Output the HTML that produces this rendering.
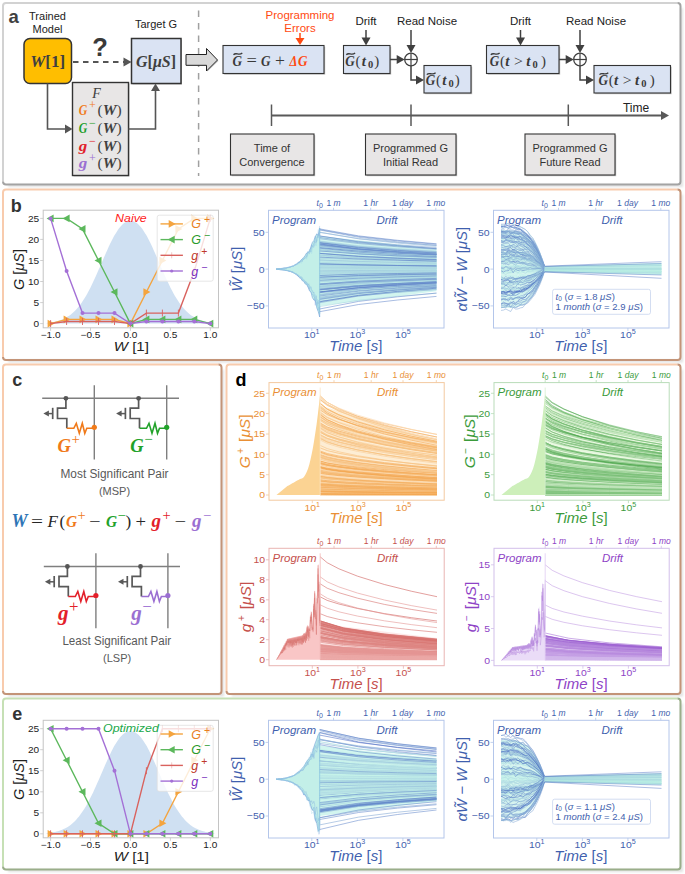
<!DOCTYPE html>
<html><head><meta charset="utf-8"><style>
html,body{margin:0;padding:0;background:#fff;width:685px;height:874px;overflow:hidden}
svg{display:block}
</style></head><body>
<svg width="685" height="874" viewBox="0 0 685 874">
<defs><filter id="blur1" x="-5%" y="-5%" width="110%" height="110%"><feGaussianBlur stdDeviation="1.2"/></filter></defs>
<rect width="685" height="874" fill="#fff"/>
<path d="M681.7,8 L681.7,185.7 L8,185.7" fill="none" stroke="#000" stroke-opacity="0.12" stroke-width="2.5" filter="url(#blur1)"/>
<path d="M3,181.5 L3,6 Q3,3 6,3 L677.5,3" fill="none" stroke="#d2d2d2" stroke-width="2"/>
<path d="M677.5,3 Q680.5,3 680.5,6 L680.5,181.5 Q680.5,184.5 677.5,184.5 L6,184.5 Q3,184.5 3,181.5" fill="none" stroke="#a3a3a3" stroke-width="2"/>
<path d="M681.7,194.5 L681.7,361.2 L8,361.2" fill="none" stroke="#000" stroke-opacity="0.12" stroke-width="2.5" filter="url(#blur1)"/>
<path d="M3,357 L3,192.5 Q3,189.5 6,189.5 L677.5,189.5" fill="none" stroke="#f8cbad" stroke-width="2"/>
<path d="M677.5,189.5 Q680.5,189.5 680.5,192.5 L680.5,357 Q680.5,360 677.5,360 L6,360 Q3,360 3,357" fill="none" stroke="#c39478" stroke-width="2"/>
<path d="M222.7,369.5 L222.7,695.2 L8,695.2" fill="none" stroke="#000" stroke-opacity="0.12" stroke-width="2.5" filter="url(#blur1)"/>
<path d="M3,691 L3,367.5 Q3,364.5 6,364.5 L218.5,364.5" fill="none" stroke="#f8cbad" stroke-width="2"/>
<path d="M218.5,364.5 Q221.5,364.5 221.5,367.5 L221.5,691 Q221.5,694 218.5,694 L6,694 Q3,694 3,691" fill="none" stroke="#c39478" stroke-width="2"/>
<path d="M681.7,369.5 L681.7,695.2 L231.5,695.2" fill="none" stroke="#000" stroke-opacity="0.12" stroke-width="2.5" filter="url(#blur1)"/>
<path d="M226.5,691 L226.5,367.5 Q226.5,364.5 229.5,364.5 L677.5,364.5" fill="none" stroke="#f8cbad" stroke-width="2"/>
<path d="M677.5,364.5 Q680.5,364.5 680.5,367.5 L680.5,691 Q680.5,694 677.5,694 L229.5,694 Q226.5,694 226.5,691" fill="none" stroke="#c39478" stroke-width="2"/>
<path d="M681.7,703.5 L681.7,870.7 L8,870.7" fill="none" stroke="#000" stroke-opacity="0.12" stroke-width="2.5" filter="url(#blur1)"/>
<path d="M3,866.5 L3,701.5 Q3,698.5 6,698.5 L677.5,698.5" fill="none" stroke="#c6e0b5" stroke-width="2"/>
<path d="M677.5,698.5 Q680.5,698.5 680.5,701.5 L680.5,866.5 Q680.5,869.5 677.5,869.5 L6,869.5 Q3,869.5 3,866.5" fill="none" stroke="#9aae8a" stroke-width="2"/>
<text x="47.5" y="20" font-size="11" fill="#222" text-anchor="middle" font-family='"Liberation Sans", sans-serif' font-weight="normal" font-style="normal" >Trained</text>
<text x="47.5" y="33" font-size="11" fill="#222" text-anchor="middle" font-family='"Liberation Sans", sans-serif' font-weight="normal" font-style="normal" >Model</text>
<rect x="24" y="38.5" width="47.5" height="45" rx="6" fill="#ffbe00" stroke="#333" stroke-width="1.5"/>
<text x="47.7" y="67" font-size="17" fill="#404040" text-anchor="middle" font-family='"Liberation Serif", serif' font-weight="bold" font-style="normal" ><tspan font-style="italic">W</tspan>[1]</text>
<text x="100" y="55.5" font-size="25.5" fill="#3a3a3a" text-anchor="middle" font-family='"Liberation Sans", sans-serif' font-weight="bold" font-style="normal" >?</text>
<line x1="73" y1="62" x2="125" y2="62" stroke="#555" stroke-width="2" stroke-dasharray="5.5,4.5"/>
<path d="M131.5,62 L123.5,57.5 L123.5,66.5 Z" fill="#555"/>
<text x="156" y="28" font-size="11" fill="#222" text-anchor="middle" font-family='"Liberation Sans", sans-serif' font-weight="normal" font-style="normal" >Target G</text>
<rect x="132.5" y="39.5" width="49.5" height="45" fill="#888" opacity="0.5"/>
<rect x="131.5" y="38.5" width="49.5" height="45" fill="#dae3f3" stroke="#333" stroke-width="1.5"/>
<text x="156" y="66.5" font-size="16" fill="#404040" text-anchor="middle" font-family='"Liberation Serif", serif' font-weight="bold" font-style="normal" ><tspan font-style="italic">G</tspan>[<tspan font-style="italic">μS</tspan>]</text>
<rect x="73.5" y="83.5" width="56" height="93" fill="#888" opacity="0.5"/>
<rect x="72.5" y="82.5" width="56" height="93" fill="#e8e6e6" stroke="#333" stroke-width="1.4"/>
<text x="96.5" y="97.5" font-size="14" fill="#404040" text-anchor="middle" font-family='"Liberation Serif", serif' font-weight="normal" font-style="italic" >F</text>
<text x="78.7" y="115" font-size="15.5" font-family='"Liberation Serif", serif' font-weight="bold" font-style="italic" fill="#f07a1a" textLength="8.5" lengthAdjust="spacingAndGlyphs">G</text>
<text x="89" y="109" font-size="12" font-family='"Liberation Serif", serif' fill="#f07a1a">+</text>
<text x="97.5" y="115" font-size="15.5" font-family='"Liberation Serif", serif' fill="#404040">(<tspan font-weight="bold" font-style="italic">W</tspan>)</text>
<text x="78.7" y="133.2" font-size="15.5" font-family='"Liberation Serif", serif' font-weight="bold" font-style="italic" fill="#1e9e2a" textLength="8.5" lengthAdjust="spacingAndGlyphs">G</text>
<text x="89" y="127.19999999999999" font-size="12" font-family='"Liberation Serif", serif' fill="#1e9e2a">−</text>
<text x="97.5" y="133.2" font-size="15.5" font-family='"Liberation Serif", serif' fill="#404040">(<tspan font-weight="bold" font-style="italic">W</tspan>)</text>
<text x="78.7" y="150.9" font-size="15.5" font-family='"Liberation Serif", serif' font-weight="bold" font-style="italic" fill="#e0202a" textLength="8.5" lengthAdjust="spacingAndGlyphs">g</text>
<text x="89" y="144.9" font-size="12" font-family='"Liberation Serif", serif' fill="#e0202a">−</text>
<text x="97.5" y="150.9" font-size="15.5" font-family='"Liberation Serif", serif' fill="#404040">(<tspan font-weight="bold" font-style="italic">W</tspan>)</text>
<text x="78.7" y="168.4" font-size="15.5" font-family='"Liberation Serif", serif' font-weight="bold" font-style="italic" fill="#9b6fd2" textLength="8.5" lengthAdjust="spacingAndGlyphs">g</text>
<text x="89" y="162.4" font-size="12" font-family='"Liberation Serif", serif' fill="#9b6fd2">+</text>
<text x="97.5" y="168.4" font-size="15.5" font-family='"Liberation Serif", serif' fill="#404040">(<tspan font-weight="bold" font-style="italic">W</tspan>)</text>
<path d="M47.5,83.5 L47.5,129 L66,129" fill="none" stroke="#555" stroke-width="1.6"/>
<path d="M72.5,129 L65,124.5 L65,133.5 Z" fill="#555"/>
<path d="M128.5,129 L155.5,129 L155.5,90" fill="none" stroke="#555" stroke-width="1.6"/>
<path d="M155.5,83.5 L151,91 L160,91 Z" fill="#555"/>
<line x1="198.6" y1="10.5" x2="198.6" y2="176" stroke="#a0a0a0" stroke-width="1.5" stroke-dasharray="6.5,6"/>
<path d="M186.5,55.5 L206.5,55.5 L206.5,49.5 L217.5,60 L206.5,70.5 L206.5,65 L186.5,65 Z" fill="#888" opacity="0.45" transform="translate(1,1)"/>
<path d="M186,54.5 L206.5,54.5 L206.5,48.5 L217.5,60 L206.5,71 L206.5,65.3 L186,65.3 Z" fill="#d9d9d9" stroke="#222" stroke-width="1"/>
<text x="300" y="19" font-size="11.5" fill="#ff4a12" text-anchor="middle" font-family='"Liberation Sans", sans-serif' font-weight="normal" font-style="normal" >Programming</text>
<text x="300" y="31.5" font-size="11.5" fill="#ff4a12" text-anchor="middle" font-family='"Liberation Sans", sans-serif' font-weight="normal" font-style="normal" >Errors</text>
<line x1="300" y1="33" x2="300" y2="40" stroke="#ff4a12" stroke-width="1.5"/>
<path d="M300,45 L295.5,38 L304.5,38 Z" fill="#ff4a12"/>
<rect x="224.2" y="46.7" width="101" height="28.0" fill="#888" opacity="0.5"/>
<rect x="223" y="45.5" width="101" height="28.0" fill="#dae3f3" stroke="#333" stroke-width="1.1"/>
<text transform="translate(232.4 65.6) scale(0.85 1)" font-size="15.5" font-family='"Liberation Serif", serif' font-weight="bold" font-style="italic" fill="#3a3a3a">G</text>
<path d="M233.5,54.8 C236.1,51.8 238.8,56.2 242.3,53" fill="none" stroke="#3a3a3a" stroke-width="1.3"/>
<text transform="translate(246.5 65.6) scale(1.15 1)" font-size="16" font-family='"Liberation Serif", serif' font-weight="normal" font-style="normal" fill="#3a3a3a">=</text>
<text transform="translate(260.9 65.6) scale(0.85 1)" font-size="15.5" font-family='"Liberation Serif", serif' font-weight="bold" font-style="italic" fill="#3a3a3a">G</text>
<text transform="translate(275 65.6) scale(1.1 1)" font-size="16" font-family='"Liberation Serif", serif' font-weight="normal" font-style="normal" fill="#3a3a3a">+</text>
<text transform="translate(289.5 65.6) scale(0.9 1)" font-size="14" font-family='"Liberation Serif", serif' font-weight="bold" font-style="italic" fill="#ff4a12">Δ</text>
<text transform="translate(298.1 65.6) scale(0.85 1)" font-size="15.5" font-family='"Liberation Serif", serif' font-weight="bold" font-style="italic" fill="#ff4a12">G</text>
<rect x="344.7" y="46.7" width="46.5" height="28.0" fill="#888" opacity="0.5"/>
<rect x="343.5" y="45.5" width="46.5" height="28.0" fill="#dae3f3" stroke="#333" stroke-width="1.1"/>
<text transform="translate(345.2 65.6) scale(0.85 1)" font-size="15.5" font-family='"Liberation Serif", serif' font-weight="bold" font-style="italic" fill="#3a3a3a">G</text>
<path d="M346.3,54.8 C348.9,51.8 351.6,56.2 355.1,53" fill="none" stroke="#3a3a3a" stroke-width="1.3"/>
<text transform="translate(355.5 65.6) scale(1.0 1)" font-size="15" font-family='"Liberation Serif", serif' font-weight="normal" font-style="normal" fill="#3a3a3a">(</text>
<text transform="translate(361.8 65.6) scale(1.0 1)" font-size="15" font-family='"Liberation Serif", serif' font-weight="bold" font-style="italic" fill="#3a3a3a">t</text>
<text transform="translate(368 67.6) scale(1.0 1)" font-size="10.5" font-family='"Liberation Serif", serif' font-weight="bold" font-style="normal" fill="#3a3a3a">0</text>
<text transform="translate(374.3 65.6) scale(1.0 1)" font-size="15" font-family='"Liberation Serif", serif' font-weight="normal" font-style="normal" fill="#3a3a3a">)</text>
<rect x="425.2" y="66.7" width="47" height="27.5" fill="#888" opacity="0.5"/>
<rect x="424" y="65.5" width="47" height="27.5" fill="#dae3f3" stroke="#333" stroke-width="1.1"/>
<text transform="translate(425.7 85.4) scale(0.85 1)" font-size="15.5" font-family='"Liberation Serif", serif' font-weight="bold" font-style="italic" fill="#3a3a3a">G</text>
<path d="M426.8,74.6 C429.4,71.6 432.1,76 435.6,72.8" fill="none" stroke="#3a3a3a" stroke-width="1.3"/>
<text transform="translate(436 85.4) scale(1.0 1)" font-size="15" font-family='"Liberation Serif", serif' font-weight="normal" font-style="normal" fill="#3a3a3a">(</text>
<text transform="translate(442.3 85.4) scale(1.0 1)" font-size="15" font-family='"Liberation Serif", serif' font-weight="bold" font-style="italic" fill="#3a3a3a">t</text>
<text transform="translate(448.5 87.4) scale(1.0 1)" font-size="10.5" font-family='"Liberation Serif", serif' font-weight="bold" font-style="normal" fill="#3a3a3a">0</text>
<text transform="translate(454.8 85.4) scale(1.0 1)" font-size="15" font-family='"Liberation Serif", serif' font-weight="normal" font-style="normal" fill="#3a3a3a">)</text>
<rect x="487.7" y="46.7" width="72.5" height="28.0" fill="#888" opacity="0.5"/>
<rect x="486.5" y="45.5" width="72.5" height="28.0" fill="#dae3f3" stroke="#333" stroke-width="1.1"/>
<text transform="translate(489.7 65.6) scale(0.85 1)" font-size="15.5" font-family='"Liberation Serif", serif' font-weight="bold" font-style="italic" fill="#3a3a3a">G</text>
<path d="M490.8,54.8 C493.4,51.8 496.1,56.2 499.6,53" fill="none" stroke="#3a3a3a" stroke-width="1.3"/>
<text transform="translate(500 65.6) scale(1.0 1)" font-size="15" font-family='"Liberation Serif", serif' font-weight="normal" font-style="normal" fill="#3a3a3a">(</text>
<text transform="translate(505.3 65.6) scale(1.0 1)" font-size="15" font-family='"Liberation Serif", serif' font-weight="bold" font-style="italic" fill="#3a3a3a">t</text>
<text transform="translate(514 65.6) scale(1.05 1)" font-size="15" font-family='"Liberation Serif", serif' font-weight="normal" font-style="normal" fill="#3a3a3a">&gt;</text>
<text transform="translate(526.3 65.6) scale(1.0 1)" font-size="15" font-family='"Liberation Serif", serif' font-weight="bold" font-style="italic" fill="#3a3a3a">t</text>
<text transform="translate(532.5 67.6) scale(1.0 1)" font-size="10.5" font-family='"Liberation Serif", serif' font-weight="bold" font-style="normal" fill="#3a3a3a">0</text>
<text transform="translate(541 65.6) scale(1.0 1)" font-size="15" font-family='"Liberation Serif", serif' font-weight="normal" font-style="normal" fill="#3a3a3a">)</text>
<rect x="595.2" y="66.7" width="76.5" height="27.5" fill="#888" opacity="0.5"/>
<rect x="594" y="65.5" width="76.5" height="27.5" fill="#dae3f3" stroke="#333" stroke-width="1.1"/>
<text transform="translate(598.4 85.4) scale(0.85 1)" font-size="15.5" font-family='"Liberation Serif", serif' font-weight="bold" font-style="italic" fill="#3a3a3a">G</text>
<path d="M599.5,74.6 C602.1,71.6 604.8,76 608.3,72.8" fill="none" stroke="#3a3a3a" stroke-width="1.3"/>
<text transform="translate(608.7 85.4) scale(1.0 1)" font-size="15" font-family='"Liberation Serif", serif' font-weight="normal" font-style="normal" fill="#3a3a3a">(</text>
<text transform="translate(614 85.4) scale(1.0 1)" font-size="15" font-family='"Liberation Serif", serif' font-weight="bold" font-style="italic" fill="#3a3a3a">t</text>
<text transform="translate(622.7 85.4) scale(1.05 1)" font-size="15" font-family='"Liberation Serif", serif' font-weight="normal" font-style="normal" fill="#3a3a3a">&gt;</text>
<text transform="translate(635 85.4) scale(1.0 1)" font-size="15" font-family='"Liberation Serif", serif' font-weight="bold" font-style="italic" fill="#3a3a3a">t</text>
<text transform="translate(641.2 87.4) scale(1.0 1)" font-size="10.5" font-family='"Liberation Serif", serif' font-weight="bold" font-style="normal" fill="#3a3a3a">0</text>
<text transform="translate(649.7 85.4) scale(1.0 1)" font-size="15" font-family='"Liberation Serif", serif' font-weight="normal" font-style="normal" fill="#3a3a3a">)</text>
<text x="366" y="25" font-size="11.5" fill="#222" text-anchor="middle" font-family='"Liberation Sans", sans-serif' font-weight="normal" font-style="normal" >Drift</text>
<line x1="366" y1="30" x2="366" y2="39.5" stroke="#404040" stroke-width="1.5"/>
<path d="M366,45.5 L361.5,37.5 L370.5,37.5 Z" fill="#404040"/>
<text x="427" y="25" font-size="11.5" fill="#222" text-anchor="middle" font-family='"Liberation Sans", sans-serif' font-weight="normal" font-style="normal" >Read Noise</text>
<line x1="411" y1="30" x2="411" y2="47" stroke="#404040" stroke-width="1.5"/>
<path d="M411,53 L406.5,45 L415.5,45 Z" fill="#404040"/>
<line x1="390" y1="59.5" x2="398.7" y2="59.5" stroke="#404040" stroke-width="1.5"/>
<path d="M404.7,59.5 L396.7,55.0 L396.7,64.0 Z" fill="#404040"/>
<circle cx="411" cy="59.5" r="6.3" fill="none" stroke="#404040" stroke-width="1.3"/>
<line x1="404.7" y1="59.5" x2="417.3" y2="59.5" stroke="#404040" stroke-width="1.2"/>
<line x1="411" y1="53.2" x2="411" y2="65.8" stroke="#404040" stroke-width="1.2"/>
<path d="M411,65.8 L411,80 L418,80" fill="none" stroke="#404040" stroke-width="1.5"/>
<path d="M424,80 L416,75.5 L416,84.5 Z" fill="#404040"/>
<text x="520.5" y="25" font-size="11.5" fill="#222" text-anchor="middle" font-family='"Liberation Sans", sans-serif' font-weight="normal" font-style="normal" >Drift</text>
<line x1="520.5" y1="30" x2="520.5" y2="39.5" stroke="#404040" stroke-width="1.5"/>
<path d="M520.5,45.5 L516.0,37.5 L525.0,37.5 Z" fill="#404040"/>
<text x="596" y="25" font-size="11.5" fill="#222" text-anchor="middle" font-family='"Liberation Sans", sans-serif' font-weight="normal" font-style="normal" >Read Noise</text>
<line x1="580" y1="30" x2="580" y2="47" stroke="#404040" stroke-width="1.5"/>
<path d="M580,53 L575.5,45 L584.5,45 Z" fill="#404040"/>
<line x1="559" y1="59.5" x2="567.7" y2="59.5" stroke="#404040" stroke-width="1.5"/>
<path d="M573.7,59.5 L565.7,55.0 L565.7,64.0 Z" fill="#404040"/>
<circle cx="580" cy="59.5" r="6.3" fill="none" stroke="#404040" stroke-width="1.3"/>
<line x1="573.7" y1="59.5" x2="586.3" y2="59.5" stroke="#404040" stroke-width="1.2"/>
<line x1="580" y1="53.2" x2="580" y2="65.8" stroke="#404040" stroke-width="1.2"/>
<path d="M580,65.8 L580,80 L588,80" fill="none" stroke="#404040" stroke-width="1.5"/>
<path d="M594,80 L586,75.5 L586,84.5 Z" fill="#404040"/>
<line x1="271.5" y1="115.5" x2="662" y2="115.5" stroke="#595959" stroke-width="2"/>
<path d="M669,115.5 L661,111 L661,120 Z" fill="#595959"/>
<line x1="271.5" y1="104.5" x2="271.5" y2="126" stroke="#595959" stroke-width="1.5"/>
<line x1="411" y1="104.5" x2="411" y2="126" stroke="#595959" stroke-width="1.5"/>
<line x1="568.3" y1="104.5" x2="568.3" y2="126" stroke="#595959" stroke-width="1.5"/>
<text x="636" y="112" font-size="12" fill="#222" text-anchor="middle" font-family='"Liberation Sans", sans-serif' font-weight="normal" font-style="normal" >Time</text>
<rect x="231.7" y="135.2" width="83.5" height="41" fill="#888" opacity="0.5"/>
<rect x="230.5" y="134" width="83.5" height="41" fill="#e8e6e6" stroke="#333" stroke-width="1.1"/>
<text x="272" y="152" font-size="11" fill="#333" text-anchor="middle" font-family='"Liberation Sans", sans-serif' font-weight="normal" font-style="normal" >Time of</text>
<text x="272" y="166" font-size="11" fill="#333" text-anchor="middle" font-family='"Liberation Sans", sans-serif' font-weight="normal" font-style="normal" >Convergence</text>
<rect x="366.7" y="135.2" width="90.5" height="41" fill="#888" opacity="0.5"/>
<rect x="365.5" y="134" width="90.5" height="41" fill="#e8e6e6" stroke="#333" stroke-width="1.1"/>
<text x="410.5" y="152" font-size="11" fill="#333" text-anchor="middle" font-family='"Liberation Sans", sans-serif' font-weight="normal" font-style="normal" >Programmed G</text>
<text x="410.5" y="166" font-size="11" fill="#333" text-anchor="middle" font-family='"Liberation Sans", sans-serif' font-weight="normal" font-style="normal" >Initial Read</text>
<rect x="526.2" y="135.2" width="90" height="41" fill="#888" opacity="0.5"/>
<rect x="525" y="134" width="90" height="41" fill="#e8e6e6" stroke="#333" stroke-width="1.1"/>
<text x="570" y="152" font-size="11" fill="#333" text-anchor="middle" font-family='"Liberation Sans", sans-serif' font-weight="normal" font-style="normal" >Programmed G</text>
<text x="570" y="166" font-size="11" fill="#333" text-anchor="middle" font-family='"Liberation Sans", sans-serif' font-weight="normal" font-style="normal" >Future Read</text>
<path d="M46.6,323.6 L46.6,322.9 L48,322.7 L49.4,322.6 L50.8,322.4 L52.2,322.2 L53.7,321.9 L55.1,321.7 L56.5,321.3 L57.9,321 L59.3,320.5 L60.7,320.1 L62.1,319.5 L63.5,318.9 L64.9,318.2 L66.3,317.5 L67.7,316.6 L69.2,315.7 L70.6,314.7 L72,313.6 L73.4,312.3 L74.8,311 L76.2,309.5 L77.6,307.9 L79,306.2 L80.4,304.4 L81.8,302.4 L83.2,300.3 L84.7,298.1 L86.1,295.7 L87.5,293.2 L88.9,290.6 L90.3,287.9 L91.7,285.1 L93.1,282.1 L94.5,279.1 L95.9,276 L97.3,272.8 L98.7,269.6 L100.2,266.4 L101.6,263.1 L103,259.8 L104.4,256.6 L105.8,253.3 L107.2,250.2 L108.6,247.1 L110,244.1 L111.4,241.2 L112.8,238.4 L114.2,235.8 L115.7,233.4 L117.1,231.2 L118.5,229.1 L119.9,227.3 L121.3,225.7 L122.7,224.3 L124.1,223.1 L125.5,222.2 L126.9,221.6 L128.3,221.1 L129.7,220.9 L131.2,220.9 L132.6,221.1 L134,221.6 L135.4,222.2 L136.8,223.1 L138.2,224.3 L139.6,225.7 L141,227.3 L142.4,229.1 L143.8,231.2 L145.2,233.4 L146.7,235.8 L148.1,238.4 L149.5,241.2 L150.9,244.1 L152.3,247.1 L153.7,250.2 L155.1,253.3 L156.5,256.6 L157.9,259.8 L159.3,263.1 L160.7,266.4 L162.2,269.6 L163.6,272.8 L165,276 L166.4,279.1 L167.8,282.1 L169.2,285.1 L170.6,287.9 L172,290.6 L173.4,293.2 L174.8,295.7 L176.2,298.1 L177.7,300.3 L179.1,302.4 L180.5,304.4 L181.9,306.2 L183.3,307.9 L184.7,309.5 L186.1,311 L187.5,312.3 L188.9,313.6 L190.3,314.7 L191.7,315.7 L193.2,316.6 L194.6,317.5 L196,318.2 L197.4,318.9 L198.8,319.5 L200.2,320.1 L201.6,320.5 L203,321 L204.4,321.3 L205.8,321.7 L207.2,321.9 L208.7,322.2 L210.1,322.4 L211.5,322.6 L212.9,322.7 L214.3,322.9 L214.3,323.6 Z" fill="#cfe0f2"/>
<rect x="43.2" y="210.2" width="175.3" height="117.60000000000002" fill="none" stroke="#c4c4c4" stroke-width="1"/>
<line x1="40.2" y1="323.6" x2="43.2" y2="323.6" stroke="#c4c4c4" stroke-width="0.8"/>
<text transform="translate(39.2 326.9) scale(1.12 1)" font-size="9" fill="#222" text-anchor="end" font-family='"Liberation Sans", sans-serif' font-weight="normal" font-style="normal" >0</text>
<line x1="40.2" y1="302.6" x2="43.2" y2="302.6" stroke="#c4c4c4" stroke-width="0.8"/>
<text transform="translate(39.2 305.9) scale(1.12 1)" font-size="9" fill="#222" text-anchor="end" font-family='"Liberation Sans", sans-serif' font-weight="normal" font-style="normal" >5</text>
<line x1="40.2" y1="281.5" x2="43.2" y2="281.5" stroke="#c4c4c4" stroke-width="0.8"/>
<text transform="translate(39.2 284.8) scale(1.12 1)" font-size="9" fill="#222" text-anchor="end" font-family='"Liberation Sans", sans-serif' font-weight="normal" font-style="normal" >10</text>
<line x1="40.2" y1="260.5" x2="43.2" y2="260.5" stroke="#c4c4c4" stroke-width="0.8"/>
<text transform="translate(39.2 263.8) scale(1.12 1)" font-size="9" fill="#222" text-anchor="end" font-family='"Liberation Sans", sans-serif' font-weight="normal" font-style="normal" >15</text>
<line x1="40.2" y1="239.4" x2="43.2" y2="239.4" stroke="#c4c4c4" stroke-width="0.8"/>
<text transform="translate(39.2 242.7) scale(1.12 1)" font-size="9" fill="#222" text-anchor="end" font-family='"Liberation Sans", sans-serif' font-weight="normal" font-style="normal" >20</text>
<line x1="40.2" y1="218.4" x2="43.2" y2="218.4" stroke="#c4c4c4" stroke-width="0.8"/>
<text transform="translate(39.2 221.7) scale(1.12 1)" font-size="9" fill="#222" text-anchor="end" font-family='"Liberation Sans", sans-serif' font-weight="normal" font-style="normal" >25</text>
<line x1="50.6" y1="327.8" x2="50.6" y2="330.8" stroke="#c4c4c4" stroke-width="0.8"/>
<text transform="translate(50.6 338) scale(1.12 1)" font-size="9" fill="#222" text-anchor="middle" font-family='"Liberation Sans", sans-serif' font-weight="normal" font-style="normal" >−1.0</text>
<line x1="90.5" y1="327.8" x2="90.5" y2="330.8" stroke="#c4c4c4" stroke-width="0.8"/>
<text transform="translate(90.5 338) scale(1.12 1)" font-size="9" fill="#222" text-anchor="middle" font-family='"Liberation Sans", sans-serif' font-weight="normal" font-style="normal" >−0.5</text>
<line x1="130.4" y1="327.8" x2="130.4" y2="330.8" stroke="#c4c4c4" stroke-width="0.8"/>
<text transform="translate(130.4 338) scale(1.12 1)" font-size="9" fill="#222" text-anchor="middle" font-family='"Liberation Sans", sans-serif' font-weight="normal" font-style="normal" >0.0</text>
<line x1="170.4" y1="327.8" x2="170.4" y2="330.8" stroke="#c4c4c4" stroke-width="0.8"/>
<text transform="translate(170.4 338) scale(1.12 1)" font-size="9" fill="#222" text-anchor="middle" font-family='"Liberation Sans", sans-serif' font-weight="normal" font-style="normal" >0.5</text>
<line x1="210.3" y1="327.8" x2="210.3" y2="330.8" stroke="#c4c4c4" stroke-width="0.8"/>
<text transform="translate(210.3 338) scale(1.12 1)" font-size="9" fill="#222" text-anchor="middle" font-family='"Liberation Sans", sans-serif' font-weight="normal" font-style="normal" >1.0</text>
<text transform="translate(131.3 351.3) scale(1.12 1)" font-size="13.5" fill="#222" text-anchor="middle" font-family='"Liberation Sans", sans-serif' font-weight="normal" font-style="normal" ><tspan font-style="italic">W</tspan> [1]</text>
<text x="19.7" y="269.5" font-size="14.5" fill="#222" text-anchor="middle" font-family='"Liberation Sans", sans-serif' transform="rotate(-90 19.7 269.5)" dy="4.5"><tspan font-style="italic">G</tspan> [<tspan font-style="italic">μS</tspan>]</text>
<path d="M50.6,323.6 L66.6,319.4 L82.5,319.4 L98.5,319.4 L114.5,319.4 L130.4,323.6 L146.4,292 L162.4,260.5 L178.4,228.9 L194.3,218.4 L210.3,218.4" fill="none" stroke="#f4a43f" stroke-width="1.4"/>
<path d="M54.6,323.6 L47.6,319.8 L47.6,327.4 Z" fill="#f4a43f"/>
<path d="M70.6,319.4 L63.6,315.6 L63.6,323.2 Z" fill="#f4a43f"/>
<path d="M86.5,319.4 L79.5,315.6 L79.5,323.2 Z" fill="#f4a43f"/>
<path d="M102.5,319.4 L95.5,315.6 L95.5,323.2 Z" fill="#f4a43f"/>
<path d="M118.5,319.4 L111.5,315.6 L111.5,323.2 Z" fill="#f4a43f"/>
<path d="M134.4,323.6 L127.4,319.8 L127.4,327.4 Z" fill="#f4a43f"/>
<path d="M150.4,292 L143.4,288.2 L143.4,295.8 Z" fill="#f4a43f"/>
<path d="M166.4,260.5 L159.4,256.7 L159.4,264.3 Z" fill="#f4a43f"/>
<path d="M182.4,228.9 L175.4,225.1 L175.4,232.7 Z" fill="#f4a43f"/>
<path d="M198.3,218.4 L191.3,214.6 L191.3,222.2 Z" fill="#f4a43f"/>
<path d="M214.3,218.4 L207.3,214.6 L207.3,222.2 Z" fill="#f4a43f"/>
<path d="M50.6,218.4 L66.6,218.4 L82.5,228.9 L98.5,260.5 L114.5,292 L130.4,323.6 L146.4,319.4 L162.4,319.4 L178.4,319.4 L194.3,319.4 L210.3,323.6" fill="none" stroke="#5cb85c" stroke-width="1.4"/>
<path d="M46.6,218.4 L53.6,214.6 L53.6,222.2 Z" fill="#5cb85c"/>
<path d="M62.6,218.4 L69.6,214.6 L69.6,222.2 Z" fill="#5cb85c"/>
<path d="M78.5,228.9 L85.5,225.1 L85.5,232.7 Z" fill="#5cb85c"/>
<path d="M94.5,260.5 L101.5,256.7 L101.5,264.3 Z" fill="#5cb85c"/>
<path d="M110.5,292 L117.5,288.2 L117.5,295.8 Z" fill="#5cb85c"/>
<path d="M126.4,323.6 L133.4,319.8 L133.4,327.4 Z" fill="#5cb85c"/>
<path d="M142.4,319.4 L149.4,315.6 L149.4,323.2 Z" fill="#5cb85c"/>
<path d="M158.4,319.4 L165.4,315.6 L165.4,323.2 Z" fill="#5cb85c"/>
<path d="M174.4,319.4 L181.4,315.6 L181.4,323.2 Z" fill="#5cb85c"/>
<path d="M190.3,319.4 L197.3,315.6 L197.3,323.2 Z" fill="#5cb85c"/>
<path d="M206.3,323.6 L213.3,319.8 L213.3,327.4 Z" fill="#5cb85c"/>
<path d="M50.6,323.6 L66.6,321.5 L82.5,321.5 L98.5,321.5 L114.5,321.5 L130.4,323.6 L146.4,313.1 L162.4,313.1 L178.4,313.1 L194.3,271 L210.3,218.4" fill="none" stroke="#d9625e" stroke-width="1.4"/>
<path d="M50.6,320.1 V327.1" stroke="#d9625e" stroke-width="0.9"/>
<path d="M66.6,318 V325" stroke="#d9625e" stroke-width="0.9"/>
<path d="M82.5,318 V325" stroke="#d9625e" stroke-width="0.9"/>
<path d="M98.5,318 V325" stroke="#d9625e" stroke-width="0.9"/>
<path d="M114.5,318 V325" stroke="#d9625e" stroke-width="0.9"/>
<path d="M130.4,320.1 V327.1" stroke="#d9625e" stroke-width="0.9"/>
<path d="M146.4,309.6 V316.6" stroke="#d9625e" stroke-width="0.9"/>
<path d="M162.4,309.6 V316.6" stroke="#d9625e" stroke-width="0.9"/>
<path d="M178.4,309.6 V316.6" stroke="#d9625e" stroke-width="0.9"/>
<path d="M194.3,267.5 V274.5" stroke="#d9625e" stroke-width="0.9"/>
<path d="M210.3,214.9 V221.9" stroke="#d9625e" stroke-width="0.9"/>
<path d="M50.6,218.4 L66.6,271 L82.5,313.1 L98.5,313.1 L114.5,313.1 L130.4,323.6 L146.4,321.5 L162.4,321.5 L178.4,321.5 L194.3,321.5 L210.3,323.6" fill="none" stroke="#a470d6" stroke-width="1.4"/>
<circle cx="50.6" cy="218.4" r="2" fill="#a470d6"/>
<circle cx="66.6" cy="271" r="2" fill="#a470d6"/>
<circle cx="82.5" cy="313.1" r="2" fill="#a470d6"/>
<circle cx="98.5" cy="313.1" r="2" fill="#a470d6"/>
<circle cx="114.5" cy="313.1" r="2" fill="#a470d6"/>
<circle cx="130.4" cy="323.6" r="2" fill="#a470d6"/>
<circle cx="146.4" cy="321.5" r="2" fill="#a470d6"/>
<circle cx="162.4" cy="321.5" r="2" fill="#a470d6"/>
<circle cx="178.4" cy="321.5" r="2" fill="#a470d6"/>
<circle cx="194.3" cy="321.5" r="2" fill="#a470d6"/>
<circle cx="210.3" cy="323.6" r="2" fill="#a470d6"/>
<rect x="157.2" y="215.2" width="56" height="66" rx="2" fill="#fff" fill-opacity="0.8" stroke="#e0e0e0" stroke-width="0.8"/>
<line x1="160.5" y1="223.9" x2="182.9" y2="223.9" stroke="#f4a43f" stroke-width="1.4"/>
<path d="M175.7,223.9 L168.7,220.1 L168.7,227.7 Z" fill="#f4a43f"/>
<text x="191.2" y="228.4" font-size="12.5" fill="#e8801f" font-family='"Liberation Sans", sans-serif' font-style="italic">G<tspan dx="3" dy="-5" font-size="10.5" font-style="normal">+</tspan></text>
<line x1="160.5" y1="239.6" x2="182.9" y2="239.6" stroke="#5cb85c" stroke-width="1.4"/>
<path d="M167.7,239.6 L174.7,235.8 L174.7,243.4 Z" fill="#5cb85c"/>
<text x="191.2" y="244.1" font-size="12.5" fill="#2a9a2a" font-family='"Liberation Sans", sans-serif' font-style="italic">G<tspan dx="3" dy="-5" font-size="10.5" font-style="normal">−</tspan></text>
<line x1="160.5" y1="255.3" x2="182.9" y2="255.3" stroke="#d9625e" stroke-width="1.4"/>
<path d="M171.7,252.3 V258.3" stroke="#d9625e" stroke-width="0.6" stroke-opacity="0.6"/>
<text x="191.2" y="259.8" font-size="12.5" fill="#c0392b" font-family='"Liberation Sans", sans-serif' font-style="italic">g<tspan dx="3" dy="-5" font-size="10.5" font-style="normal">+</tspan></text>
<line x1="160.5" y1="271" x2="182.9" y2="271" stroke="#a470d6" stroke-width="1.4"/>
<circle cx="171.7" cy="271" r="1.6" fill="#a470d6"/>
<text x="191.2" y="275.5" font-size="12.5" fill="#7b2fbe" font-family='"Liberation Sans", sans-serif' font-style="italic">g<tspan dx="3" dy="-5" font-size="10.5" font-style="normal">−</tspan></text>
<text transform="translate(130.9 222.2) scale(1.08 1)" font-size="11.5" fill="#ff1a1a" text-anchor="middle" font-family='"Liberation Sans", sans-serif' font-weight="normal" font-style="italic" >Naive</text>
<path d="M46.6,833.8 L46.6,833.1 L48,832.9 L49.4,832.8 L50.8,832.6 L52.2,832.4 L53.7,832.1 L55.1,831.9 L56.5,831.5 L57.9,831.2 L59.3,830.7 L60.7,830.3 L62.1,829.7 L63.5,829.1 L64.9,828.4 L66.3,827.7 L67.7,826.9 L69.2,825.9 L70.6,824.9 L72,823.8 L73.4,822.5 L74.8,821.2 L76.2,819.7 L77.6,818.1 L79,816.4 L80.4,814.6 L81.8,812.6 L83.2,810.5 L84.7,808.3 L86.1,805.9 L87.5,803.5 L88.9,800.8 L90.3,798.1 L91.7,795.3 L93.1,792.4 L94.5,789.3 L95.9,786.3 L97.3,783.1 L98.7,779.9 L100.2,776.6 L101.6,773.3 L103,770.1 L104.4,766.8 L105.8,763.6 L107.2,760.4 L108.6,757.3 L110,754.4 L111.4,751.5 L112.8,748.7 L114.2,746.1 L115.7,743.7 L117.1,741.5 L118.5,739.4 L119.9,737.6 L121.3,736 L122.7,734.6 L124.1,733.4 L125.5,732.5 L126.9,731.9 L128.3,731.4 L129.7,731.2 L131.2,731.2 L132.6,731.4 L134,731.9 L135.4,732.5 L136.8,733.4 L138.2,734.6 L139.6,736 L141,737.6 L142.4,739.4 L143.8,741.5 L145.2,743.7 L146.7,746.1 L148.1,748.7 L149.5,751.5 L150.9,754.4 L152.3,757.3 L153.7,760.4 L155.1,763.6 L156.5,766.8 L157.9,770.1 L159.3,773.3 L160.7,776.6 L162.2,779.9 L163.6,783.1 L165,786.3 L166.4,789.3 L167.8,792.4 L169.2,795.3 L170.6,798.1 L172,800.8 L173.4,803.5 L174.8,805.9 L176.2,808.3 L177.7,810.5 L179.1,812.6 L180.5,814.6 L181.9,816.4 L183.3,818.1 L184.7,819.7 L186.1,821.2 L187.5,822.5 L188.9,823.8 L190.3,824.9 L191.7,825.9 L193.2,826.9 L194.6,827.7 L196,828.4 L197.4,829.1 L198.8,829.7 L200.2,830.3 L201.6,830.7 L203,831.2 L204.4,831.5 L205.8,831.9 L207.2,832.1 L208.7,832.4 L210.1,832.6 L211.5,832.8 L212.9,832.9 L214.3,833.1 L214.3,833.8 Z" fill="#cfe0f2"/>
<rect x="43.2" y="720.3" width="175.3" height="117.5" fill="none" stroke="#c4c4c4" stroke-width="1"/>
<line x1="40.2" y1="833.8" x2="43.2" y2="833.8" stroke="#c4c4c4" stroke-width="0.8"/>
<text transform="translate(39.2 837.1) scale(1.12 1)" font-size="9" fill="#222" text-anchor="end" font-family='"Liberation Sans", sans-serif' font-weight="normal" font-style="normal" >0</text>
<line x1="40.2" y1="812.8" x2="43.2" y2="812.8" stroke="#c4c4c4" stroke-width="0.8"/>
<text transform="translate(39.2 816.1) scale(1.12 1)" font-size="9" fill="#222" text-anchor="end" font-family='"Liberation Sans", sans-serif' font-weight="normal" font-style="normal" >5</text>
<line x1="40.2" y1="791.8" x2="43.2" y2="791.8" stroke="#c4c4c4" stroke-width="0.8"/>
<text transform="translate(39.2 795.1) scale(1.12 1)" font-size="9" fill="#222" text-anchor="end" font-family='"Liberation Sans", sans-serif' font-weight="normal" font-style="normal" >10</text>
<line x1="40.2" y1="770.7" x2="43.2" y2="770.7" stroke="#c4c4c4" stroke-width="0.8"/>
<text transform="translate(39.2 774) scale(1.12 1)" font-size="9" fill="#222" text-anchor="end" font-family='"Liberation Sans", sans-serif' font-weight="normal" font-style="normal" >15</text>
<line x1="40.2" y1="749.7" x2="43.2" y2="749.7" stroke="#c4c4c4" stroke-width="0.8"/>
<text transform="translate(39.2 753) scale(1.12 1)" font-size="9" fill="#222" text-anchor="end" font-family='"Liberation Sans", sans-serif' font-weight="normal" font-style="normal" >20</text>
<line x1="40.2" y1="728.7" x2="43.2" y2="728.7" stroke="#c4c4c4" stroke-width="0.8"/>
<text transform="translate(39.2 732) scale(1.12 1)" font-size="9" fill="#222" text-anchor="end" font-family='"Liberation Sans", sans-serif' font-weight="normal" font-style="normal" >25</text>
<line x1="50.6" y1="837.8" x2="50.6" y2="840.8" stroke="#c4c4c4" stroke-width="0.8"/>
<text transform="translate(50.6 848) scale(1.12 1)" font-size="9" fill="#222" text-anchor="middle" font-family='"Liberation Sans", sans-serif' font-weight="normal" font-style="normal" >−1.0</text>
<line x1="90.5" y1="837.8" x2="90.5" y2="840.8" stroke="#c4c4c4" stroke-width="0.8"/>
<text transform="translate(90.5 848) scale(1.12 1)" font-size="9" fill="#222" text-anchor="middle" font-family='"Liberation Sans", sans-serif' font-weight="normal" font-style="normal" >−0.5</text>
<line x1="130.4" y1="837.8" x2="130.4" y2="840.8" stroke="#c4c4c4" stroke-width="0.8"/>
<text transform="translate(130.4 848) scale(1.12 1)" font-size="9" fill="#222" text-anchor="middle" font-family='"Liberation Sans", sans-serif' font-weight="normal" font-style="normal" >0.0</text>
<line x1="170.4" y1="837.8" x2="170.4" y2="840.8" stroke="#c4c4c4" stroke-width="0.8"/>
<text transform="translate(170.4 848) scale(1.12 1)" font-size="9" fill="#222" text-anchor="middle" font-family='"Liberation Sans", sans-serif' font-weight="normal" font-style="normal" >0.5</text>
<line x1="210.3" y1="837.8" x2="210.3" y2="840.8" stroke="#c4c4c4" stroke-width="0.8"/>
<text transform="translate(210.3 848) scale(1.12 1)" font-size="9" fill="#222" text-anchor="middle" font-family='"Liberation Sans", sans-serif' font-weight="normal" font-style="normal" >1.0</text>
<text transform="translate(131.3 861.3) scale(1.12 1)" font-size="13.5" fill="#222" text-anchor="middle" font-family='"Liberation Sans", sans-serif' font-weight="normal" font-style="normal" ><tspan font-style="italic">W</tspan> [1]</text>
<text x="19.7" y="779.5" font-size="14.5" fill="#222" text-anchor="middle" font-family='"Liberation Sans", sans-serif' transform="rotate(-90 19.7 779.5)" dy="4.5"><tspan font-style="italic">G</tspan> [<tspan font-style="italic">μS</tspan>]</text>
<path d="M50.6,833.8 L66.6,833.8 L82.5,833.8 L98.5,833.8 L114.5,833.8 L130.4,833.8 L146.4,833.8 L162.4,823.3 L178.4,791.8 L194.3,760.2 L210.3,728.7" fill="none" stroke="#f4a43f" stroke-width="1.4"/>
<path d="M54.6,833.8 L47.6,830 L47.6,837.6 Z" fill="#f4a43f"/>
<path d="M70.6,833.8 L63.6,830 L63.6,837.6 Z" fill="#f4a43f"/>
<path d="M86.5,833.8 L79.5,830 L79.5,837.6 Z" fill="#f4a43f"/>
<path d="M102.5,833.8 L95.5,830 L95.5,837.6 Z" fill="#f4a43f"/>
<path d="M118.5,833.8 L111.5,830 L111.5,837.6 Z" fill="#f4a43f"/>
<path d="M134.4,833.8 L127.4,830 L127.4,837.6 Z" fill="#f4a43f"/>
<path d="M150.4,833.8 L143.4,830 L143.4,837.6 Z" fill="#f4a43f"/>
<path d="M166.4,823.3 L159.4,819.5 L159.4,827.1 Z" fill="#f4a43f"/>
<path d="M182.4,791.8 L175.4,788 L175.4,795.6 Z" fill="#f4a43f"/>
<path d="M198.3,760.2 L191.3,756.4 L191.3,764 Z" fill="#f4a43f"/>
<path d="M214.3,728.7 L207.3,724.9 L207.3,732.5 Z" fill="#f4a43f"/>
<path d="M50.6,728.7 L66.6,760.2 L82.5,791.8 L98.5,823.3 L114.5,833.8 L130.4,833.8 L146.4,833.8 L162.4,833.8 L178.4,833.8 L194.3,833.8 L210.3,833.8" fill="none" stroke="#5cb85c" stroke-width="1.4"/>
<path d="M46.6,728.7 L53.6,724.9 L53.6,732.5 Z" fill="#5cb85c"/>
<path d="M62.6,760.2 L69.6,756.4 L69.6,764 Z" fill="#5cb85c"/>
<path d="M78.5,791.8 L85.5,788 L85.5,795.6 Z" fill="#5cb85c"/>
<path d="M94.5,823.3 L101.5,819.5 L101.5,827.1 Z" fill="#5cb85c"/>
<path d="M110.5,833.8 L117.5,830 L117.5,837.6 Z" fill="#5cb85c"/>
<path d="M126.4,833.8 L133.4,830 L133.4,837.6 Z" fill="#5cb85c"/>
<path d="M142.4,833.8 L149.4,830 L149.4,837.6 Z" fill="#5cb85c"/>
<path d="M158.4,833.8 L165.4,830 L165.4,837.6 Z" fill="#5cb85c"/>
<path d="M174.4,833.8 L181.4,830 L181.4,837.6 Z" fill="#5cb85c"/>
<path d="M190.3,833.8 L197.3,830 L197.3,837.6 Z" fill="#5cb85c"/>
<path d="M206.3,833.8 L213.3,830 L213.3,837.6 Z" fill="#5cb85c"/>
<path d="M50.6,833.8 L66.6,833.8 L82.5,833.8 L98.5,833.8 L114.5,833.8 L130.4,833.8 L146.4,770.7 L162.4,728.7 L178.4,728.7 L194.3,728.7 L210.3,728.7" fill="none" stroke="#d9625e" stroke-width="1.4"/>
<path d="M50.6,830.3 V837.3" stroke="#d9625e" stroke-width="0.9"/>
<path d="M66.6,830.3 V837.3" stroke="#d9625e" stroke-width="0.9"/>
<path d="M82.5,830.3 V837.3" stroke="#d9625e" stroke-width="0.9"/>
<path d="M98.5,830.3 V837.3" stroke="#d9625e" stroke-width="0.9"/>
<path d="M114.5,830.3 V837.3" stroke="#d9625e" stroke-width="0.9"/>
<path d="M130.4,830.3 V837.3" stroke="#d9625e" stroke-width="0.9"/>
<path d="M146.4,767.2 V774.2" stroke="#d9625e" stroke-width="0.9"/>
<path d="M162.4,725.2 V732.2" stroke="#d9625e" stroke-width="0.9"/>
<path d="M178.4,725.2 V732.2" stroke="#d9625e" stroke-width="0.9"/>
<path d="M194.3,725.2 V732.2" stroke="#d9625e" stroke-width="0.9"/>
<path d="M210.3,725.2 V732.2" stroke="#d9625e" stroke-width="0.9"/>
<path d="M50.6,728.7 L66.6,728.7 L82.5,728.7 L98.5,728.7 L114.5,770.7 L130.4,833.8 L146.4,833.8 L162.4,833.8 L178.4,833.8 L194.3,833.8 L210.3,833.8" fill="none" stroke="#a470d6" stroke-width="1.4"/>
<circle cx="50.6" cy="728.7" r="2" fill="#a470d6"/>
<circle cx="66.6" cy="728.7" r="2" fill="#a470d6"/>
<circle cx="82.5" cy="728.7" r="2" fill="#a470d6"/>
<circle cx="98.5" cy="728.7" r="2" fill="#a470d6"/>
<circle cx="114.5" cy="770.7" r="2" fill="#a470d6"/>
<circle cx="130.4" cy="833.8" r="2" fill="#a470d6"/>
<circle cx="146.4" cy="833.8" r="2" fill="#a470d6"/>
<circle cx="162.4" cy="833.8" r="2" fill="#a470d6"/>
<circle cx="178.4" cy="833.8" r="2" fill="#a470d6"/>
<circle cx="194.3" cy="833.8" r="2" fill="#a470d6"/>
<circle cx="210.3" cy="833.8" r="2" fill="#a470d6"/>
<rect x="157.2" y="725.3" width="56" height="66" rx="2" fill="#fff" fill-opacity="0.8" stroke="#e0e0e0" stroke-width="0.8"/>
<line x1="160.5" y1="734" x2="182.9" y2="734" stroke="#f4a43f" stroke-width="1.4"/>
<path d="M175.7,734 L168.7,730.2 L168.7,737.8 Z" fill="#f4a43f"/>
<text x="191.2" y="738.5" font-size="12.5" fill="#e8801f" font-family='"Liberation Sans", sans-serif' font-style="italic">G<tspan dx="3" dy="-5" font-size="10.5" font-style="normal">+</tspan></text>
<line x1="160.5" y1="749.7" x2="182.9" y2="749.7" stroke="#5cb85c" stroke-width="1.4"/>
<path d="M167.7,749.7 L174.7,745.9 L174.7,753.5 Z" fill="#5cb85c"/>
<text x="191.2" y="754.2" font-size="12.5" fill="#2a9a2a" font-family='"Liberation Sans", sans-serif' font-style="italic">G<tspan dx="3" dy="-5" font-size="10.5" font-style="normal">−</tspan></text>
<line x1="160.5" y1="765.4" x2="182.9" y2="765.4" stroke="#d9625e" stroke-width="1.4"/>
<path d="M171.7,762.4 V768.4" stroke="#d9625e" stroke-width="0.6" stroke-opacity="0.6"/>
<text x="191.2" y="769.9" font-size="12.5" fill="#c0392b" font-family='"Liberation Sans", sans-serif' font-style="italic">g<tspan dx="3" dy="-5" font-size="10.5" font-style="normal">+</tspan></text>
<line x1="160.5" y1="781.1" x2="182.9" y2="781.1" stroke="#a470d6" stroke-width="1.4"/>
<circle cx="171.7" cy="781.1" r="1.6" fill="#a470d6"/>
<text x="191.2" y="785.6" font-size="12.5" fill="#7b2fbe" font-family='"Liberation Sans", sans-serif' font-style="italic">g<tspan dx="3" dy="-5" font-size="10.5" font-style="normal">−</tspan></text>
<text transform="translate(130.9 732.3) scale(1.08 1)" font-size="11.5" fill="#1aa84a" text-anchor="middle" font-family='"Liberation Sans", sans-serif' font-weight="normal" font-style="italic" >Optimized</text>
<path d="M276,269.1 L277.5,268.8 L278.9,268.7 L280.4,268.6 L281.8,268.4 L283.3,268.2 L284.7,268 L286.2,267.9 L287.7,267.4 L289.1,267.2 L290.6,266.8 L292,266.1 L293.5,265.9 L294.9,264.9 L296.4,264.4 L297.9,262.6 L299.3,262.1 L300.8,260.2 L302.2,258.8 L303.7,257.7 L305.1,255.6 L306.6,253 L308,252.6 L309.5,251.6 L311,246.4 L312.4,242.4 L313.9,240.5 L315.3,236.6 L316.8,233.8 L318.2,235.4 L319.7,228.1 L319.7,317 L318.2,311.4 L316.8,307.9 L315.3,300.2 L313.9,300.1 L312.4,297.6 L311,292.2 L309.5,290.7 L308,287.1 L306.6,284.4 L305.1,283.9 L303.7,281.1 L302.2,280.7 L300.8,278.3 L299.3,277.3 L297.9,275.8 L296.4,274.8 L294.9,273.5 L293.5,272.9 L292,272.2 L290.6,271.5 L289.1,271.4 L287.7,270.8 L286.2,270.5 L284.7,270.2 L283.3,270 L281.8,269.7 L280.4,269.7 L278.9,269.5 L277.5,269.4 L276,269.1 Z" fill="#c3efe8" stroke="#6f9fd8" stroke-width="1" stroke-opacity="0.6"/>
<g fill="none" stroke-width="0.6" stroke-opacity="0.55">
<path d="M276,269.1 276.7,269 277.5,268.9 278.2,268.8 278.9,268.8 279.6,268.7 280.4,268.7 281.1,268.5 281.8,268.5 282.6,268.5 283.3,268.3 284,268.2 284.7,268.1 285.5,268.2 286.2,267.9 286.9,267.8 287.7,267.7 288.4,267.6 289.1,267.2 289.8,267.3 290.6,266.8 291.3,266.5 292,266.8 292.8,266.2 293.5,266.2 294.2,265.5 294.9,264.7 295.7,264.2 296.4,265.1 297.1,264.3 297.9,263.3 298.6,262.3 299.3,262.4 300,262.5 300.8,261.3 301.5,260.9 302.2,260.4 302.9,260.1 303.7,258.5 304.4,257.8 305.1,257.4 305.9,256.7 306.6,257 307.3,255.2 308,252.3 308.8,253 309.5,253.7 310.2,248.6 311,248.7 311.7,244.8 312.4,247 313.1,246.7 313.9,247.3 314.6,240.4 315.3,236 316.1,242.1 316.8,240.2 317.5,235.5 318.2,237.7 319,234.5 319.7,233M276,269.1 276.7,269.3 277.5,269.4 278.2,269.4 278.9,269.5 279.6,269.5 280.4,269.6 281.1,269.7 281.8,269.7 282.6,269.9 283.3,270 284,270.1 284.7,270.2 285.5,270.4 286.2,270.4 286.9,270.5 287.7,270.6 288.4,270.8 289.1,270.9 289.8,271.2 290.6,271.6 291.3,271.9 292,272 292.8,271.9 293.5,272.8 294.2,273.2 294.9,273.9 295.7,274.2 296.4,274.1 297.1,274.6 297.9,276.4 298.6,276.4 299.3,277.6 300,278.5 300.8,277.3 301.5,278.8 302.2,279.6 302.9,280.5 303.7,281.4 304.4,281.9 305.1,282.8 305.9,281.8 306.6,284.3 307.3,284.6 308,286.8 308.8,287.1 309.5,290 310.2,291.6 311,292.1 311.7,293.5 312.4,294.5 313.1,294.8 313.9,296.9 314.6,297.7 315.3,301.4 316.1,302.2 316.8,305.5 317.5,301.8 318.2,310.4 319,307.1 319.7,309.1M276,269.1 276.7,269 277.5,268.9 278.2,268.8 278.9,268.8 279.6,268.7 280.4,268.6 281.1,268.6 281.8,268.5 282.6,268.5 283.3,268.3 284,268.4 284.7,268.1 285.5,268 286.2,268.1 286.9,267.8 287.7,267.5 288.4,267.4 289.1,267.3 289.8,267 290.6,266.9 291.3,266.6 292,266.4 292.8,266 293.5,266.1 294.2,265.3 294.9,265.3 295.7,265.1 296.4,264.2 297.1,263.2 297.9,263 298.6,263.2 299.3,262.1 300,262.2 300.8,261.4 301.5,260.6 302.2,261.7 302.9,259.2 303.7,259.5 304.4,258.5 305.1,258.5 305.9,257.7 306.6,256.3 307.3,253.4 308,251.3 308.8,252.4 309.5,249.8 310.2,250.6 311,252.1 311.7,247.6 312.4,245.8 313.1,246.1 313.9,243.3 314.6,241.3 315.3,243 316.1,243 316.8,238.5 317.5,236.9 318.2,235.6 319,230.1 319.7,225.9M276,269.1 276.7,269.3 277.5,269.3 278.2,269.4 278.9,269.4 279.6,269.5 280.4,269.6 281.1,269.7 281.8,269.7 282.6,269.8 283.3,269.9 284,270 284.7,270 285.5,270.3 286.2,270.1 286.9,270.5 287.7,270.5 288.4,270.6 289.1,271.1 289.8,271.2 290.6,271.1 291.3,271.7 292,271.7 292.8,271.6 293.5,272.2 294.2,272.8 294.9,273.3 295.7,273.5 296.4,273.9 297.1,274.5 297.9,274.7 298.6,275.8 299.3,275.8 300,276.5 300.8,277.2 301.5,276.8 302.2,277.7 302.9,280.1 303.7,279.9 304.4,280.1 305.1,281.5 305.9,281.5 306.6,283.2 307.3,283.1 308,285.2 308.8,283.7 309.5,288.8 310.2,287.2 311,286.6 311.7,290 312.4,291 313.1,293.2 313.9,292 314.6,296.5 315.3,305.3 316.1,295.6 316.8,301.1 317.5,301.1 318.2,304.1 319,300 319.7,303.6" stroke="#7aa6dc"/>
<path d="M276,269.1 276.7,269 277.5,268.9 278.2,268.8 278.9,268.7 279.6,268.8 280.4,268.7 281.1,268.6 281.8,268.6 282.6,268.5 283.3,268.4 284,268.4 284.7,268.3 285.5,268 286.2,268 286.9,268.2 287.7,267.8 288.4,267.8 289.1,267.4 289.8,267.3 290.6,266.8 291.3,266.8 292,266.5 292.8,266.4 293.5,266.2 294.2,265.8 294.9,265.2 295.7,265.1 296.4,265 297.1,264 297.9,264 298.6,263.7 299.3,263.5 300,263 300.8,262.5 301.5,263.3 302.2,260.4 302.9,260 303.7,259.9 304.4,258.2 305.1,258 305.9,257.3 306.6,259.2 307.3,256.2 308,254.5 308.8,252.3 309.5,250.9 310.2,250.3 311,252.9 311.7,253.5 312.4,248.1 313.1,247.8 313.9,245 314.6,245.7 315.3,243.7 316.1,245.9 316.8,240.4 317.5,241 318.2,237.6 319,235.7 319.7,235.6M276,269.1 276.7,269.3 277.5,269.3 278.2,269.4 278.9,269.4 279.6,269.6 280.4,269.6 281.1,269.7 281.8,269.7 282.6,269.8 283.3,269.8 284,270 284.7,270.1 285.5,270.2 286.2,270.2 286.9,270.4 287.7,270.6 288.4,271 289.1,270.6 289.8,271.2 290.6,271.3 291.3,271.7 292,271.8 292.8,272.3 293.5,272.9 294.2,273 294.9,273.4 295.7,273.7 296.4,273.7 297.1,274.7 297.9,274.8 298.6,275 299.3,276 300,276.4 300.8,277.7 301.5,277.8 302.2,278.1 302.9,280.4 303.7,280.8 304.4,281.9 305.1,282.2 305.9,282.4 306.6,282.9 307.3,284 308,286.6 308.8,286.6 309.5,285.3 310.2,288.6 311,287.5 311.7,291.4 312.4,290.2 313.1,291.3 313.9,295.4 314.6,296.4 315.3,294.3 316.1,301.5 316.8,306.9 317.5,299 318.2,309.9 319,304.5 319.7,306.8M276,269.1 276.7,268.9 277.5,268.9 278.2,268.8 278.9,268.8 279.6,268.7 280.4,268.6 281.1,268.5 281.8,268.6 282.6,268.4 283.3,268.3 284,268.2 284.7,268 285.5,268.1 286.2,268 286.9,267.7 287.7,267.6 288.4,267.5 289.1,267.1 289.8,266.7 290.6,266.7 291.3,266.6 292,266.1 292.8,266.4 293.5,265.7 294.2,265.6 294.9,264.2 295.7,264.3 296.4,264.1 297.1,263.8 297.9,264.4 298.6,262.3 299.3,261.2 300,262 300.8,260.5 301.5,259.8 302.2,260.8 302.9,258.1 303.7,256.9 304.4,257.1 305.1,256.5 305.9,254.7 306.6,256.4 307.3,253.6 308,251.3 308.8,253.4 309.5,249 310.2,250 311,251.6 311.7,247.1 312.4,247.4 313.1,243.6 313.9,245.3 314.6,239 315.3,241.5 316.1,237.3 316.8,238.1 317.5,235.8 318.2,229.7 319,230.6 319.7,230.7M276,269.1 276.7,269.3 277.5,269.3 278.2,269.4 278.9,269.4 279.6,269.5 280.4,269.5 281.1,269.7 281.8,269.7 282.6,269.7 283.3,269.9 284,270 284.7,270.1 285.5,270.3 286.2,270.3 286.9,270.4 287.7,270.7 288.4,270.8 289.1,271.1 289.8,271 290.6,271.7 291.3,271.5 292,271.9 292.8,271.9 293.5,272.7 294.2,273.3 294.9,273.6 295.7,273.9 296.4,273.4 297.1,274.2 297.9,274.8 298.6,275 299.3,276.7 300,276.7 300.8,277.2 301.5,278.2 302.2,277.9 302.9,278.6 303.7,279.3 304.4,281.3 305.1,282 305.9,283.2 306.6,284.8 307.3,282.8 308,284.8 308.8,286.8 309.5,285.7 310.2,288 311,291.7 311.7,293.2 312.4,294.6 313.1,294 313.9,294.9 314.6,299.2 315.3,297.5 316.1,300.8 316.8,305 317.5,302.3 318.2,303.3 319,306.8 319.7,310.6" stroke="#9cd3e6"/>
</g>
<path d="M319.7,236 L436.5,248.5 L436.5,291.2 L319.7,305.9 Z" fill="#d2f5ef"/>
<g fill="none" stroke-width="0.65" stroke-opacity="0.85">
<path d="M319.7,261.3 358.6,262.8 397.6,263.7 436.5,264.4M319.7,266.6 358.6,267 397.6,267.3 436.5,267.5M319.7,260.1 358.6,261.9 397.6,263 436.5,263.8M319.7,283 358.6,280.3 397.6,278.6 436.5,277.3M319.7,266.5 358.6,266.9 397.6,267.2 436.5,267.5M319.7,290.8 358.6,286.5 397.6,283.9 436.5,281.9M319.7,288.7 358.6,285.2 397.6,283.1 436.5,281.4M319.7,272 358.6,271.5 397.6,271.2 436.5,271M319.7,285.7 358.6,282.7 397.6,280.8 436.5,279.4M319.7,271.5 358.6,271.1 397.6,270.8 436.5,270.6M319.7,248.5 358.6,252.1 397.6,254.3 436.5,256.1M319.7,264.4 358.6,265.3 397.6,265.9 436.5,266.3M319.7,287.2 358.6,283.9 397.6,281.8 436.5,280.2M319.7,256.7 358.6,258.8 397.6,260.1 436.5,261.1M319.7,287.8 358.6,284.1 397.6,281.9 436.5,280.2M319.7,256.4 358.6,258.4 397.6,259.7 436.5,260.8M319.7,265 358.6,265.8 397.6,266.3 436.5,266.7M319.7,261.3 358.6,262.8 397.6,263.8 436.5,264.5M319.7,267.3 358.6,267.7 397.6,267.9 436.5,268M319.7,259.1 358.6,260.8 397.6,261.8 436.5,262.6M319.7,289.1 358.6,285.1 397.6,282.7 436.5,280.8M319.7,268.2 358.6,268.3 397.6,268.4 436.5,268.5M319.7,244.8 358.6,249.2 397.6,251.9 436.5,254M319.7,265.4 358.6,266 397.6,266.4 436.5,266.7M319.7,263.9 358.6,264.7 397.6,265.3 436.5,265.7M319.7,254.6 358.6,257.3 397.6,259 436.5,260.3M319.7,294.6 358.6,290.1 397.6,287.4 436.5,285.2M319.7,286.5 358.6,283.3 397.6,281.3 436.5,279.8M319.7,272.1 358.6,271.5 397.6,271.1 436.5,270.8M319.7,285.6 358.6,282.7 397.6,280.9 436.5,279.5M319.7,271.1 358.6,270.7 397.6,270.5 436.5,270.4M319.7,272.1 358.6,271.6 397.6,271.2 436.5,270.9M319.7,249.6 358.6,253.2 397.6,255.4 436.5,257.2M319.7,292.1 358.6,288.3 397.6,285.9 436.5,284M319.7,269.6 358.6,269.6 397.6,269.5 436.5,269.5M319.7,272.5 358.6,271.9 397.6,271.6 436.5,271.3M319.7,260.5 358.6,262.1 397.6,263.1 436.5,263.9M319.7,261.5 358.6,262.7 397.6,263.5 436.5,264.1M319.7,276.6 358.6,275.2 397.6,274.3 436.5,273.6M319.7,275.2 358.6,274.1 397.6,273.4 436.5,272.9M319.7,261.5 358.6,262.9 397.6,263.8 436.5,264.5M319.7,270.8 358.6,270.4 397.6,270.3 436.5,270.1M319.7,279.7 358.6,278 397.6,276.8 436.5,276M319.7,263.2 358.6,264.3 397.6,264.9 436.5,265.4M319.7,262.8 358.6,263.9 397.6,264.6 436.5,265.1M319.7,249.5 358.6,252.9 397.6,255.1 436.5,256.7M319.7,252.6 358.6,255.6 397.6,257.5 436.5,259M319.7,266.1 358.6,266.6 397.6,267 436.5,267.2M319.7,294 358.6,290 397.6,287.4 436.5,285.4M319.7,255.4 358.6,257.8 397.6,259.3 436.5,260.4M319.7,288.5 358.6,285.3 397.6,283.3 436.5,281.7M319.7,256 358.6,258.4 397.6,259.9 436.5,261M319.7,276.1 358.6,274.9 397.6,274.1 436.5,273.5M319.7,283.6 358.6,280.9 397.6,279.3 436.5,278M319.7,258.1 358.6,260.2 397.6,261.5 436.5,262.5M319.7,274.1 358.6,273.3 397.6,272.7 436.5,272.3M319.7,287.5 358.6,284.5 397.6,282.6 436.5,281M319.7,246.7 358.6,251.2 397.6,254 436.5,256.1M319.7,242.2 358.6,247.5 397.6,250.8 436.5,253.3M319.7,272.1 358.6,271.6 397.6,271.2 436.5,270.9M319.7,283.5 358.6,280.7 397.6,279 436.5,277.6M319.7,268.8 358.6,268.9 397.6,268.9 436.5,268.9M319.7,274.2 358.6,273.3 397.6,272.8 436.5,272.4M319.7,262.8 358.6,263.8 397.6,264.4 436.5,264.9M319.7,266.7 358.6,267.2 397.6,267.5 436.5,267.7M319.7,270 358.6,269.9 397.6,269.7 436.5,269.7M319.7,254.9 358.6,257.3 397.6,258.9 436.5,260.1M319.7,281.5 358.6,279.3 397.6,278 436.5,276.9M319.7,278 358.6,276.3 397.6,275.3 436.5,274.5M319.7,278.7 358.6,276.9 397.6,275.8 436.5,274.9M319.7,250.2 358.6,253.9 397.6,256.1 436.5,257.9M319.7,280.8 358.6,278.6 397.6,277.3 436.5,276.2M319.7,278.4 358.6,276.7 397.6,275.7 436.5,274.8M319.7,247.8 358.6,251.6 397.6,254 436.5,255.9M319.7,261.8 358.6,263.2 397.6,264.1 436.5,264.8M319.7,249.6 358.6,253.4 397.6,255.8 436.5,257.6M319.7,278.3 358.6,276.7 397.6,275.7 436.5,275M319.7,274.3 358.6,273.2 397.6,272.6 436.5,272.1M319.7,253.2 358.6,255.9 397.6,257.7 436.5,259M319.7,298.1 358.6,293.5 397.6,290.5 436.5,288.2M319.7,271.4 358.6,271 397.6,270.7 436.5,270.5M319.7,271.9 358.6,271.4 397.6,271 436.5,270.8M319.7,284.3 358.6,281.4 397.6,279.6 436.5,278.3M319.7,275.1 358.6,274.1 397.6,273.5 436.5,273M319.7,280.9 358.6,279 397.6,277.8 436.5,276.8M319.7,262.9 358.6,264 397.6,264.7 436.5,265.3M319.7,284.4 358.6,281.8 397.6,280.2 436.5,278.9M319.7,276.7 358.6,275.2 397.6,274.3 436.5,273.6M319.7,265.3 358.6,266.1 397.6,266.5 436.5,266.9M319.7,274.4 358.6,273.4 397.6,272.8 436.5,272.4M319.7,265.6 358.6,266.2 397.6,266.5 436.5,266.8M319.7,243 358.6,248 397.6,251.1 436.5,253.4M319.7,281.9 358.6,279.6 397.6,278.2 436.5,277.2M319.7,278.3 358.6,276.6 397.6,275.6 436.5,274.8M319.7,265.5 358.6,266.2 397.6,266.7 436.5,267M319.7,278.5 358.6,276.8 397.6,275.7 436.5,274.8M319.7,266.1 358.6,266.6 397.6,267 436.5,267.2M319.7,287.4 358.6,284.2 397.6,282.3 436.5,280.7M319.7,269.1 358.6,269.1 397.6,269.1 436.5,269.1M319.7,257.9 358.6,260 397.6,261.3 436.5,262.4M319.7,288.6 358.6,284.7 397.6,282.3 436.5,280.5M319.7,286.5 358.6,283.6 397.6,281.7 436.5,280.3M319.7,292.2 358.6,288.4 397.6,286 436.5,284.1M319.7,264.1 358.6,265 397.6,265.6 436.5,266M319.7,279.8 358.6,277.7 397.6,276.4 436.5,275.3M319.7,282.6 358.6,280.2 397.6,278.8 436.5,277.6" stroke="#c4f2ea"/>
<path d="M319.7,295 358.6,290.5 397.6,287.6 436.5,285.4M319.7,278.7 358.6,276.9 397.6,275.8 436.5,275M319.7,260 358.6,261.4 397.6,262.4 436.5,263.1M319.7,242.7 358.6,246.9 397.6,249.6 436.5,251.7M319.7,232.4 358.6,238.6 397.6,242.5 436.5,245.5M319.7,245.4 358.6,249.2 397.6,251.7 436.5,253.6M319.7,302.7 358.6,296 397.6,291.9 436.5,288.8M319.7,297.3 358.6,292.7 397.6,289.8 436.5,287.4M319.7,288.3 358.6,285.2 397.6,283.3 436.5,281.7M319.7,270.9 358.6,270.6 397.6,270.4 436.5,270.2M319.7,290.1 358.6,286.6 397.6,284.4 436.5,282.6M319.7,245.6 358.6,250.2 397.6,253 436.5,255.1M319.7,287 358.6,283.5 397.6,281.4 436.5,279.7M319.7,230 358.6,237.3 397.6,241.9 436.5,245.4M319.7,236.1 358.6,241.4 397.6,244.8 436.5,247.5M319.7,245 358.6,249.3 397.6,252.1 436.5,254.2M319.7,286.2 358.6,283.2 397.6,281.3 436.5,279.8M319.7,238.7 358.6,243.6 397.6,246.8 436.5,249.3M319.7,255.1 358.6,257.9 397.6,259.6 436.5,260.9M319.7,249.7 358.6,253.6 397.6,256 436.5,257.8M319.7,301.3 358.6,295.8 397.6,292.3 436.5,289.6" stroke="#7ba2d2"/>
<path d="M319.7,284.1 358.6,281.2 397.6,279.4 436.5,278M319.7,265.3 358.6,266 397.6,266.5 436.5,266.8M319.7,273.3 358.6,272.5 397.6,272 436.5,271.6M319.7,285 358.6,282.4 397.6,280.7 436.5,279.4M319.7,259.7 358.6,261.5 397.6,262.6 436.5,263.5M319.7,281.9 358.6,279.8 397.6,278.4 436.5,277.3M319.7,253.1 358.6,255.7 397.6,257.4 436.5,258.7M319.7,298.1 358.6,292.9 397.6,289.7 436.5,287.2M319.7,262.7 358.6,263.9 397.6,264.6 436.5,265.2M319.7,255.7 358.6,257.9 397.6,259.4 436.5,260.5M319.7,274.3 358.6,273.4 397.6,272.8 436.5,272.4M319.7,263.5 358.6,264.5 397.6,265.1 436.5,265.6M319.7,241 358.6,245.6 397.6,248.5 436.5,250.8M319.7,271.7 358.6,271.2 397.6,270.9 436.5,270.7M319.7,250.9 358.6,253.9 397.6,255.9 436.5,257.4M319.7,266.7 358.6,267.1 397.6,267.4 436.5,267.6M319.7,265.2 358.6,265.9 397.6,266.4 436.5,266.7M319.7,269.5 358.6,269.5 397.6,269.4 436.5,269.4M319.7,272.7 358.6,272 397.6,271.6 436.5,271.3M319.7,306.6 358.6,300.2 397.6,296.3 436.5,293.1M319.7,250.7 358.6,253.9 397.6,255.9 436.5,257.4M319.7,281.5 358.6,279.1 397.6,277.6 436.5,276.4M319.7,286.8 358.6,283.7 397.6,281.8 436.5,280.3M319.7,255.1 358.6,257.9 397.6,259.6 436.5,260.9M319.7,267.6 358.6,267.8 397.6,268 436.5,268.1M319.7,265.3 358.6,265.9 397.6,266.3 436.5,266.6M319.7,299.7 358.6,294.9 397.6,291.8 436.5,289.3M319.7,273.6 358.6,272.9 397.6,272.4 436.5,272M319.7,241.4 358.6,246.6 397.6,249.8 436.5,252.3M319.7,263.5 358.6,264.6 397.6,265.3 436.5,265.8M319.7,255.5 358.6,257.8 397.6,259.2 436.5,260.4M319.7,275.1 358.6,274.1 397.6,273.5 436.5,273M319.7,267.4 358.6,267.7 397.6,267.9 436.5,268M319.7,262.3 358.6,263.4 397.6,264.2 436.5,264.7M319.7,272.1 358.6,271.6 397.6,271.2 436.5,270.9M319.7,268.9 358.6,269 397.6,269 436.5,269M319.7,286.9 358.6,283.8 397.6,281.9 436.5,280.3M319.7,258.2 358.6,259.9 397.6,261.1 436.5,262M319.7,283.7 358.6,280.8 397.6,279 436.5,277.7M319.7,271.2 358.6,270.8 397.6,270.6 436.5,270.4M319.7,278.1 358.6,276.6 397.6,275.7 436.5,275M319.7,271.6 358.6,271.1 397.6,270.8 436.5,270.6M319.7,258.2 358.6,259.9 397.6,261.1 436.5,261.9M319.7,267.9 358.6,268.2 397.6,268.3 436.5,268.4M319.7,266.3 358.6,266.8 397.6,267.2 436.5,267.4M319.7,267.7 358.6,268 397.6,268.1 436.5,268.2M319.7,277.4 358.6,275.9 397.6,274.9 436.5,274.2M319.7,278.9 358.6,277.3 397.6,276.3 436.5,275.5M319.7,280 358.6,278 397.6,276.8 436.5,275.8M319.7,267.1 358.6,267.4 397.6,267.6 436.5,267.8M319.7,273.3 358.6,272.5 397.6,272 436.5,271.6M319.7,247.4 358.6,251.7 397.6,254.3 436.5,256.3M319.7,268.4 358.6,268.5 397.6,268.6 436.5,268.7M319.7,283.7 358.6,280.8 397.6,279.1 436.5,277.7M319.7,247 358.6,250.6 397.6,252.8 436.5,254.6M319.7,281 358.6,278.7 397.6,277.3 436.5,276.3M319.7,260.9 358.6,262.5 397.6,263.5 436.5,264.2M319.7,281.1 358.6,279.2 397.6,277.9 436.5,277M319.7,285.8 358.6,283.1 397.6,281.4 436.5,280M319.7,249 358.6,252.6 397.6,254.9 436.5,256.6" stroke="#acd7e2"/>
<path d="M319.7,284 358.6,281.3 397.6,279.7 436.5,278.4M319.7,247.7 358.6,251.1 397.6,253.3 436.5,255M319.7,301.8 358.6,295.3 397.6,291.3 436.5,288.2M319.7,244 358.6,249 397.6,252.1 436.5,254.5M319.7,243 358.6,247.8 397.6,250.7 436.5,253.1M319.7,284.5 358.6,282 397.6,280.5 436.5,279.2M319.7,291.8 358.6,287.9 397.6,285.4 436.5,283.5M319.7,275.5 358.6,274.2 397.6,273.5 436.5,272.9M319.7,263.8 358.6,264.8 397.6,265.5 436.5,265.9M319.7,292.1 358.6,287.6 397.6,284.9 436.5,282.8M319.7,257.1 358.6,259 397.6,260.2 436.5,261.2M319.7,253.4 358.6,256.3 397.6,258.1 436.5,259.5" stroke="#4a6cc2"/>
<path d="M319.7,241.6 358.6,246.3 397.6,249.2 436.5,251.6M319.7,298.2 358.6,292.7 397.6,289.3 436.5,286.6M319.7,232.1 358.6,238.9 397.6,243.1 436.5,246.4M319.7,284.1 358.6,281.6 397.6,280.1 436.5,278.8M319.7,246.6 358.6,250.2 397.6,252.5 436.5,254.3M319.7,246 358.6,249.7 397.6,252.1 436.5,254M319.7,298.9 358.6,293 397.6,289.4 436.5,286.6M319.7,294.4 358.6,289.3 397.6,286.2 436.5,283.8" stroke="#93bcda"/>
<path d="M319.7,296 358.6,291.2 397.6,288.2 436.5,285.9M319.7,311.7 358.6,304.5 397.6,300 436.5,296.4M319.7,242.5 358.6,247.3 397.6,250.3 436.5,252.6M319.7,292.2 358.6,287.7 397.6,284.9 436.5,282.8M319.7,237.5 358.6,242.7 397.6,246 436.5,248.7M319.7,244.5 358.6,249.4 397.6,252.3 436.5,254.6M319.7,248.2 358.6,252.2 397.6,254.6 436.5,256.5M319.7,289.8 358.6,286.4 397.6,284.2 436.5,282.5M319.7,277.1 358.6,275.5 397.6,274.6 436.5,273.9M319.7,264.1 358.6,265 397.6,265.5 436.5,266M319.7,229.6 358.6,236.5 397.6,240.9 436.5,244.3M319.7,309 358.6,301.4 397.6,296.8 436.5,293.1M319.7,251 358.6,253.9 397.6,255.8 436.5,257.2M319.7,289.4 358.6,285.9 397.6,283.6 436.5,281.9M319.7,280.3 358.6,278.2 397.6,276.9 436.5,275.9M319.7,243.9 358.6,248.7 397.6,251.7 436.5,254M319.7,235.9 358.6,241.9 397.6,245.6 436.5,248.5M319.7,277.2 358.6,275.7 397.6,274.8 436.5,274.1M319.7,253.4 358.6,256.5 397.6,258.4 436.5,259.8M319.7,292.7 358.6,288.9 397.6,286.5 436.5,284.6M319.7,299.3 358.6,293.6 397.6,290.1 436.5,287.3M319.7,228.9 358.6,235.9 397.6,240.3 436.5,243.8M319.7,289.4 358.6,285.7 397.6,283.4 436.5,281.6" stroke="#6287ca"/>
</g>
<line x1="319.7" y1="227.9" x2="319.7" y2="314" stroke="#8ec8e0" stroke-width="0.8"/>
<rect x="268.5" y="210.3" width="175.5" height="117.7" fill="none" stroke="#b4c6ea" stroke-width="1"/>
<line x1="265.5" y1="305.9" x2="268.5" y2="305.9" stroke="#b4c6ea" stroke-width="0.8"/>
<text transform="translate(264.5 309.3) scale(1.1 1)" font-size="9.5" fill="#3f5fae" text-anchor="end" font-family='"Liberation Sans", sans-serif' font-weight="normal" font-style="normal" >−50</text>
<line x1="265.5" y1="269.1" x2="268.5" y2="269.1" stroke="#b4c6ea" stroke-width="0.8"/>
<text transform="translate(264.5 272.5) scale(1.1 1)" font-size="9.5" fill="#3f5fae" text-anchor="end" font-family='"Liberation Sans", sans-serif' font-weight="normal" font-style="normal" >0</text>
<line x1="265.5" y1="232.3" x2="268.5" y2="232.3" stroke="#b4c6ea" stroke-width="0.8"/>
<text transform="translate(264.5 235.7) scale(1.1 1)" font-size="9.5" fill="#3f5fae" text-anchor="end" font-family='"Liberation Sans", sans-serif' font-weight="normal" font-style="normal" >50</text>
<line x1="311.8" y1="328" x2="311.8" y2="331" stroke="#b4c6ea" stroke-width="0.8"/>
<text transform="translate(311.8 338.3) scale(1.1 1)" font-size="9.5" fill="#3f5fae" text-anchor="middle" font-family='"Liberation Sans", sans-serif'>10<tspan dy="-4" font-size="6.5">1</tspan></text>
<line x1="357.4" y1="328" x2="357.4" y2="331" stroke="#b4c6ea" stroke-width="0.8"/>
<text transform="translate(357.4 338.3) scale(1.1 1)" font-size="9.5" fill="#3f5fae" text-anchor="middle" font-family='"Liberation Sans", sans-serif'>10<tspan dy="-4" font-size="6.5">3</tspan></text>
<line x1="402.9" y1="328" x2="402.9" y2="331" stroke="#b4c6ea" stroke-width="0.8"/>
<text transform="translate(402.9 338.3) scale(1.1 1)" font-size="9.5" fill="#3f5fae" text-anchor="middle" font-family='"Liberation Sans", sans-serif'>10<tspan dy="-4" font-size="6.5">5</tspan></text>
<line x1="319.7" y1="207.8" x2="319.7" y2="210.3" stroke="#b4c6ea" stroke-width="0.8"/>
<text x="319.7" y="206.1" font-size="8.5" fill="#3f5fae" text-anchor="middle" font-family='"Liberation Sans", sans-serif' font-style="italic">t<tspan dy="1.5" font-size="7" font-style="normal">0</tspan></text>
<line x1="333.5" y1="207.8" x2="333.5" y2="210.3" stroke="#b4c6ea" stroke-width="0.8"/>
<text x="333.5" y="206.1" font-size="8.5" fill="#3f5fae" text-anchor="middle" font-family='"Liberation Sans", sans-serif'>1 <tspan font-style="italic">m</tspan></text>
<line x1="370.7" y1="207.8" x2="370.7" y2="210.3" stroke="#b4c6ea" stroke-width="0.8"/>
<text x="370.7" y="206.1" font-size="8.5" fill="#3f5fae" text-anchor="middle" font-family='"Liberation Sans", sans-serif'>1 <tspan font-style="italic">hr</tspan></text>
<line x1="402.5" y1="207.8" x2="402.5" y2="210.3" stroke="#b4c6ea" stroke-width="0.8"/>
<text x="402.5" y="206.1" font-size="8.5" fill="#3f5fae" text-anchor="middle" font-family='"Liberation Sans", sans-serif'>1 <tspan font-style="italic">day</tspan></text>
<line x1="435.8" y1="207.8" x2="435.8" y2="210.3" stroke="#b4c6ea" stroke-width="0.8"/>
<text x="435.8" y="206.1" font-size="8.5" fill="#3f5fae" text-anchor="middle" font-family='"Liberation Sans", sans-serif'>1 <tspan font-style="italic">mo</tspan></text>
<text x="272" y="223.8" font-size="11.5" fill="#3f5fae" text-anchor="start" font-family='"Liberation Sans", sans-serif' font-weight="normal" font-style="italic" >Program</text>
<text x="387" y="223.8" font-size="11.5" fill="#3f5fae" text-anchor="middle" font-family='"Liberation Sans", sans-serif' font-weight="normal" font-style="italic" >Drift</text>
<text x="355.8" y="351" font-size="15" fill="#3f5fae" text-anchor="middle" font-family='"Liberation Sans", sans-serif' font-style="italic">Time <tspan font-style="normal">[</tspan>s<tspan font-style="normal">]</tspan></text>
<text x="237.5" y="269.1" font-size="15" fill="#3f5fae" text-anchor="middle" font-family='"Liberation Sans", sans-serif' transform="rotate(-90 237.5 269.1)" dy="4.5"><tspan font-style="italic">W̃</tspan> [<tspan font-style="italic">μS</tspan>]</text>
<path d="M501,230.1 L503.4,230.1 L505.9,230.1 L508.3,230.2 L510.7,230.3 L513.1,230.5 L515.6,230.9 L518,231.4 L520.4,232.2 L522.9,233.3 L525.3,234.8 L527.7,236.7 L530.1,239 L532.6,241.9 L535,245.4 L537.4,249.5 L539.8,254.5 L542.3,260.2 L544.7,266.9 L544.7,271.3 L542.3,278 L539.8,283.7 L537.4,288.7 L535,292.8 L532.6,296.3 L530.1,299.2 L527.7,301.5 L525.3,303.4 L522.9,304.9 L520.4,306 L518,306.8 L515.6,307.3 L513.1,307.7 L510.7,307.9 L508.3,308 L505.9,308.1 L503.4,308.1 L501,308.1 Z" fill="#c8f0ea" fill-opacity="0.7"/>
<g fill="none" stroke-width="0.6" stroke-opacity="0.85">
<path d="M501,288.3 503.4,288.5 505.9,290 508.3,287.4 510.7,289.5 513.1,288 515.6,290 518,287.5 520.4,288.5 522.9,286.6 525.3,285.6 527.7,285.3 530.1,285.4 532.6,283.9 535,282.2 537.4,279.7 539.8,277.4 542.3,274.7 544.7,271.4M501,278.6 503.4,278.5 505.9,279.2 508.3,277.8 510.7,276.8 513.1,278.4 515.6,278.4 518,278.3 520.4,277.5 522.9,277.8 525.3,276.8 527.7,276.5 530.1,275.9 532.6,275 535,274.4 537.4,273.3 539.8,271.6 542.3,270.3 544.7,268.3M501,254.8 503.4,255.1 505.9,252.5 508.3,256.9 510.7,256.2 513.1,255.4 515.6,254.4 518,256.3 520.4,257.6 522.9,256.1 525.3,258.2 527.7,258.5 530.1,258.8 532.6,260.6 535,261.7 537.4,262.8 539.8,264.5 542.3,266.1 544.7,268.1M501,238.3 503.4,238.6 505.9,237.8 508.3,237.7 510.7,238.3 513.1,237 515.6,238.6 518,239.6 520.4,242.3 522.9,241 525.3,242.1 527.7,243.9 530.1,245.6 532.6,247.2 535,249.8 537.4,252.9 539.8,257 542.3,261.6 544.7,266.7M501,279.8 503.4,278.6 505.9,276.5 508.3,278.5 510.7,278.1 513.1,279 515.6,279.3 518,276.7 520.4,278.6 522.9,277.5 525.3,277.3 527.7,276.1 530.1,275.6 532.6,274.4 535,273.9 537.4,272.2 539.8,270.4 542.3,269.1 544.7,267.1M501,293.8 503.4,294.4 505.9,294 508.3,291.2 510.7,293 513.1,293.5 515.6,292.4 518,291.7 520.4,291.3 522.9,291.8 525.3,289.2 527.7,288.1 530.1,285.9 532.6,284.9 535,281.7 537.4,279.5 539.8,276.6 542.3,272.7 544.7,268.8M501,291.5 503.4,292 505.9,290.5 508.3,291.7 510.7,289.9 513.1,289.9 515.6,291 518,290 520.4,289.3 522.9,288.1 525.3,286.4 527.7,284.5 530.1,282.7 532.6,281.9 535,279.6 537.4,276.6 539.8,274.2 542.3,271.3 544.7,268.1M501,252.1 503.4,253 505.9,253.3 508.3,249.8 510.7,252.1 513.1,252.2 515.6,253.4 518,253.3 520.4,252.8 522.9,253.5 525.3,255.1 527.7,254.6 530.1,256.2 532.6,258 535,258.9 537.4,261.2 539.8,263.3 542.3,266.3 544.7,269.5M501,291.7 503.4,291.5 505.9,291.9 508.3,291.5 510.7,291.2 513.1,293.3 515.6,292.5 518,292.2 520.4,289.6 522.9,290.2 525.3,289.4 527.7,288.5 530.1,287.5 532.6,285.8 535,283 537.4,280.7 539.8,277.1 542.3,273.4 544.7,268.7M501,238.3 503.4,237.9 505.9,239.3 508.3,239.2 510.7,239.1 513.1,241.2 515.6,238.3 518,239.3 520.4,239.9 522.9,240.5 525.3,241.5 527.7,241.8 530.1,244.9 532.6,247 535,250.5 537.4,253.9 539.8,258.4 542.3,263.6 544.7,269.9M501,257.6 503.4,257 505.9,255.9 508.3,256.4 510.7,257.6 513.1,254.4 515.6,256.4 518,257.5 520.4,258 522.9,258 525.3,257.3 527.7,259.2 530.1,259.6 532.6,261 535,261.5 537.4,263.6 539.8,265.4 542.3,268 544.7,271M501,284.1 503.4,283 505.9,285.2 508.3,282.7 510.7,280.2 513.1,283.9 515.6,282.7 518,283.7 520.4,281.7 522.9,282.3 525.3,279.7 527.7,279.4 530.1,278.9 532.6,277.2 535,275.7 537.4,273.5 539.8,271.4 542.3,269.5 544.7,267.1M501,247 503.4,247.8 505.9,246.3 508.3,247.1 510.7,246.5 513.1,244.5 515.6,246 518,246.7 520.4,248.5 522.9,249.7 525.3,248.9 527.7,251.1 530.1,252.4 532.6,254.5 535,256.6 537.4,258.9 539.8,262.8 542.3,266.7 544.7,271.3M501,254.5 503.4,254 505.9,255 508.3,251.1 510.7,255 513.1,255 515.6,253.7 518,255 520.4,256.8 522.9,255.4 525.3,256.4 527.7,256.7 530.1,258 532.6,258.6 535,259.5 537.4,260.9 539.8,262.7 542.3,264.5 544.7,266.6M501,245.2 503.4,245.3 505.9,247.1 508.3,245.7 510.7,245.5 513.1,246.9 515.6,247.9 518,244.3 520.4,245.9 522.9,247.3 525.3,246.7 527.7,248.1 530.1,249.8 532.6,251.6 535,253.4 537.4,255.8 539.8,259.1 542.3,262.7 544.7,266.8M501,232.7 503.4,231.6 505.9,231.9 508.3,231.2 510.7,233.7 513.1,232.3 515.6,233.8 518,233.7 520.4,233 522.9,235.3 525.3,238 527.7,239.1 530.1,241.1 532.6,243 535,247 537.4,251.3 539.8,255.6 542.3,261.4 544.7,268.1M501,237 503.4,236.4 505.9,237.6 508.3,237.6 510.7,234.5 513.1,237 515.6,237.8 518,237.6 520.4,239.2 522.9,238.5 525.3,239.3 527.7,241.6 530.1,242.6 532.6,245.5 535,248.1 537.4,251.9 539.8,256.1 542.3,261.2 544.7,267.2M501,231.4 503.4,231.9 505.9,231.7 508.3,231.4 510.7,232 513.1,232.3 515.6,230.4 518,232.2 520.4,231.6 522.9,234.6 525.3,235.2 527.7,236.9 530.1,238.9 532.6,241.4 535,244.6 537.4,248.8 539.8,253.3 542.3,259.5 544.7,266.7M501,231.4 503.4,231.7 505.9,232.5 508.3,231.7 510.7,233.7 513.1,232.4 515.6,233.2 518,234.6 520.4,233.6 522.9,234.9 525.3,236.9 527.7,238.5 530.1,240.5 532.6,244.1 535,247.7 537.4,251.3 539.8,255.5 542.3,260.7 544.7,266.6M501,267.9 503.4,267.8 505.9,266.4 508.3,268.8 510.7,267.6 513.1,266 515.6,266.8 518,266.1 520.4,267.3 522.9,267.4 525.3,266.8 527.7,267.3 530.1,267.4 532.6,267.7 535,268 537.4,267 539.8,267.4 542.3,267.3 544.7,267.1M501,235.2 503.4,235.9 505.9,235.2 508.3,237.2 510.7,235.4 513.1,236.2 515.6,237 518,236.5 520.4,236.7 522.9,237.9 525.3,238 527.7,240.5 530.1,241.7 532.6,244.5 535,248.2 537.4,251.8 539.8,257.3 542.3,263 544.7,270.2M501,293.4 503.4,293.6 505.9,294.1 508.3,295 510.7,293.8 513.1,292.6 515.6,291.9 518,293 520.4,291.1 522.9,292.3 525.3,289.8 527.7,289.8 530.1,287.5 532.6,286.2 535,284 537.4,281.2 539.8,277.8 542.3,274.5 544.7,270.3M501,252.2 503.4,252.1 505.9,253.9 508.3,251.5 510.7,252.8 513.1,252.6 515.6,251.8 518,253.2 520.4,252.8 522.9,254.6 525.3,255.6 527.7,256.6 530.1,257.4 532.6,259.3 535,260.1 537.4,261.8 539.8,263.9 542.3,266.2 544.7,268.6M501,262.9 503.4,263.9 505.9,263.5 508.3,264.7 510.7,263.3 513.1,261.9 515.6,262.8 518,263.3 520.4,263.7 522.9,263.5 525.3,264.1 527.7,264.2 530.1,262.8 532.6,264.1 535,265 537.4,265.1 539.8,265.8 542.3,267 544.7,268M501,224.3 503.4,224.2 505.9,224.5 508.3,223.2 510.7,225.5 513.1,225 515.6,224.9 518,226.5 520.4,226.6 522.9,228.3 525.3,229.4 527.7,231.7 530.1,235.5 532.6,237.8 535,242.5 537.4,247.4 539.8,253.6 542.3,260.5 544.7,269.2M501,230.3 503.4,232.4 505.9,231.8 508.3,230.1 510.7,231 513.1,231.1 515.6,231.6 518,231.8 520.4,233.4 522.9,232.6 525.3,235.5 527.7,236.7 530.1,238.1 532.6,241.4 535,245.5 537.4,250.1 539.8,255.8 542.3,262.4 544.7,270.4M501,284.4 503.4,284.4 505.9,285.7 508.3,284.4 510.7,285.9 513.1,284.7 515.6,283.7 518,284.4 520.4,284.7 522.9,283.9 525.3,283.2 527.7,282.1 530.1,282.5 532.6,281 535,278.5 537.4,276.9 539.8,274.6 542.3,271.8 544.7,268.6M501,261.9 503.4,261 505.9,262.4 508.3,260.1 510.7,263.8 513.1,261.4 515.6,262.4 518,260.2 520.4,262.6 522.9,263.4 525.3,262 527.7,264.2 530.1,263.4 532.6,264.3 535,264 537.4,264.9 539.8,265.3 542.3,266.1 544.7,266.8M501,304.3 503.4,302 505.9,303.9 508.3,304 510.7,302 513.1,303 515.6,303.8 518,301.4 520.4,301 522.9,299.5 525.3,299.5 527.7,297.7 530.1,294.5 532.6,292.2 535,289.5 537.4,285 539.8,280.2 542.3,275.1 544.7,269M501,287.9 503.4,287.5 505.9,288.4 508.3,289.2 510.7,290 513.1,287.7 515.6,287.9 518,288.4 520.4,287.9 522.9,287.4 525.3,288.3 527.7,285.8 530.1,284.5 532.6,283.4 535,282.1 537.4,279.8 539.8,277.4 542.3,274.5 544.7,271.5M501,253 503.4,251.8 505.9,254.3 508.3,253.3 510.7,254.5 513.1,252.4 515.6,252.4 518,252.5 520.4,254.4 522.9,254.6 525.3,254.8 527.7,256.1 530.1,257.1 532.6,258.6 535,260.3 537.4,262.5 539.8,264.9 542.3,268 544.7,271.3M501,287.3 503.4,287.3 505.9,285.3 508.3,286.7 510.7,287.1 513.1,287.2 515.6,287.2 518,283.1 520.4,285.2 522.9,284.3 525.3,283.8 527.7,282.1 530.1,282.1 532.6,281.1 535,279 537.4,277.1 539.8,275 542.3,273.3 544.7,271.1" stroke="#6287ca"/>
<path d="M501,284.4 503.4,283.3 505.9,284.3 508.3,282.8 510.7,283.7 513.1,282.9 515.6,284.2 518,283.1 520.4,280.6 522.9,281.6 525.3,280.8 527.7,280.5 530.1,279.2 532.6,278.9 535,277.4 537.4,275.5 539.8,273.7 542.3,271.9 544.7,269.7M501,283.2 503.4,283.2 505.9,281.9 508.3,283.8 510.7,280.9 513.1,282.3 515.6,283.6 518,282.1 520.4,280.1 522.9,281.7 525.3,281.3 527.7,279.4 530.1,278 532.6,277 535,276 537.4,274.1 539.8,271.9 542.3,269.4 544.7,266.6M501,284.5 503.4,286 505.9,284.5 508.3,285.3 510.7,286.2 513.1,285 515.6,284.9 518,283.5 520.4,285 522.9,283.4 525.3,282.8 527.7,280.8 530.1,281.2 532.6,279 535,278.6 537.4,276.3 539.8,274.5 542.3,272.3 544.7,269.9M501,278 503.4,278.2 505.9,278.9 508.3,276.3 510.7,275.5 513.1,278.7 515.6,277.3 518,276.6 520.4,275.6 522.9,278.9 525.3,276.7 527.7,276.1 530.1,276.7 532.6,275.3 535,274.7 537.4,273.8 539.8,273.2 542.3,272 544.7,270.7M501,271.5 503.4,271 505.9,269.6 508.3,272.7 510.7,272.7 513.1,270.9 515.6,269.6 518,271.2 520.4,270.4 522.9,271.4 525.3,270.4 527.7,271.2 530.1,270.3 532.6,270.1 535,269.8 537.4,269.2 539.8,268.9 542.3,268.6 544.7,267.9M501,289.8 503.4,288.9 505.9,289.6 508.3,289.2 510.7,288.6 513.1,290.1 515.6,289.3 518,289.7 520.4,289.6 522.9,288.1 525.3,288.4 527.7,286.9 530.1,286.1 532.6,284.1 535,282.2 537.4,279.2 539.8,276.3 542.3,272.4 544.7,267.7M501,275.5 503.4,277 505.9,275 508.3,275.7 510.7,275.1 513.1,274.9 515.6,277.1 518,273 520.4,274.9 522.9,274.8 525.3,275.8 527.7,274 530.1,273.8 532.6,273.7 535,272.9 537.4,272.1 539.8,271.6 542.3,270.7 544.7,269.5M501,266.5 503.4,266.1 505.9,266.1 508.3,267 510.7,266.6 513.1,266 515.6,266 518,265.9 520.4,265.9 522.9,266.4 525.3,266.4 527.7,267.1 530.1,267.1 532.6,266.8 535,268 537.4,267.5 539.8,267.3 542.3,268.3 544.7,268.4M501,240.7 503.4,239.5 505.9,240.4 508.3,240 510.7,239.8 513.1,239.9 515.6,240.1 518,240.9 520.4,242.9 522.9,241.3 525.3,245.2 527.7,244.1 530.1,246.8 532.6,248.7 535,251.3 537.4,254.2 539.8,257.7 542.3,261.9 544.7,266.7M501,270.8 503.4,271.9 505.9,271.4 508.3,269.5 510.7,272.3 513.1,272.1 515.6,271 518,272.3 520.4,273.2 522.9,272.4 525.3,270.9 527.7,270.8 530.1,270.9 532.6,271 535,271.6 537.4,271.1 539.8,271 542.3,271.3 544.7,271.2M501,273.1 503.4,273.6 505.9,271.7 508.3,273.1 510.7,273.1 513.1,272.9 515.6,274.1 518,273.3 520.4,273.6 522.9,274.7 525.3,274 527.7,272.2 530.1,272.7 532.6,272.3 535,272.5 537.4,271.8 539.8,271.2 542.3,271 544.7,270.6M501,300.2 503.4,299.2 505.9,300.1 508.3,298 510.7,297.9 513.1,299.8 515.6,298.8 518,297.8 520.4,296.5 522.9,297.3 525.3,294.8 527.7,292.1 530.1,291.2 532.6,288.7 535,286 537.4,283.1 539.8,278.9 542.3,274.8 544.7,270M501,259.7 503.4,260 505.9,258.5 508.3,259.4 510.7,259.8 513.1,259.8 515.6,259.5 518,259.8 520.4,261.9 522.9,260.9 525.3,260.7 527.7,260.5 530.1,260.8 532.6,262.4 535,262.1 537.4,263.6 539.8,264.5 542.3,265.8 544.7,267M501,252.7 503.4,253 505.9,252.6 508.3,251.6 510.7,252.6 513.1,252.9 515.6,254.6 518,253.1 520.4,253.9 522.9,253.2 525.3,255.3 527.7,256.4 530.1,257.9 532.6,258.7 535,260.9 537.4,263.1 539.8,265.2 542.3,268.2 544.7,271.6M501,245.3 503.4,245.1 505.9,244.8 508.3,245.7 510.7,243.1 513.1,246 515.6,245.7 518,244.9 520.4,245.8 522.9,247.2 525.3,247.8 527.7,248.8 530.1,250.8 532.6,252.3 535,255.1 537.4,257.3 539.8,260.7 542.3,264 544.7,268.1M501,256.1 503.4,257.8 505.9,256.8 508.3,255.2 510.7,258.6 513.1,258.7 515.6,257.9 518,258 520.4,257.3 522.9,258 525.3,258.4 527.7,258.9 530.1,259.5 532.6,260.7 535,261.5 537.4,263.1 539.8,265 542.3,266.8 544.7,269.5M501,266.5 503.4,265.4 505.9,268.7 508.3,268.1 510.7,263.7 513.1,264.5 515.6,266.1 518,265.7 520.4,265.6 522.9,265 525.3,266.4 527.7,266.4 530.1,266.3 532.6,266.1 535,266.2 537.4,266.6 539.8,266.6 542.3,267 544.7,267.2M501,281.8 503.4,281.7 505.9,281.7 508.3,283.7 510.7,282.3 513.1,280.3 515.6,282.5 518,282.2 520.4,279.2 522.9,279.6 525.3,279 527.7,279.3 530.1,278.3 532.6,277 535,275.9 537.4,274.6 539.8,273 542.3,270.7 544.7,268.2M501,262.9 503.4,263.7 505.9,260.9 508.3,263.5 510.7,263.2 513.1,263.6 515.6,263.4 518,262.9 520.4,262.5 522.9,264.2 525.3,263.5 527.7,264.5 530.1,264 532.6,265.8 535,266 537.4,266.7 539.8,268.1 542.3,269 544.7,270.4M501,278.6 503.4,279.5 505.9,279.4 508.3,279.3 510.7,279.1 513.1,279.8 515.6,279 518,278.2 520.4,277.9 522.9,277.5 525.3,277.7 527.7,276.7 530.1,276 532.6,274.3 535,273.3 537.4,272.5 539.8,271 542.3,269.9 544.7,268.2M501,256 503.4,255.6 505.9,255.6 508.3,255.6 510.7,255 513.1,256.2 515.6,256.5 518,255.1 520.4,256.2 522.9,257.8 525.3,259 527.7,259.5 530.1,260 532.6,260.9 535,261.7 537.4,264 539.8,265.5 542.3,267.3 544.7,269.2M501,296 503.4,295.4 505.9,295.7 508.3,295.4 510.7,294.7 513.1,294.4 515.6,294.2 518,293.6 520.4,293.9 522.9,291.8 525.3,291.9 527.7,290.2 530.1,287.2 532.6,285 535,282 537.4,279.6 539.8,276.5 542.3,273.3 544.7,269.4M501,276.3 503.4,275.9 505.9,275.1 508.3,276.4 510.7,275.5 513.1,276.2 515.6,275.2 518,277.9 520.4,275 522.9,275.7 525.3,275.4 527.7,276.4 530.1,274.9 532.6,273.7 535,272.8 537.4,273.2 539.8,272.5 542.3,271.7 544.7,271M501,269.4 503.4,269.4 505.9,269.6 508.3,268.9 510.7,270 513.1,268.3 515.6,271 518,269.1 520.4,268.9 522.9,270.1 525.3,269.4 527.7,268.3 530.1,269 532.6,269.1 535,269.6 537.4,268.3 539.8,268.2 542.3,268 544.7,267.7M501,290.5 503.4,291.1 505.9,290.3 508.3,288.5 510.7,290.4 513.1,288.3 515.6,289.8 518,288.8 520.4,290.1 522.9,288.3 525.3,289.2 527.7,287.4 530.1,286.5 532.6,285.7 535,283.5 537.4,280.6 539.8,278.1 542.3,275 544.7,271.5M501,297.1 503.4,296.7 505.9,296.7 508.3,298.3 510.7,297.9 513.1,295.1 515.6,298.2 518,295.5 520.4,295.2 522.9,293.2 525.3,292.7 527.7,292.1 530.1,289.1 532.6,287.6 535,283.9 537.4,280.8 539.8,277.1 542.3,272.3 544.7,266.8M501,287.4 503.4,287.4 505.9,288.3 508.3,287.7 510.7,286.6 513.1,288.5 515.6,287.4 518,286 520.4,283.8 522.9,283.7 525.3,282.2 527.7,281.3 530.1,281 532.6,279.2 535,277.9 537.4,275.2 539.8,273.2 542.3,270.9 544.7,268.3M501,257.2 503.4,256.3 505.9,256.9 508.3,257.4 510.7,256.3 513.1,257.2 515.6,259.4 518,258.7 520.4,259.8 522.9,258.7 525.3,259.4 527.7,259.6 530.1,259.7 532.6,262 535,263.1 537.4,264.7 539.8,266.8 542.3,268.5 544.7,270.7M501,257.4 503.4,258 505.9,257.2 508.3,258.8 510.7,256.9 513.1,258.5 515.6,258.3 518,257.5 520.4,257.7 522.9,259.4 525.3,259.9 527.7,259.5 530.1,262.1 532.6,261 535,262 537.4,263.7 539.8,264.4 542.3,265.9 544.7,267.4M501,269.6 503.4,268.5 505.9,269 508.3,270.4 510.7,270.2 513.1,269.4 515.6,270.8 518,267.8 520.4,268.3 522.9,269.8 525.3,269.1 527.7,268.1 530.1,268.8 532.6,269.4 535,269.7 537.4,269.3 539.8,268.7 542.3,268.8 544.7,268.8M501,265.5 503.4,266 505.9,267.2 508.3,268.5 510.7,265.6 513.1,266.6 515.6,265.9 518,265.1 520.4,267.2 522.9,267.3 525.3,265.9 527.7,265.9 530.1,266.4 532.6,266.6 535,267.1 537.4,266.9 539.8,267.3 542.3,267.5 544.7,268M501,272 503.4,271.8 505.9,272.7 508.3,272.3 510.7,271.9 513.1,270.9 515.6,270.9 518,270 520.4,272.8 522.9,271.8 525.3,272.7 527.7,271.6 530.1,271.8 532.6,270.2 535,270 537.4,270 539.8,269.2 542.3,268.6 544.7,268M501,258.1 503.4,256.8 505.9,258.3 508.3,257.9 510.7,256.8 513.1,257.9 515.6,256.8 518,259.2 520.4,257.8 522.9,259.8 525.3,260.2 527.7,260.4 530.1,260.5 532.6,261.6 535,262.7 537.4,263.1 539.8,264.8 542.3,266.1 544.7,267.7M501,271.4 503.4,270.8 505.9,271.8 508.3,270.4 510.7,271 513.1,271.4 515.6,270.3 518,270.3 520.4,273.1 522.9,270.9 525.3,270.4 527.7,270.1 530.1,270.5 532.6,270.5 535,269.8 537.4,269.4 539.8,269.6 542.3,269 544.7,268.5M501,278.8 503.4,278.5 505.9,277.7 508.3,278.9 510.7,277.7 513.1,278.3 515.6,279 518,277 520.4,278.5 522.9,277.4 525.3,275.5 527.7,275.9 530.1,276.1 532.6,274.7 535,274 537.4,272.7 539.8,271.6 542.3,269.9 544.7,268.3M501,241.4 503.4,241.3 505.9,240.6 508.3,239.2 510.7,240.3 513.1,243.2 515.6,242.1 518,242.8 520.4,244 522.9,244.1 525.3,244.9 527.7,247.9 530.1,249.1 532.6,251.5 535,255.3 537.4,257.8 539.8,261.8 542.3,266.5 544.7,271.5M501,273.2 503.4,273.4 505.9,272.4 508.3,273.8 510.7,273.2 513.1,272.1 515.6,272.4 518,273.5 520.4,271.6 522.9,271.8 525.3,271.1 527.7,272.1 530.1,271.5 532.6,270.7 535,270.4 537.4,269.7 539.8,268.9 542.3,267.8 544.7,266.6M501,260.7 503.4,260.9 505.9,261 508.3,261.6 510.7,263.6 513.1,260.4 515.6,260.6 518,261.9 520.4,261.8 522.9,261.8 525.3,263 527.7,262.5 530.1,263.1 532.6,263.9 535,264.8 537.4,266.6 539.8,267.2 542.3,268.7 544.7,270.2M501,252.6 503.4,253.5 505.9,253.3 508.3,252.5 510.7,252.6 513.1,251.6 515.6,252 518,252.6 520.4,253.6 522.9,253.7 525.3,254.4 527.7,254.1 530.1,255.8 532.6,257.7 535,259.4 537.4,261 539.8,264 542.3,267.1 544.7,271M501,265.4 503.4,265.6 505.9,264.6 508.3,267.1 510.7,265.3 513.1,266.6 515.6,266.9 518,267.2 520.4,267.3 522.9,265.6 525.3,265.9 527.7,266.7 530.1,266.7 532.6,267.6 535,268.2 537.4,268.9 539.8,269.1 542.3,269.9 544.7,270.7M501,258.1 503.4,259.7 505.9,259.2 508.3,257.4 510.7,259.7 513.1,259.9 515.6,259.8 518,258.9 520.4,260 522.9,259 525.3,258.9 527.7,258.9 530.1,260.6 532.6,260.5 535,262 537.4,263.5 539.8,264.9 542.3,266.7 544.7,269.1M501,266.1 503.4,266.6 505.9,266.4 508.3,267.1 510.7,266.1 513.1,266.1 515.6,265.9 518,267.4 520.4,266.2 522.9,267.2 525.3,266.9 527.7,266.7 530.1,266.7 532.6,268 535,268.6 537.4,268.8 539.8,269.3 542.3,270.3 544.7,271.3" stroke="#c4f2ea"/>
<path d="M501,296.1 503.4,296.1 505.9,296.6 508.3,295.2 510.7,295.7 513.1,295 515.6,295.4 518,294.3 520.4,292.4 522.9,291.5 525.3,290.7 527.7,288.6 530.1,286.9 532.6,284.7 535,281.8 537.4,279.7 539.8,276.4 542.3,272.9 544.7,269M501,282.1 503.4,281.5 505.9,279.9 508.3,279.9 510.7,283 513.1,281.5 515.6,281.9 518,281.4 520.4,280.6 522.9,278.3 525.3,279 527.7,278.6 530.1,277.9 532.6,276.5 535,275.6 537.4,274.9 539.8,273.2 542.3,272.1 544.7,270.5M501,258 503.4,257 505.9,259.8 508.3,259 510.7,258.1 513.1,259.6 515.6,258.9 518,258.5 520.4,259.9 522.9,258.9 525.3,259.3 527.7,260.8 530.1,260.7 532.6,261.1 535,262.5 537.4,263.4 539.8,264.6 542.3,266.2 544.7,267.8M501,292.6 503.4,291.8 505.9,292.6 508.3,291.3 510.7,291.1 513.1,292.4 515.6,291.3 518,291.7 520.4,290 522.9,290.1 525.3,289.4 527.7,287.8 530.1,286.4 532.6,284.4 535,282.5 537.4,280.6 539.8,277.8 542.3,274.7 544.7,271.5M501,270.7 503.4,272.1 505.9,270.7 508.3,270.8 510.7,268.4 513.1,272.7 515.6,269.2 518,270.7 520.4,269.7 522.9,270.5 525.3,270 527.7,269.3 530.1,269.6 532.6,268.9 535,269 537.4,268.6 539.8,268.1 542.3,267.5 544.7,266.9M501,226.9 503.4,226.5 505.9,226.7 508.3,228.3 510.7,226.2 513.1,228 515.6,228 518,230.1 520.4,229.1 522.9,230.9 525.3,233.1 527.7,236.3 530.1,238.9 532.6,241.7 535,246.3 537.4,251 539.8,256.5 542.3,262.9 544.7,269.9M501,226.2 503.4,226.8 505.9,225.9 508.3,225.1 510.7,226.5 513.1,225.4 515.6,227.1 518,228.2 520.4,229 522.9,232.2 525.3,234 527.7,235.7 530.1,238.6 532.6,241.5 535,245.5 537.4,250.2 539.8,255.2 542.3,260.8 544.7,267M501,261.7 503.4,261.6 505.9,259.8 508.3,258.7 510.7,261.7 513.1,261.4 515.6,261.1 518,261.2 520.4,262.8 522.9,262.3 525.3,263.8 527.7,265.4 530.1,265.2 532.6,265.1 535,265.8 537.4,267.5 539.8,268.3 542.3,269.1 544.7,270.4M501,299.9 503.4,299 505.9,299.5 508.3,300 510.7,298.8 513.1,299.7 515.6,297.9 518,296.9 520.4,297.8 522.9,297.9 525.3,297.4 527.7,293.9 530.1,293.1 532.6,291.4 535,287.6 537.4,284.7 539.8,279.8 542.3,274.2 544.7,267.5M501,304 503.4,303.2 505.9,303.1 508.3,304.4 510.7,303.8 513.1,301.3 515.6,303.1 518,300.6 520.4,298.8 522.9,298.3 525.3,296.9 527.7,294.2 530.1,292.3 532.6,289.7 535,286.4 537.4,282.4 539.8,278.3 542.3,273.6 544.7,268.4M501,252 503.4,253.8 505.9,253.4 508.3,250 510.7,251.8 513.1,251.7 515.6,252.5 518,252 520.4,254.4 522.9,254.9 525.3,255.2 527.7,255 530.1,255.8 532.6,257.4 535,259.2 537.4,261.4 539.8,263.1 542.3,265.8 544.7,268.7M501,292.4 503.4,291 505.9,294.7 508.3,292.3 510.7,290.7 513.1,291.7 515.6,291.9 518,291.3 520.4,291.5 522.9,289.8 525.3,287.7 527.7,286.7 530.1,284.8 532.6,283.1 535,280.9 537.4,279 539.8,276 542.3,273 544.7,269.8M501,249.2 503.4,249.5 505.9,249.2 508.3,248.3 510.7,247.4 513.1,250.1 515.6,248.7 518,249.7 520.4,250.4 522.9,250 525.3,251.9 527.7,252 530.1,254.4 532.6,256.2 535,257.6 537.4,260.7 539.8,263.3 542.3,266.4 544.7,270.2M501,234.7 503.4,235.5 505.9,236.7 508.3,236.2 510.7,236 513.1,236.4 515.6,237 518,237.9 520.4,239.5 522.9,240.2 525.3,241 527.7,244.6 530.1,246.9 532.6,249.2 535,252.3 537.4,256.1 539.8,260.2 542.3,265 544.7,270.1M501,240.4 503.4,241.6 505.9,239.7 508.3,240.3 510.7,240.6 513.1,241.7 515.6,241.6 518,241.1 520.4,242.7 522.9,242.2 525.3,243.1 527.7,244.5 530.1,245.9 532.6,248.1 535,251 537.4,253.9 539.8,257.2 542.3,261.4 544.7,266.5M501,242.1 503.4,242.7 505.9,240.5 508.3,241 510.7,242.3 513.1,242.7 515.6,241.8 518,243 520.4,244.4 522.9,245 525.3,246.6 527.7,248.5 530.1,250.6 532.6,252.3 535,255.6 537.4,259 539.8,262.1 542.3,266.5 544.7,271.4M501,226 503.4,226 505.9,224.7 508.3,226.1 510.7,226.6 513.1,227.6 515.6,227.7 518,228.4 520.4,229.3 522.9,231.9 525.3,233 527.7,235.1 530.1,238.4 532.6,242.7 535,246.2 537.4,251.3 539.8,257.2 542.3,263.8 544.7,271.1M501,250 503.4,250.1 505.9,250.4 508.3,248.8 510.7,250.8 513.1,249.4 515.6,250.3 518,251.8 520.4,252.6 522.9,252.7 525.3,253 527.7,254.8 530.1,255.1 532.6,256.6 535,258.9 537.4,261.8 539.8,264.5 542.3,267.2 544.7,270.8M501,293.5 503.4,292.9 505.9,292.7 508.3,291.9 510.7,291.9 513.1,295.3 515.6,292.7 518,290.6 520.4,291.6 522.9,288.7 525.3,288.8 527.7,288.3 530.1,285.7 532.6,283.3 535,282.1 537.4,279.1 539.8,276.5 542.3,273.2 544.7,269.5M501,237 503.4,237.1 505.9,238.6 508.3,235.2 510.7,238.1 513.1,238.9 515.6,237.2 518,237.4 520.4,236.6 522.9,240.4 525.3,241.2 527.7,242 530.1,243.9 532.6,246.2 535,249.4 537.4,253.4 539.8,257.7 542.3,263.1 544.7,269.8M501,279.3 503.4,280.6 505.9,281 508.3,279.5 510.7,281.9 513.1,279.2 515.6,278.8 518,278.3 520.4,278 522.9,276.9 525.3,277.5 527.7,275.8 530.1,275.5 532.6,274.6 535,273.7 537.4,272.2 539.8,271.2 542.3,269.4 544.7,267.7" stroke="#4a6cc2"/>
<path d="M501,269.2 503.4,268.6 505.9,270.6 508.3,268.9 510.7,270.6 513.1,269.2 515.6,268.2 518,269.1 520.4,269.4 522.9,268.7 525.3,269.3 527.7,269.5 530.1,269.7 532.6,269.1 535,269.7 537.4,270.2 539.8,270.9 542.3,271.1 544.7,271.7M501,266.6 503.4,267.2 505.9,266.8 508.3,267.7 510.7,269.4 513.1,268.5 515.6,265.7 518,267.8 520.4,267.4 522.9,268.2 525.3,267.5 527.7,267.3 530.1,267.3 532.6,267.2 535,267.4 537.4,267.4 539.8,267.3 542.3,267.4 544.7,267.5M501,259.4 503.4,260.3 505.9,258.8 508.3,260.3 510.7,259.6 513.1,259.8 515.6,260.2 518,259.9 520.4,259.3 522.9,258.2 525.3,261.6 527.7,261.1 530.1,262 532.6,263 535,263.5 537.4,264.9 539.8,266 542.3,267.4 544.7,269.3M501,268.3 503.4,269.1 505.9,266.8 508.3,269.4 510.7,268.3 513.1,268.8 515.6,269.2 518,268.1 520.4,267.9 522.9,267.8 525.3,268.6 527.7,269.5 530.1,269 532.6,270.3 535,270 537.4,270.2 539.8,270.6 542.3,271.2 544.7,271.6M501,257.9 503.4,258 505.9,258.1 508.3,257.3 510.7,257.4 513.1,257.4 515.6,257.7 518,256.9 520.4,257.1 522.9,258.3 525.3,258.8 527.7,260.1 530.1,261.2 532.6,261.2 535,262.3 537.4,263.1 539.8,264.8 542.3,265.5 544.7,267.2M501,261.5 503.4,259.7 505.9,260.4 508.3,260.1 510.7,259.1 513.1,260.9 515.6,259.6 518,261 520.4,260.3 522.9,261.3 525.3,261.1 527.7,260.8 530.1,262.5 532.6,263 535,263.6 537.4,264.3 539.8,265 542.3,266.8 544.7,268.2M501,253.2 503.4,253.8 505.9,253.1 508.3,253 510.7,251.9 513.1,254.2 515.6,252.4 518,253.5 520.4,252.6 522.9,253.6 525.3,254.8 527.7,254 530.1,255.6 532.6,257 535,257.9 537.4,259.9 539.8,261.6 542.3,264.2 544.7,267.2M501,258.8 503.4,256.3 505.9,258 508.3,259.4 510.7,260 513.1,255.9 515.6,256.9 518,258.7 520.4,258.2 522.9,258.1 525.3,259.4 527.7,260.2 530.1,260.6 532.6,261.1 535,262.5 537.4,264.2 539.8,265.5 542.3,267.8 544.7,270.1M501,264 503.4,263.6 505.9,262.7 508.3,263 510.7,263.2 513.1,262.4 515.6,265.7 518,265.7 520.4,266.4 522.9,264.2 525.3,266.6 527.7,265.4 530.1,265.4 532.6,266.9 535,267 537.4,267.5 539.8,268 542.3,269 544.7,269.8M501,238.5 503.4,238.8 505.9,238.5 508.3,238.3 510.7,240 513.1,238.9 515.6,238.2 518,239 520.4,240.5 522.9,240.4 525.3,241.2 527.7,242.2 530.1,245.3 532.6,246.6 535,250 537.4,253.4 539.8,257.8 542.3,263.3 544.7,269.5M501,268 503.4,268.7 505.9,267.2 508.3,266.2 510.7,266.9 513.1,267.8 515.6,267.4 518,269.4 520.4,268.2 522.9,267.1 525.3,267.7 527.7,268.6 530.1,267.9 532.6,268.5 535,268.4 537.4,269.2 539.8,269.2 542.3,269.3 544.7,269.7M501,259.1 503.4,259.1 505.9,258.2 508.3,260.1 510.7,257.6 513.1,259.6 515.6,257.9 518,258.6 520.4,260.4 522.9,260 525.3,259.8 527.7,259.8 530.1,261.5 532.6,261.6 535,261.9 537.4,262.9 539.8,264.2 542.3,265.4 544.7,266.9M501,232.8 503.4,232.7 505.9,231.8 508.3,231 510.7,234.4 513.1,232 515.6,233.7 518,234.3 520.4,234.8 522.9,237.7 525.3,238.1 527.7,241.5 530.1,243.5 532.6,246.6 535,249.2 537.4,253.4 539.8,258.3 542.3,263.7 544.7,269.7M501,284.5 503.4,284.4 505.9,282.8 508.3,282.2 510.7,285 513.1,281.5 515.6,282.2 518,284.2 520.4,280.8 522.9,282.7 525.3,280.3 527.7,280.4 530.1,279.5 532.6,277 535,275.7 537.4,274.1 539.8,272.1 542.3,270 544.7,267.6M501,271.9 503.4,273.4 505.9,274.4 508.3,272.7 510.7,272.4 513.1,271.6 515.6,271.3 518,272.9 520.4,270.6 522.9,272 525.3,273.3 527.7,271.5 530.1,271.8 532.6,271.6 535,272.1 537.4,271.4 539.8,271 542.3,270.7 544.7,270.4M501,287.6 503.4,287.8 505.9,288.2 508.3,289.1 510.7,288.6 513.1,289 515.6,286.4 518,289.1 520.4,287.1 522.9,287.2 525.3,287 527.7,285 530.1,284.8 532.6,282.5 535,281.4 537.4,279.1 539.8,276.5 542.3,273.2 544.7,269.4M501,224.5 503.4,226 505.9,223.1 508.3,223.8 510.7,223.5 513.1,224.2 515.6,225.2 518,227.3 520.4,227.5 522.9,227.7 525.3,229.8 527.7,231.5 530.1,234.7 532.6,238 535,241.6 537.4,246.5 539.8,252.5 542.3,259.6 544.7,267.8M501,270.7 503.4,270.2 505.9,271.6 508.3,268.3 510.7,270.3 513.1,269.3 515.6,271.5 518,269.9 520.4,270.3 522.9,269.4 525.3,269.5 527.7,270.9 530.1,269.3 532.6,270.3 535,269 537.4,269.2 539.8,269.1 542.3,268.4 544.7,268M501,262.6 503.4,262.3 505.9,262.2 508.3,263.1 510.7,261.9 513.1,263.4 515.6,265.1 518,263.1 520.4,263.2 522.9,264.6 525.3,263.8 527.7,265.1 530.1,264.1 532.6,263.7 535,264.8 537.4,264.7 539.8,265.6 542.3,266.4 544.7,267.2M501,247 503.4,246.6 505.9,247.7 508.3,247.8 510.7,246.2 513.1,247.6 515.6,248.7 518,249.6 520.4,249.3 522.9,251.4 525.3,251.1 527.7,252.7 530.1,255.1 532.6,256 535,258 537.4,260.8 539.8,264 542.3,267 544.7,270.6" stroke="#acd7e2"/>
<path d="M501,234.2 503.4,233.9 505.9,234.5 508.3,234.2 510.7,234.2 513.1,235.8 515.6,234.9 518,239.1 520.4,239.3 522.9,238.9 525.3,241.4 527.7,244.2 530.1,246.1 532.6,248.7 535,252.5 537.4,255.8 539.8,260.1 542.3,264.7 544.7,269.8M501,240.2 503.4,240.5 505.9,240.7 508.3,240.5 510.7,241.9 513.1,238 515.6,242.5 518,242.5 520.4,244.1 522.9,244.3 525.3,244.3 527.7,247 530.1,248.7 532.6,251.6 535,253.6 537.4,257.5 539.8,261.5 542.3,265.6 544.7,270.5M501,245.6 503.4,245.3 505.9,246.9 508.3,246.1 510.7,249.3 513.1,247 515.6,246 518,248.3 520.4,249.1 522.9,249 525.3,248.8 527.7,249.4 530.1,250.3 532.6,252.8 535,256.2 537.4,259.1 539.8,261.8 542.3,265.7 544.7,270.4M501,254 503.4,254.7 505.9,253.7 508.3,254.6 510.7,254.8 513.1,254.3 515.6,254.6 518,256.2 520.4,253.2 522.9,255.1 525.3,256.8 527.7,255.6 530.1,257 532.6,257.8 535,258.8 537.4,260.7 539.8,262.7 542.3,264.3 544.7,266.7M501,250.1 503.4,249.2 505.9,248.4 508.3,251.3 510.7,251 513.1,250.6 515.6,250.4 518,251.9 520.4,249.5 522.9,251.7 525.3,253.3 527.7,254.5 530.1,254.4 532.6,256.3 535,259.3 537.4,261.2 539.8,263.5 542.3,266.6 544.7,269.6M501,227.7 503.4,227 505.9,227.8 508.3,226.9 510.7,227.8 513.1,227 515.6,229.6 518,229.6 520.4,230.5 522.9,232 525.3,233.5 527.7,236.4 530.1,239.1 532.6,242.3 535,246.9 537.4,252.4 539.8,258 542.3,264.2 544.7,271.6M501,261 503.4,261 505.9,260.7 508.3,259.7 510.7,262.5 513.1,260.6 515.6,263 518,262.2 520.4,262.2 522.9,262.3 525.3,262.9 527.7,263.3 530.1,263.7 532.6,264.3 535,265.5 537.4,266 539.8,266.7 542.3,267.6 544.7,268.7M501,255.7 503.4,254.7 505.9,254.4 508.3,256.6 510.7,254.9 513.1,255.9 515.6,257.9 518,256 520.4,255.6 522.9,257.4 525.3,257.9 527.7,257.6 530.1,259.6 532.6,260.4 535,261.3 537.4,262.5 539.8,264.1 542.3,266 544.7,268M501,283.6 503.4,282.5 505.9,283 508.3,282.5 510.7,282.9 513.1,282.3 515.6,281.9 518,280.4 520.4,282.3 522.9,280.1 525.3,280.9 527.7,280.5 530.1,279.8 532.6,277.5 535,276.9 537.4,274.4 539.8,272.4 542.3,269.8 544.7,266.7M501,233.2 503.4,232.8 505.9,233.5 508.3,231.1 510.7,233.7 513.1,233.2 515.6,232.9 518,232.6 520.4,233.5 522.9,234.7 525.3,234.5 527.7,237.5 530.1,239.4 532.6,241.1 535,245.9 537.4,249.6 539.8,254.9 542.3,261.3 544.7,268.6M501,252.3 503.4,252.5 505.9,252.6 508.3,252.5 510.7,251.4 513.1,252.1 515.6,250.5 518,252.1 520.4,252.8 522.9,251.9 525.3,254.3 527.7,255.5 530.1,256.1 532.6,258.1 535,259.2 537.4,261.1 539.8,263.8 542.3,266.9 544.7,270.3M501,263.3 503.4,263 505.9,264.6 508.3,261.5 510.7,262.1 513.1,263.9 515.6,264.9 518,263.1 520.4,263.4 522.9,263.1 525.3,263.1 527.7,264.7 530.1,265.6 532.6,266.2 535,267 537.4,268.2 539.8,269.1 542.3,270.1 544.7,271.5M501,235.6 503.4,235 505.9,235.8 508.3,236.7 510.7,235.9 513.1,235.8 515.6,236.1 518,236.5 520.4,237.6 522.9,237.4 525.3,239.5 527.7,241.2 530.1,242.6 532.6,246.2 535,249 537.4,252.7 539.8,257.8 542.3,263.5 544.7,270.4" stroke="#93bcda"/>
<path d="M501,304 503.4,303.9 505.9,305.2 508.3,305 510.7,302.5 513.1,303.5 515.6,304.7 518,303.4 520.4,302.6 522.9,301.8 525.3,301 527.7,297.9 530.1,296.2 532.6,293.8 535,291 537.4,286.7 539.8,281.9 542.3,276.3 544.7,270M501,310.4 503.4,310.1 505.9,309 508.3,310.3 510.7,311.5 513.1,307.3 515.6,309.1 518,308.9 520.4,307.9 522.9,307.4 525.3,304.3 527.7,302.4 530.1,299.1 532.6,296.3 535,292.6 537.4,288 539.8,283.1 542.3,276.9 544.7,269.8M501,268 503.4,268.7 505.9,266.3 508.3,267.7 510.7,268.4 513.1,269.3 515.6,267.7 518,268.5 520.4,268.5 522.9,268 525.3,268 527.7,268.7 530.1,267.6 532.6,268.7 535,268.7 537.4,268.3 539.8,268.5 542.3,268.6 544.7,268.7M501,232.7 503.4,233 505.9,232.9 508.3,233.2 510.7,233 513.1,232.8 515.6,233.6 518,233.8 520.4,237 522.9,237.2 525.3,238.9 527.7,240.3 530.1,243.8 532.6,246.5 535,250.3 537.4,253.7 539.8,258.1 542.3,263.1 544.7,268.4M501,234 503.4,234 505.9,233.3 508.3,236 510.7,233.2 513.1,233.9 515.6,237.6 518,238.1 520.4,239.2 522.9,240.3 525.3,242 527.7,245.7 530.1,246.6 532.6,249.9 535,253.4 537.4,256.5 539.8,260.9 542.3,265.3 544.7,270.4M501,280.3 503.4,279.4 505.9,279.1 508.3,279.8 510.7,277.9 513.1,277.8 515.6,279.2 518,279.2 520.4,279 522.9,278.9 525.3,277.3 527.7,277.6 530.1,277.3 532.6,276.6 535,275.6 537.4,274.9 539.8,273.7 542.3,272.6 544.7,271.2M501,227.9 503.4,228.3 505.9,227.2 508.3,227.9 510.7,228 513.1,226.9 515.6,228.8 518,229.2 520.4,229.4 522.9,230.1 525.3,232.5 527.7,234.4 530.1,237 532.6,240 535,243.8 537.4,249.4 539.8,255 542.3,261.9 544.7,269.9M501,244.7 503.4,243.8 505.9,243.4 508.3,243.1 510.7,245.8 513.1,245 515.6,243.4 518,246 520.4,245.5 522.9,246.3 525.3,249.5 527.7,249.2 530.1,251.1 532.6,252.9 535,254.8 537.4,257.7 539.8,260.5 542.3,263.5 544.7,266.9M501,251 503.4,250.5 505.9,250.1 508.3,253 510.7,252.3 513.1,250.1 515.6,251 518,253 520.4,252.3 522.9,253 525.3,253.3 527.7,253.1 530.1,255.5 532.6,256 535,258.9 537.4,261.4 539.8,263.9 542.3,267.5 544.7,271.6M501,299.9 503.4,299.4 505.9,300.3 508.3,298.4 510.7,297.2 513.1,298.5 515.6,297.7 518,297.3 520.4,296 522.9,295.3 525.3,294.2 527.7,291.8 530.1,289.6 532.6,287.6 535,283.8 537.4,280.4 539.8,276.4 542.3,271.9 544.7,266.9M501,305.6 503.4,305.6 505.9,305.9 508.3,304.9 510.7,307 513.1,303.4 515.6,305.1 518,303.5 520.4,304.7 522.9,302.2 525.3,301.4 527.7,299.9 530.1,297.9 532.6,295.1 535,290.7 537.4,286.9 539.8,282.3 542.3,276.6 544.7,269.9M501,229.7 503.4,228.9 505.9,231.4 508.3,228.3 510.7,229.8 513.1,230 515.6,230.9 518,231.3 520.4,232.4 522.9,231.4 525.3,233.4 527.7,234.6 530.1,236.8 532.6,240.2 535,243.5 537.4,247.8 539.8,252.8 542.3,259.3 544.7,266.8M501,232.3 503.4,232.6 505.9,230.7 508.3,231.5 510.7,232.9 513.1,232.8 515.6,231.7 518,232.9 520.4,233.8 522.9,235.9 525.3,236.7 527.7,238.9 530.1,241.5 532.6,243 535,246.9 537.4,251 539.8,255.9 542.3,261.4 544.7,268.1M501,256.1 503.4,256.8 505.9,256.2 508.3,256.7 510.7,254.5 513.1,255.6 515.6,256.1 518,256.4 520.4,256.2 522.9,257.6 525.3,258.3 527.7,259.4 530.1,258.5 532.6,259.8 535,260.9 537.4,262.4 539.8,263.7 542.3,265.8 544.7,267.8M501,298.9 503.4,298.4 505.9,298.5 508.3,301.3 510.7,297.6 513.1,298.7 515.6,297.8 518,298.4 520.4,297.8 522.9,296.9 525.3,294.5 527.7,293.9 530.1,292.3 532.6,290.4 535,286.9 537.4,283.7 539.8,279.7 542.3,275.1 544.7,269.8M501,256.3 503.4,256.8 505.9,256.4 508.3,256.9 510.7,257.6 513.1,256.6 515.6,256.8 518,255.8 520.4,257.3 522.9,258.8 525.3,258.5 527.7,259.7 530.1,259.7 532.6,262.2 535,262.9 537.4,264.3 539.8,265.7 542.3,267.6 544.7,269.6M501,241.7 503.4,241.5 505.9,242.6 508.3,242.1 510.7,240.9 513.1,242.5 515.6,242.9 518,243 520.4,243.6 522.9,243 525.3,246.5 527.7,247.3 530.1,248.1 532.6,251 535,253.3 537.4,256.4 539.8,259 542.3,262.6 544.7,266.6M501,283.3 503.4,283 505.9,285.5 508.3,282.9 510.7,281.8 513.1,282.9 515.6,280.2 518,283.2 520.4,282.3 522.9,282.4 525.3,281.5 527.7,280.8 530.1,280.4 532.6,279 535,276.7 537.4,275.8 539.8,273.8 542.3,271.8 544.7,269.1M501,231.2 503.4,230.5 505.9,233.4 508.3,231.4 510.7,231.8 513.1,233.1 515.6,232.6 518,234 520.4,234 522.9,235.9 525.3,237 527.7,239.9 530.1,241.2 532.6,244.7 535,247.7 537.4,252.4 539.8,257.1 542.3,262.2 544.7,268.2M501,276.9 503.4,278 505.9,279 508.3,278.3 510.7,278.7 513.1,276.8 515.6,280.1 518,278.9 520.4,277 522.9,277.2 525.3,277.1 527.7,276.3 530.1,276.7 532.6,275.2 535,274.7 537.4,273.4 539.8,271.6 542.3,269.9 544.7,267.7M501,307.8 503.4,307.2 505.9,306 508.3,306.5 510.7,306.8 513.1,307.3 515.6,307.4 518,306.2 520.4,305.5 522.9,304.9 525.3,304.2 527.7,303.1 530.1,300.4 532.6,297.4 535,294.3 537.4,289.6 539.8,284.8 542.3,278.4 544.7,271.1M501,307 503.4,307.4 505.9,307.9 508.3,303.3 510.7,307.3 513.1,305.4 515.6,307.7 518,306.7 520.4,304.3 522.9,305.1 525.3,303.6 527.7,301.1 530.1,299.1 532.6,296 535,292.3 537.4,287.8 539.8,282.8 542.3,276.6 544.7,269.5" stroke="#7ba2d2"/>
</g>
<path d="M544.7,266.2 L661.5,262.8 L661.5,275 L544.7,272 Z" fill="#c8f0ea"/>
<g fill="none" stroke-width="0.6" stroke-opacity="0.85">
<path d="M544.7,269.4 661.5,269.8M544.7,271.5 661.5,273.4M544.7,269.2 661.5,269.2M544.7,267.8 661.5,266.9M544.7,270.3 661.5,270.9M544.7,266.8 661.5,265.7M544.7,270.4 661.5,271.7M544.7,266.6 661.5,264.6M544.7,270.5 661.5,271.5M544.7,268.8 661.5,268.6M544.7,269.1 661.5,269.1M544.7,270.8 661.5,271.4M544.7,270.2 661.5,271M544.7,270.9 661.5,272.1" stroke="#b4ebe2"/>
<path d="M544.7,269.2 661.5,269.2M544.7,268.6 661.5,268.1M544.7,267.4 661.5,265.5M544.7,271.8 661.5,272.9" stroke="#9ed1db"/>
<path d="M544.7,266.2 661.5,261.7M544.7,272 661.5,278.3M544.7,266.5 661.5,263.6M544.7,271.7 661.5,275" stroke="#5a7dc8"/>
</g>
<rect x="552.6" y="289.3" width="97.9" height="25" rx="2" fill="#fff" fill-opacity="0.85" stroke="#c8d4ee" stroke-width="0.8"/>
<text x="555.6" y="299.8" font-size="9.5" fill="#3f5fae" font-family='"Liberation Sans", sans-serif'><tspan font-style="italic">t</tspan><tspan dy="1.5" font-size="6.5">0</tspan><tspan dy="-1.5"> (</tspan><tspan font-style="italic">σ</tspan> = 1.8 <tspan font-style="italic">μS</tspan>)</text>
<text x="555.6" y="310.3" font-size="9.5" fill="#3f5fae" font-family='"Liberation Sans", sans-serif'>1 <tspan font-style="italic">month</tspan> (<tspan font-style="italic">σ</tspan> = 2.9 <tspan font-style="italic">μS</tspan>)</text>
<rect x="493.5" y="210.3" width="175.5" height="117.7" fill="none" stroke="#b4c6ea" stroke-width="1"/>
<line x1="490.5" y1="305.9" x2="493.5" y2="305.9" stroke="#b4c6ea" stroke-width="0.8"/>
<text transform="translate(489.5 309.3) scale(1.1 1)" font-size="9.5" fill="#3f5fae" text-anchor="end" font-family='"Liberation Sans", sans-serif' font-weight="normal" font-style="normal" >−50</text>
<line x1="490.5" y1="269.1" x2="493.5" y2="269.1" stroke="#b4c6ea" stroke-width="0.8"/>
<text transform="translate(489.5 272.5) scale(1.1 1)" font-size="9.5" fill="#3f5fae" text-anchor="end" font-family='"Liberation Sans", sans-serif' font-weight="normal" font-style="normal" >0</text>
<line x1="490.5" y1="232.3" x2="493.5" y2="232.3" stroke="#b4c6ea" stroke-width="0.8"/>
<text transform="translate(489.5 235.7) scale(1.1 1)" font-size="9.5" fill="#3f5fae" text-anchor="end" font-family='"Liberation Sans", sans-serif' font-weight="normal" font-style="normal" >50</text>
<line x1="536.8" y1="328" x2="536.8" y2="331" stroke="#b4c6ea" stroke-width="0.8"/>
<text transform="translate(536.8 338.3) scale(1.1 1)" font-size="9.5" fill="#3f5fae" text-anchor="middle" font-family='"Liberation Sans", sans-serif'>10<tspan dy="-4" font-size="6.5">1</tspan></text>
<line x1="582.4" y1="328" x2="582.4" y2="331" stroke="#b4c6ea" stroke-width="0.8"/>
<text transform="translate(582.4 338.3) scale(1.1 1)" font-size="9.5" fill="#3f5fae" text-anchor="middle" font-family='"Liberation Sans", sans-serif'>10<tspan dy="-4" font-size="6.5">3</tspan></text>
<line x1="627.9" y1="328" x2="627.9" y2="331" stroke="#b4c6ea" stroke-width="0.8"/>
<text transform="translate(627.9 338.3) scale(1.1 1)" font-size="9.5" fill="#3f5fae" text-anchor="middle" font-family='"Liberation Sans", sans-serif'>10<tspan dy="-4" font-size="6.5">5</tspan></text>
<line x1="544.7" y1="207.8" x2="544.7" y2="210.3" stroke="#b4c6ea" stroke-width="0.8"/>
<text x="544.7" y="206.1" font-size="8.5" fill="#3f5fae" text-anchor="middle" font-family='"Liberation Sans", sans-serif' font-style="italic">t<tspan dy="1.5" font-size="7" font-style="normal">0</tspan></text>
<line x1="558.5" y1="207.8" x2="558.5" y2="210.3" stroke="#b4c6ea" stroke-width="0.8"/>
<text x="558.5" y="206.1" font-size="8.5" fill="#3f5fae" text-anchor="middle" font-family='"Liberation Sans", sans-serif'>1 <tspan font-style="italic">m</tspan></text>
<line x1="595.7" y1="207.8" x2="595.7" y2="210.3" stroke="#b4c6ea" stroke-width="0.8"/>
<text x="595.7" y="206.1" font-size="8.5" fill="#3f5fae" text-anchor="middle" font-family='"Liberation Sans", sans-serif'>1 <tspan font-style="italic">hr</tspan></text>
<line x1="627.5" y1="207.8" x2="627.5" y2="210.3" stroke="#b4c6ea" stroke-width="0.8"/>
<text x="627.5" y="206.1" font-size="8.5" fill="#3f5fae" text-anchor="middle" font-family='"Liberation Sans", sans-serif'>1 <tspan font-style="italic">day</tspan></text>
<line x1="660.8" y1="207.8" x2="660.8" y2="210.3" stroke="#b4c6ea" stroke-width="0.8"/>
<text x="660.8" y="206.1" font-size="8.5" fill="#3f5fae" text-anchor="middle" font-family='"Liberation Sans", sans-serif'>1 <tspan font-style="italic">mo</tspan></text>
<text x="497" y="223.8" font-size="11.5" fill="#3f5fae" text-anchor="start" font-family='"Liberation Sans", sans-serif' font-weight="normal" font-style="italic" >Program</text>
<text x="612" y="223.8" font-size="11.5" fill="#3f5fae" text-anchor="middle" font-family='"Liberation Sans", sans-serif' font-weight="normal" font-style="italic" >Drift</text>
<text x="580.8" y="351" font-size="15" fill="#3f5fae" text-anchor="middle" font-family='"Liberation Sans", sans-serif' font-style="italic">Time <tspan font-style="normal">[</tspan>s<tspan font-style="normal">]</tspan></text>
<text x="462.5" y="269.1" font-size="15" fill="#3f5fae" text-anchor="middle" font-family='"Liberation Sans", sans-serif' transform="rotate(-90 462.5 269.1)" dy="4.5"><tspan font-style="italic">αW̃</tspan> − <tspan font-style="italic">W</tspan> [<tspan font-style="italic">μS</tspan>]</text>
<path d="M276,779.2 L277.5,778.9 L278.9,778.8 L280.4,778.7 L281.8,778.6 L283.3,778.4 L284.7,778.3 L286.2,777.9 L287.7,777.4 L289.1,777.1 L290.6,776.5 L292,776.1 L293.5,775.5 L294.9,774.6 L296.4,773.3 L297.9,772.1 L299.3,771.5 L300.8,769.9 L302.2,768.2 L303.7,766.5 L305.1,764.3 L306.6,761.6 L308,759.6 L309.5,758.2 L311,755.5 L312.4,752.6 L313.9,747 L315.3,742.8 L316.8,739.1 L318.2,734.8 L319.7,732.7 L319.7,829.8 L318.2,831.3 L316.8,823.5 L315.3,820.1 L313.9,811.6 L312.4,809.9 L311,806.7 L309.5,800.1 L308,800.8 L306.6,797.4 L305.1,794.6 L303.7,794.6 L302.2,790.8 L300.8,789.3 L299.3,787.2 L297.9,786.3 L296.4,784.8 L294.9,784.2 L293.5,783.3 L292,782.7 L290.6,782 L289.1,781.6 L287.7,781.1 L286.2,780.8 L284.7,780.4 L283.3,780.1 L281.8,780 L280.4,779.7 L278.9,779.6 L277.5,779.5 L276,779.2 Z" fill="#c3efe8" stroke="#6f9fd8" stroke-width="1" stroke-opacity="0.6"/>
<g fill="none" stroke-width="0.6" stroke-opacity="0.55">
<path d="M276,779.2 276.7,779.1 277.5,779 278.2,778.9 278.9,778.9 279.6,778.9 280.4,778.8 281.1,778.7 281.8,778.6 282.6,778.5 283.3,778.4 284,778.3 284.7,778.2 285.5,778.1 286.2,778.1 286.9,778 287.7,777.7 288.4,777.4 289.1,777.2 289.8,777 290.6,776.8 291.3,776.5 292,776.8 292.8,776.2 293.5,775.6 294.2,775.2 294.9,775.5 295.7,774.2 296.4,774.3 297.1,773.8 297.9,773.1 298.6,772.3 299.3,772.9 300,770.9 300.8,770.8 301.5,770.8 302.2,769.7 302.9,770.6 303.7,768.6 304.4,767 305.1,767 305.9,765.7 306.6,764.6 307.3,763.3 308,761 308.8,761.3 309.5,760.5 310.2,758 311,754.1 311.7,757 312.4,754 313.1,756.8 313.9,749.2 314.6,749.1 315.3,745.8 316.1,747.5 316.8,748.5 317.5,741.4 318.2,739.9 319,742.9 319.7,743.1M276,779.2 276.7,779.4 277.5,779.4 278.2,779.5 278.9,779.5 279.6,779.5 280.4,779.6 281.1,779.8 281.8,779.8 282.6,779.8 283.3,779.9 284,780.1 284.7,780.2 285.5,780.3 286.2,780.3 286.9,780.6 287.7,780.7 288.4,780.8 289.1,781.2 289.8,780.9 290.6,781.3 291.3,781.7 292,782 292.8,782.1 293.5,782.8 294.2,783.3 294.9,783.6 295.7,783.9 296.4,784.6 297.1,784.9 297.9,784.7 298.6,785.6 299.3,787 300,786.2 300.8,787.6 301.5,787.9 302.2,788.2 302.9,788.8 303.7,790.5 304.4,791.6 305.1,792.5 305.9,791.5 306.6,793.7 307.3,795.5 308,797.4 308.8,798.2 309.5,799.6 310.2,801.3 311,802.2 311.7,800.6 312.4,803.6 313.1,803.4 313.9,801.2 314.6,804 315.3,814.5 316.1,808.3 316.8,806.8 317.5,812.9 318.2,820.9 319,818.2 319.7,821.6M276,779.2 276.7,779.1 277.5,779 278.2,778.9 278.9,778.9 279.6,778.8 280.4,778.8 281.1,778.7 281.8,778.6 282.6,778.6 283.3,778.4 284,778.4 284.7,778.4 285.5,778.3 286.2,778.2 286.9,777.8 287.7,777.9 288.4,777.6 289.1,777.5 289.8,777.2 290.6,776.9 291.3,776.9 292,776.6 292.8,776.2 293.5,775.9 294.2,775.6 294.9,775.4 295.7,774.7 296.4,774 297.1,773.8 297.9,773.9 298.6,772.9 299.3,772.5 300,771.7 300.8,770.2 301.5,770.9 302.2,770.1 302.9,770.1 303.7,768.9 304.4,768.4 305.1,765.5 305.9,765.9 306.6,765.9 307.3,762 308,765 308.8,761.1 309.5,759.8 310.2,759.2 311,759.4 311.7,757.9 312.4,757.1 313.1,753.6 313.9,758.5 314.6,753.4 315.3,750.5 316.1,750.7 316.8,752.3 317.5,746.7 318.2,746.4 319,740.2 319.7,736.4M276,779.2 276.7,779.4 277.5,779.4 278.2,779.6 278.9,779.7 279.6,779.7 280.4,779.8 281.1,779.9 281.8,779.9 282.6,779.9 283.3,780.1 284,780.1 284.7,780.4 285.5,780.5 286.2,780.8 286.9,780.9 287.7,780.7 288.4,781.3 289.1,781.6 289.8,782.1 290.6,781.8 291.3,782.1 292,782.7 292.8,782.7 293.5,783 294.2,783.4 294.9,785.4 295.7,784.5 296.4,784.8 297.1,785.7 297.9,786.5 298.6,787.9 299.3,788.5 300,789.1 300.8,789.4 301.5,790.3 302.2,790.4 302.9,790.4 303.7,795.1 304.4,793.3 305.1,796.2 305.9,795.6 306.6,797.1 307.3,798.2 308,797.5 308.8,800.9 309.5,803.1 310.2,805.5 311,806.4 311.7,809.2 312.4,809.3 313.1,810.3 313.9,807 314.6,812.5 315.3,820.4 316.1,818.2 316.8,822.5 317.5,821.3 318.2,821.9 319,834.3 319.7,830.3" stroke="#7aa6dc"/>
<path d="M276,779.2 276.7,779 277.5,779 278.2,778.9 278.9,778.9 279.6,778.8 280.4,778.6 281.1,778.6 281.8,778.5 282.6,778.5 283.3,778.4 284,778.2 284.7,778.1 285.5,778 286.2,777.8 286.9,778 287.7,777.4 288.4,777.4 289.1,777 289.8,776.7 290.6,776.8 291.3,776.1 292,775.8 292.8,775.9 293.5,775.5 294.2,774.9 294.9,775.3 295.7,774.2 296.4,773.5 297.1,773.3 297.9,773.3 298.6,772.1 299.3,770.3 300,769.7 300.8,770 301.5,769.8 302.2,768.4 302.9,767.5 303.7,767.3 304.4,766.1 305.1,764 305.9,762.5 306.6,765.9 307.3,760.1 308,760.1 308.8,757.3 309.5,757.9 310.2,755.7 311,751.9 311.7,759.7 312.4,748.7 313.1,750.1 313.9,753.3 314.6,754 315.3,744.6 316.1,746.5 316.8,738.7 317.5,739 318.2,738.1 319,732.1 319.7,732.7M276,779.2 276.7,779.4 277.5,779.5 278.2,779.5 278.9,779.5 279.6,779.6 280.4,779.7 281.1,779.8 281.8,779.8 282.6,779.9 283.3,780.1 284,780.2 284.7,780.4 285.5,780.4 286.2,780.5 286.9,780.7 287.7,780.9 288.4,781 289.1,781 289.8,781.7 290.6,782.1 291.3,782.4 292,782.2 292.8,782.8 293.5,783.8 294.2,783.6 294.9,784.2 295.7,784.5 296.4,785.5 297.1,786.1 297.9,787.4 298.6,787.1 299.3,787.7 300,787.2 300.8,788.5 301.5,789 302.2,790.1 302.9,790 303.7,793.5 304.4,792 305.1,794.5 305.9,793.6 306.6,796.8 307.3,799.9 308,797.5 308.8,800.6 309.5,801.2 310.2,803.3 311,805 311.7,804.3 312.4,806.8 313.1,807.5 313.9,808.5 314.6,809.1 315.3,816.9 316.1,813.9 316.8,820.1 317.5,821.9 318.2,818.8 319,828.2 319.7,823.4M276,779.2 276.7,779.1 277.5,779 278.2,778.9 278.9,778.8 279.6,778.8 280.4,778.8 281.1,778.7 281.8,778.6 282.6,778.6 283.3,778.5 284,778.5 284.7,778.3 285.5,778.2 286.2,778.2 286.9,778 287.7,777.8 288.4,777.4 289.1,777.3 289.8,777.1 290.6,777 291.3,776.9 292,776.3 292.8,776 293.5,775.5 294.2,775.4 294.9,775.1 295.7,774.5 296.4,774.6 297.1,774.1 297.9,773 298.6,773.4 299.3,772.2 300,771.1 300.8,770.8 301.5,770 302.2,770.5 302.9,769 303.7,768.3 304.4,766.7 305.1,766 305.9,765.5 306.6,762.3 307.3,762.9 308,762.9 308.8,762.3 309.5,760.3 310.2,760 311,755 311.7,755.5 312.4,755.8 313.1,755.1 313.9,754.6 314.6,751.4 315.3,746.1 316.1,745.5 316.8,746.1 317.5,743.8 318.2,747.8 319,738.1 319.7,739.3M276,779.2 276.7,779.4 277.5,779.5 278.2,779.5 278.9,779.7 279.6,779.7 280.4,779.8 281.1,779.8 281.8,779.9 282.6,780 283.3,780.1 284,780.4 284.7,780.4 285.5,780.5 286.2,780.6 286.9,780.8 287.7,781 288.4,781.5 289.1,781.5 289.8,782 290.6,782 291.3,782.3 292,782.2 292.8,783.3 293.5,784.2 294.2,783.8 294.9,785 295.7,785.3 296.4,785.1 297.1,786.4 297.9,786.1 298.6,787.1 299.3,788.8 300,788.8 300.8,788.5 301.5,791.6 302.2,790.1 302.9,791.9 303.7,792.7 304.4,793.9 305.1,794.1 305.9,794.1 306.6,800.2 307.3,797.3 308,798.6 308.8,797.1 309.5,803 310.2,806.9 311,808.8 311.7,813.7 312.4,812.7 313.1,811.9 313.9,812.8 314.6,818.6 315.3,816.4 316.1,819.2 316.8,817.5 317.5,823.2 318.2,832.3 319,827.1 319.7,831.4" stroke="#9cd3e6"/>
</g>
<path d="M319.7,746.1 L436.5,758.6 L436.5,801.3 L319.7,816 Z" fill="#d2f5ef"/>
<g fill="none" stroke-width="0.65" stroke-opacity="0.85">
<path d="M319.7,824.9 358.6,817.1 397.6,812.2 436.5,808.4M319.7,791.3 358.6,789 397.6,787.6 436.5,786.5M319.7,770.3 358.6,772.1 397.6,773.2 436.5,774M319.7,772.3 358.6,773.5 397.6,774.3 436.5,774.9M319.7,812.7 358.6,806.5 397.6,802.6 436.5,799.6M319.7,743.4 358.6,749.1 397.6,752.8 436.5,755.7M319.7,817.8 358.6,811.2 397.6,807.1 436.5,803.8M319.7,806.8 358.6,801.3 397.6,797.9 436.5,795.3M319.7,794.2 358.6,791.3 397.6,789.5 436.5,788.2M319.7,732.3 358.6,740.4 397.6,745.5 436.5,749.5M319.7,760.8 358.6,764.4 397.6,766.6 436.5,768.3M319.7,811 358.6,805.7 397.6,802.3 436.5,799.6M319.7,776.8 358.6,777.2 397.6,777.5 436.5,777.7M319.7,765.5 358.6,768 397.6,769.5 436.5,770.7" stroke="#7ba2d2"/>
<path d="M319.7,750.4 358.6,755.1 397.6,758.1 436.5,760.5M319.7,790.6 358.6,788.6 397.6,787.3 436.5,786.3M319.7,750.1 358.6,755.2 397.6,758.3 436.5,760.8M319.7,799 358.6,795.8 397.6,793.8 436.5,792.2M319.7,798.4 358.6,794.7 397.6,792.5 436.5,790.7M319.7,760.7 358.6,764.3 397.6,766.5 436.5,768.2M319.7,757.2 358.6,760.7 397.6,762.9 436.5,764.7M319.7,772.8 358.6,773.8 397.6,774.4 436.5,775M319.7,735.1 358.6,742.5 397.6,747.3 436.5,751M319.7,732.7 358.6,742 397.6,747.6 436.5,752M319.7,761.2 358.6,764.2 397.6,766.1 436.5,767.6M319.7,795.5 358.6,792.6 397.6,790.8 436.5,789.4" stroke="#4a6cc2"/>
<path d="M319.7,769.7 358.6,771.6 397.6,772.7 436.5,773.6M319.7,749.2 358.6,754.3 397.6,757.5 436.5,760M319.7,794.2 358.6,791.6 397.6,789.9 436.5,788.6M319.7,804.4 358.6,799.4 397.6,796.4 436.5,794M319.7,778.1 358.6,778.3 397.6,778.4 436.5,778.5M319.7,797.1 358.6,794.1 397.6,792.2 436.5,790.7M319.7,779.1 358.6,779.1 397.6,779.2 436.5,779.2M319.7,763.8 358.6,766.9 397.6,768.7 436.5,770.2M319.7,786.4 358.6,785 397.6,784.1 436.5,783.4M319.7,780.2 358.6,780 397.6,779.9 436.5,779.8M319.7,749.4 358.6,754.8 397.6,758.1 436.5,760.7M319.7,788.1 358.6,786.4 397.6,785.3 436.5,784.5M319.7,780.3 358.6,780.1 397.6,780 436.5,779.9M319.7,784.3 358.6,783.4 397.6,782.8 436.5,782.4M319.7,774.1 358.6,775.1 397.6,775.7 436.5,776.2M319.7,775.2 358.6,775.9 397.6,776.4 436.5,776.7M319.7,800.1 358.6,796.2 397.6,793.8 436.5,791.9M319.7,781.9 358.6,781.3 397.6,781 436.5,780.8M319.7,803.7 358.6,799.4 397.6,796.8 436.5,794.7M319.7,776 358.6,776.6 397.6,777 436.5,777.3M319.7,801.7 358.6,797.5 397.6,794.8 436.5,792.8M319.7,789.6 358.6,787.8 397.6,786.7 436.5,785.8M319.7,770.4 358.6,772 397.6,772.9 436.5,773.7M319.7,807.6 358.6,801.9 397.6,798.5 436.5,795.9M319.7,774.8 358.6,775.5 397.6,776 436.5,776.4M319.7,768.4 358.6,770.2 397.6,771.4 436.5,772.3M319.7,789.2 358.6,787.2 397.6,785.9 436.5,785M319.7,769.9 358.6,771.4 397.6,772.4 436.5,773.1M319.7,772 358.6,773.3 397.6,774.2 436.5,774.8M319.7,761.6 358.6,764.6 397.6,766.5 436.5,768M319.7,767.4 358.6,769.7 397.6,771.1 436.5,772.2M319.7,798.5 358.6,795 397.6,792.8 436.5,791.1M319.7,774.4 358.6,775.2 397.6,775.8 436.5,776.2M319.7,772.2 358.6,773.4 397.6,774.1 436.5,774.7M319.7,784.1 358.6,783.2 397.6,782.6 436.5,782.1M319.7,752 358.6,757.4 397.6,760.7 436.5,763.3M319.7,796.8 358.6,793.7 397.6,791.7 436.5,790.2M319.7,770.1 358.6,771.9 397.6,773.1 436.5,773.9M319.7,789.4 358.6,787.8 397.6,786.8 436.5,785.9M319.7,773.1 358.6,774.1 397.6,774.7 436.5,775.2M319.7,741.6 358.6,748.6 397.6,753 436.5,756.4M319.7,771.9 358.6,773 397.6,773.8 436.5,774.4M319.7,778.3 358.6,778.5 397.6,778.6 436.5,778.7M319.7,778 358.6,778.2 397.6,778.3 436.5,778.4M319.7,774.1 358.6,775 397.6,775.6 436.5,776M319.7,796.5 358.6,793.7 397.6,791.8 436.5,790.4M319.7,803.1 358.6,798.6 397.6,795.8 436.5,793.6M319.7,806.1 358.6,801.8 397.6,799 436.5,796.8M319.7,773.4 358.6,774.4 397.6,775 436.5,775.5M319.7,745.9 358.6,751.8 397.6,755.5 436.5,758.4M319.7,775.1 358.6,775.8 397.6,776.3 436.5,776.7M319.7,766.5 358.6,768.8 397.6,770.3 436.5,771.4M319.7,798.4 358.6,795 397.6,792.9 436.5,791.3M319.7,760.9 358.6,764.2 397.6,766.2 436.5,767.8M319.7,776.6 358.6,777 397.6,777.3 436.5,777.5M319.7,790.1 358.6,787.9 397.6,786.6 436.5,785.6M319.7,808.8 358.6,803.9 397.6,800.7 436.5,798.2M319.7,796.4 358.6,793.4 397.6,791.6 436.5,790.1M319.7,790 358.6,788.3 397.6,787.2 436.5,786.3M319.7,805.7 358.6,800.9 397.6,798 436.5,795.7M319.7,799.7 358.6,796.3 397.6,794.2 436.5,792.5M319.7,759.1 358.6,762.9 397.6,765.2 436.5,767M319.7,772.3 358.6,773.5 397.6,774.3 436.5,774.9M319.7,791.3 358.6,789.1 397.6,787.8 436.5,786.7M319.7,784.5 358.6,783.5 397.6,782.8 436.5,782.3M319.7,790.6 358.6,788.5 397.6,787.1 436.5,786.1M319.7,774.9 358.6,775.7 397.6,776.2 436.5,776.5M319.7,764.9 358.6,767.5 397.6,769.1 436.5,770.4M319.7,773.4 358.6,774.3 397.6,774.9 436.5,775.4M319.7,778.7 358.6,778.8 397.6,778.8 436.5,778.9M319.7,792.2 358.6,789.8 397.6,788.3 436.5,787.2M319.7,777.1 358.6,777.5 397.6,777.8 436.5,777.9M319.7,786 358.6,784.7 397.6,784 436.5,783.3M319.7,766.3 358.6,768.5 397.6,769.9 436.5,771M319.7,754.7 358.6,759.3 397.6,762.1 436.5,764.3M319.7,773.2 358.6,774.2 397.6,774.9 436.5,775.4M319.7,776 358.6,776.5 397.6,776.9 436.5,777.2M319.7,768.6 358.6,770.5 397.6,771.7 436.5,772.6M319.7,788.2 358.6,786.7 397.6,785.7 436.5,785M319.7,785.3 358.6,784.3 397.6,783.7 436.5,783.2M319.7,772.9 358.6,774.1 397.6,774.9 436.5,775.5M319.7,798 358.6,794.2 397.6,791.9 436.5,790.1M319.7,789.5 358.6,787.6 397.6,786.4 436.5,785.5M319.7,779.5 358.6,779.4 397.6,779.4 436.5,779.4M319.7,777.7 358.6,777.9 397.6,778.1 436.5,778.3M319.7,762.5 358.6,765.3 397.6,767 436.5,768.4M319.7,778.7 358.6,778.8 397.6,778.9 436.5,778.9M319.7,759.8 358.6,763.2 397.6,765.3 436.5,766.9M319.7,773.5 358.6,774.5 397.6,775.1 436.5,775.6M319.7,778.6 358.6,778.7 397.6,778.8 436.5,778.9M319.7,791.6 358.6,789.2 397.6,787.7 436.5,786.6M319.7,792.7 358.6,790.2 397.6,788.6 436.5,787.3M319.7,786.5 358.6,785.1 397.6,784.3 436.5,783.7M319.7,799.7 358.6,796.3 397.6,794.1 436.5,792.4M319.7,774.6 358.6,775.5 397.6,776.1 436.5,776.5M319.7,791.1 358.6,788.9 397.6,787.5 436.5,786.5M319.7,811.7 358.6,805.5 397.6,801.7 436.5,798.7M319.7,759.9 358.6,763.8 397.6,766.1 436.5,767.9M319.7,794.7 358.6,792.1 397.6,790.5 436.5,789.2M319.7,783.1 358.6,782.5 397.6,782.1 436.5,781.8M319.7,766.4 358.6,768.6 397.6,770 436.5,771.1M319.7,796.8 358.6,793.5 397.6,791.5 436.5,789.9M319.7,811.3 358.6,806.2 397.6,803 436.5,800.4M319.7,791.6 358.6,789.6 397.6,788.3 436.5,787.2M319.7,788.7 358.6,787 397.6,785.9 436.5,785M319.7,786.5 358.6,785.1 397.6,784.3 436.5,783.7M319.7,780.7 358.6,780.5 397.6,780.3 436.5,780.1M319.7,779.6 358.6,779.5 397.6,779.5 436.5,779.4M319.7,801.8 358.6,798.1 397.6,795.8 436.5,794M319.7,780.6 358.6,780.4 397.6,780.2 436.5,780.1M319.7,776.8 358.6,777.3 397.6,777.6 436.5,777.8M319.7,782.8 358.6,782.2 397.6,781.8 436.5,781.5M319.7,756.2 358.6,760.8 397.6,763.6 436.5,765.8M319.7,776.6 358.6,777 397.6,777.3 436.5,777.5M319.7,780.9 358.6,780.6 397.6,780.4 436.5,780.3M319.7,762.4 358.6,765.7 397.6,767.7 436.5,769.2M319.7,796.1 358.6,793.4 397.6,791.6 436.5,790.3M319.7,774.2 358.6,775.2 397.6,775.7 436.5,776.2M319.7,796.3 358.6,793.2 397.6,791.3 436.5,789.9M319.7,794.3 358.6,791.7 397.6,790 436.5,788.7M319.7,779.2 358.6,779.2 397.6,779.2 436.5,779.2M319.7,811.8 358.6,806.4 397.6,803 436.5,800.3M319.7,782.8 358.6,782.1 397.6,781.7 436.5,781.4" stroke="#c4f2ea"/>
<path d="M319.7,772.4 358.6,773.8 397.6,774.6 436.5,775.2M319.7,767.5 358.6,769.5 397.6,770.7 436.5,771.7M319.7,805.2 358.6,800 397.6,796.8 436.5,794.4M319.7,780.7 358.6,780.5 397.6,780.3 436.5,780.2M319.7,782.3 358.6,781.7 397.6,781.4 436.5,781.2M319.7,811.3 358.6,805.2 397.6,801.4 436.5,798.5M319.7,755.3 358.6,760 397.6,762.9 436.5,765.2M319.7,794.5 358.6,792 397.6,790.4 436.5,789.1M319.7,763.6 358.6,766.1 397.6,767.8 436.5,769.1M319.7,788.3 358.6,786.5 397.6,785.4 436.5,784.5M319.7,780.9 358.6,780.6 397.6,780.4 436.5,780.3M319.7,765 358.6,767.7 397.6,769.4 436.5,770.7M319.7,777.8 358.6,778.1 397.6,778.2 436.5,778.3M319.7,797.6 358.6,793.9 397.6,791.7 436.5,789.9M319.7,781.8 358.6,781.3 397.6,781 436.5,780.8M319.7,772.8 358.6,773.9 397.6,774.5 436.5,775M319.7,771.9 358.6,773.2 397.6,774 436.5,774.6M319.7,803.8 358.6,799.9 397.6,797.4 436.5,795.4M319.7,789.2 358.6,787.4 397.6,786.2 436.5,785.3M319.7,771.5 358.6,772.8 397.6,773.6 436.5,774.3M319.7,781.9 358.6,781.5 397.6,781.2 436.5,780.9M319.7,784.7 358.6,783.8 397.6,783.2 436.5,782.7M319.7,757.7 358.6,761.6 397.6,764 436.5,765.9M319.7,765.1 358.6,767.6 397.6,769.2 436.5,770.4M319.7,797.8 358.6,794.1 397.6,791.8 436.5,790.1M319.7,763 358.6,765.7 397.6,767.3 436.5,768.7M319.7,780.4 358.6,780.1 397.6,780 436.5,779.9M319.7,751.6 358.6,756.7 397.6,759.9 436.5,762.3M319.7,811.4 358.6,805.7 397.6,802.1 436.5,799.3M319.7,781.9 358.6,781.4 397.6,781.1 436.5,780.8M319.7,786.6 358.6,785.3 397.6,784.5 436.5,783.9M319.7,768.9 358.6,770.7 397.6,771.8 436.5,772.6M319.7,781.7 358.6,781.3 397.6,781 436.5,780.7M319.7,792.8 358.6,790.4 397.6,788.9 436.5,787.7M319.7,754.8 358.6,758.7 397.6,761.2 436.5,763.2M319.7,755.1 358.6,759 397.6,761.5 436.5,763.5M319.7,768 358.6,770 397.6,771.2 436.5,772.2M319.7,772.9 358.6,774.1 397.6,774.8 436.5,775.4M319.7,756.5 358.6,760.4 397.6,762.9 436.5,764.8M319.7,804 358.6,799.7 397.6,797 436.5,794.8M319.7,778.4 358.6,778.5 397.6,778.6 436.5,778.7M319.7,790.4 358.6,788.4 397.6,787.2 436.5,786.2M319.7,784.7 358.6,783.6 397.6,783 436.5,782.4M319.7,792.9 358.6,790.6 397.6,789.1 436.5,788M319.7,772.8 358.6,774 397.6,774.8 436.5,775.4M319.7,781 358.6,780.7 397.6,780.5 436.5,780.3M319.7,771.6 358.6,772.9 397.6,773.8 436.5,774.4M319.7,790.1 358.6,787.9 397.6,786.6 436.5,785.6M319.7,764.5 358.6,767.2 397.6,768.8 436.5,770.1M319.7,741.7 358.6,748.8 397.6,753.2 436.5,756.6M319.7,791.4 358.6,789.4 397.6,788.1 436.5,787.1M319.7,775.8 358.6,776.4 397.6,776.7 436.5,777" stroke="#acd7e2"/>
<path d="M319.7,802.6 358.6,797.9 397.6,795 436.5,792.8M319.7,811.7 358.6,805.5 397.6,801.7 436.5,798.7M319.7,808.7 358.6,803.1 397.6,799.7 436.5,797M319.7,817.7 358.6,810 397.6,805.3 436.5,801.7M319.7,829.5 358.6,820.3 397.6,814.5 436.5,810M319.7,797.6 358.6,794.3 397.6,792.2 436.5,790.6M319.7,730.6 358.6,739.5 397.6,745 436.5,749.2M319.7,729.5 358.6,738.2 397.6,743.7 436.5,747.9M319.7,744.7 358.6,751.7 397.6,755.9 436.5,759.1M319.7,819.5 358.6,812.5 397.6,808.1 436.5,804.7M319.7,809.7 358.6,803.6 397.6,799.8 436.5,797M319.7,782.9 358.6,782.2 397.6,781.8 436.5,781.5M319.7,811.2 358.6,805.4 397.6,801.7 436.5,798.9M319.7,751.2 358.6,755.9 397.6,758.9 436.5,761.3M319.7,739.1 358.6,746.9 397.6,751.7 436.5,755.4M319.7,729.5 358.6,738.3 397.6,743.9 436.5,748.2M319.7,739.8 358.6,746.3 397.6,750.4 436.5,753.6M319.7,811.7 358.6,806.2 397.6,802.8 436.5,800M319.7,751.7 358.6,756.8 397.6,760 436.5,762.4M319.7,810.3 358.6,805 397.6,801.7 436.5,799.1M319.7,810.2 358.6,804.3 397.6,800.6 436.5,797.7M319.7,769.6 358.6,771.6 397.6,772.7 436.5,773.6M319.7,809.9 358.6,804.7 397.6,801.4 436.5,798.8M319.7,804.9 358.6,799.8 397.6,796.7 436.5,794.3M319.7,810.8 358.6,805.1 397.6,801.5 436.5,798.7" stroke="#6287ca"/>
<path d="M319.7,789.7 358.6,788 397.6,786.9 436.5,786.1M319.7,739.5 358.6,745.8 397.6,749.9 436.5,753.1M319.7,786.5 358.6,785.1 397.6,784.3 436.5,783.6M319.7,803.1 358.6,799.2 397.6,796.6 436.5,794.7" stroke="#93bcda"/>
</g>
<line x1="319.7" y1="738" x2="319.7" y2="824.1" stroke="#8ec8e0" stroke-width="0.8"/>
<rect x="268.5" y="720.3" width="175.5" height="117.7" fill="none" stroke="#b4c6ea" stroke-width="1"/>
<line x1="265.5" y1="816" x2="268.5" y2="816" stroke="#b4c6ea" stroke-width="0.8"/>
<text transform="translate(264.5 819.4) scale(1.1 1)" font-size="9.5" fill="#3f5fae" text-anchor="end" font-family='"Liberation Sans", sans-serif' font-weight="normal" font-style="normal" >−50</text>
<line x1="265.5" y1="779.2" x2="268.5" y2="779.2" stroke="#b4c6ea" stroke-width="0.8"/>
<text transform="translate(264.5 782.6) scale(1.1 1)" font-size="9.5" fill="#3f5fae" text-anchor="end" font-family='"Liberation Sans", sans-serif' font-weight="normal" font-style="normal" >0</text>
<line x1="265.5" y1="742.4" x2="268.5" y2="742.4" stroke="#b4c6ea" stroke-width="0.8"/>
<text transform="translate(264.5 745.8) scale(1.1 1)" font-size="9.5" fill="#3f5fae" text-anchor="end" font-family='"Liberation Sans", sans-serif' font-weight="normal" font-style="normal" >50</text>
<line x1="311.8" y1="838" x2="311.8" y2="841" stroke="#b4c6ea" stroke-width="0.8"/>
<text transform="translate(311.8 848.3) scale(1.1 1)" font-size="9.5" fill="#3f5fae" text-anchor="middle" font-family='"Liberation Sans", sans-serif'>10<tspan dy="-4" font-size="6.5">1</tspan></text>
<line x1="357.4" y1="838" x2="357.4" y2="841" stroke="#b4c6ea" stroke-width="0.8"/>
<text transform="translate(357.4 848.3) scale(1.1 1)" font-size="9.5" fill="#3f5fae" text-anchor="middle" font-family='"Liberation Sans", sans-serif'>10<tspan dy="-4" font-size="6.5">3</tspan></text>
<line x1="402.9" y1="838" x2="402.9" y2="841" stroke="#b4c6ea" stroke-width="0.8"/>
<text transform="translate(402.9 848.3) scale(1.1 1)" font-size="9.5" fill="#3f5fae" text-anchor="middle" font-family='"Liberation Sans", sans-serif'>10<tspan dy="-4" font-size="6.5">5</tspan></text>
<line x1="319.7" y1="717.8" x2="319.7" y2="720.3" stroke="#b4c6ea" stroke-width="0.8"/>
<text x="319.7" y="716.1" font-size="8.5" fill="#3f5fae" text-anchor="middle" font-family='"Liberation Sans", sans-serif' font-style="italic">t<tspan dy="1.5" font-size="7" font-style="normal">0</tspan></text>
<line x1="333.5" y1="717.8" x2="333.5" y2="720.3" stroke="#b4c6ea" stroke-width="0.8"/>
<text x="333.5" y="716.1" font-size="8.5" fill="#3f5fae" text-anchor="middle" font-family='"Liberation Sans", sans-serif'>1 <tspan font-style="italic">m</tspan></text>
<line x1="370.7" y1="717.8" x2="370.7" y2="720.3" stroke="#b4c6ea" stroke-width="0.8"/>
<text x="370.7" y="716.1" font-size="8.5" fill="#3f5fae" text-anchor="middle" font-family='"Liberation Sans", sans-serif'>1 <tspan font-style="italic">hr</tspan></text>
<line x1="402.5" y1="717.8" x2="402.5" y2="720.3" stroke="#b4c6ea" stroke-width="0.8"/>
<text x="402.5" y="716.1" font-size="8.5" fill="#3f5fae" text-anchor="middle" font-family='"Liberation Sans", sans-serif'>1 <tspan font-style="italic">day</tspan></text>
<line x1="435.8" y1="717.8" x2="435.8" y2="720.3" stroke="#b4c6ea" stroke-width="0.8"/>
<text x="435.8" y="716.1" font-size="8.5" fill="#3f5fae" text-anchor="middle" font-family='"Liberation Sans", sans-serif'>1 <tspan font-style="italic">mo</tspan></text>
<text x="272" y="733.8" font-size="11.5" fill="#3f5fae" text-anchor="start" font-family='"Liberation Sans", sans-serif' font-weight="normal" font-style="italic" >Program</text>
<text x="387" y="733.8" font-size="11.5" fill="#3f5fae" text-anchor="middle" font-family='"Liberation Sans", sans-serif' font-weight="normal" font-style="italic" >Drift</text>
<text x="355.8" y="861" font-size="15" fill="#3f5fae" text-anchor="middle" font-family='"Liberation Sans", sans-serif' font-style="italic">Time <tspan font-style="normal">[</tspan>s<tspan font-style="normal">]</tspan></text>
<text x="237.5" y="779.1" font-size="15" fill="#3f5fae" text-anchor="middle" font-family='"Liberation Sans", sans-serif' transform="rotate(-90 237.5 779.1)" dy="4.5"><tspan font-style="italic">W̃</tspan> [<tspan font-style="italic">μS</tspan>]</text>
<path d="M501,740.2 L503.4,740.2 L505.9,740.2 L508.3,740.3 L510.7,740.4 L513.1,740.6 L515.6,741 L518,741.5 L520.4,742.3 L522.9,743.4 L525.3,744.9 L527.7,746.8 L530.1,749.1 L532.6,752 L535,755.5 L537.4,759.6 L539.8,764.6 L542.3,770.3 L544.7,777 L544.7,781.4 L542.3,788.1 L539.8,793.8 L537.4,798.8 L535,802.9 L532.6,806.4 L530.1,809.3 L527.7,811.6 L525.3,813.5 L522.9,815 L520.4,816.1 L518,816.9 L515.6,817.4 L513.1,817.8 L510.7,818 L508.3,818.1 L505.9,818.2 L503.4,818.2 L501,818.2 Z" fill="#c8f0ea" fill-opacity="0.7"/>
<g fill="none" stroke-width="0.6" stroke-opacity="0.85">
<path d="M501,780.5 503.4,779.2 505.9,779.4 508.3,778 510.7,779.2 513.1,779.1 515.6,783.1 518,780.6 520.4,778.7 522.9,779.9 525.3,780.5 527.7,779.8 530.1,780.2 532.6,780.1 535,780.5 537.4,780.2 539.8,780.1 542.3,780.4 544.7,780.4M501,779.5 503.4,778.6 505.9,777.9 508.3,778.7 510.7,779.7 513.1,780 515.6,780.8 518,779.6 520.4,778.6 522.9,777.9 525.3,778.3 527.7,778.3 530.1,779.2 532.6,779.1 535,779.3 537.4,778.9 539.8,778.9 542.3,778.6 544.7,778.5M501,766.2 503.4,767.5 505.9,766.4 508.3,767.9 510.7,765.7 513.1,767.7 515.6,768.5 518,767.1 520.4,768 522.9,768.7 525.3,769.1 527.7,770 530.1,770.2 532.6,771.4 535,772.2 537.4,774.4 539.8,775.8 542.3,778 544.7,780.4M501,760.9 503.4,762.2 505.9,761.5 508.3,759.4 510.7,760.2 513.1,761.2 515.6,761.5 518,762.4 520.4,761.1 522.9,763 525.3,763.1 527.7,765.7 530.1,766.8 532.6,766.9 535,769.5 537.4,771.2 539.8,773.4 542.3,776 544.7,779M501,761.5 503.4,761.4 505.9,761.1 508.3,758.8 510.7,761.8 513.1,763.3 515.6,761.2 518,760.8 520.4,761.3 522.9,762.1 525.3,761.9 527.7,763.1 530.1,764.2 532.6,766.1 535,768 537.4,769.1 539.8,772 542.3,774.6 544.7,778M501,758.6 503.4,758.6 505.9,759.4 508.3,759.8 510.7,758.3 513.1,759 515.6,760.7 518,758.5 520.4,759.6 522.9,760.1 525.3,761.4 527.7,761.1 530.1,762.7 532.6,764.4 535,766.6 537.4,769.1 539.8,772.1 542.3,776.2 544.7,780.7M501,762.8 503.4,763.6 505.9,762.9 508.3,763.1 510.7,764.9 513.1,763.7 515.6,762.8 518,763.6 520.4,764 522.9,765 525.3,763.9 527.7,765.9 530.1,765.6 532.6,767.5 535,768.8 537.4,771.1 539.8,772.8 542.3,775.5 544.7,778.5M501,754.9 503.4,754.7 505.9,754.5 508.3,753.8 510.7,755.3 513.1,753.6 515.6,752.8 518,755 520.4,754.5 522.9,755.7 525.3,757 527.7,758.5 530.1,759.7 532.6,760.7 535,763.8 537.4,766.7 539.8,769.8 542.3,773.5 544.7,778.1M501,758.5 503.4,758.4 505.9,758.3 508.3,758.1 510.7,757.4 513.1,759.9 515.6,759.5 518,760 520.4,762 522.9,761 525.3,761.9 527.7,764.4 530.1,766.9 532.6,768.2 535,769.6 537.4,772.7 539.8,775.1 542.3,777.7 544.7,780.8M501,767.7 503.4,767 505.9,767.2 508.3,769.9 510.7,769.4 513.1,769 515.6,767.4 518,769.3 520.4,768.9 522.9,769.2 525.3,769.7 527.7,770.6 530.1,771 532.6,771.6 535,772.7 537.4,773.7 539.8,774.7 542.3,775.9 544.7,777.3M501,761.7 503.4,762.6 505.9,763.4 508.3,761.8 510.7,761.1 513.1,762 515.6,763.9 518,763 520.4,763.1 522.9,763.4 525.3,765.5 527.7,766.2 530.1,766.5 532.6,768 535,769.6 537.4,771.7 539.8,774.7 542.3,777.6 544.7,781.1M501,795.7 503.4,794.6 505.9,795.4 508.3,793.8 510.7,796.2 513.1,796.9 515.6,794 518,794.4 520.4,793.2 522.9,794.4 525.3,794.4 527.7,791.6 530.1,791.3 532.6,790.4 535,788 537.4,786.9 539.8,784.9 542.3,782.3 544.7,779.6M501,779.1 503.4,778 505.9,779 508.3,777.8 510.7,777 513.1,779.5 515.6,779.9 518,780.1 520.4,779.6 522.9,778.6 525.3,779.2 527.7,778.3 530.1,779.2 532.6,778 535,778.6 537.4,778.3 539.8,778 542.3,777.7 544.7,777.2M501,785.7 503.4,787.1 505.9,786.9 508.3,787.1 510.7,787.7 513.1,786.8 515.6,787.4 518,785.4 520.4,785.6 522.9,787 525.3,785.9 527.7,785.5 530.1,784.1 532.6,784.5 535,783.2 537.4,782.2 539.8,781.7 542.3,780.2 544.7,778.7M501,773.2 503.4,773.3 505.9,774.2 508.3,774.2 510.7,773.3 513.1,774.7 515.6,773.1 518,774.4 520.4,772.2 522.9,773.4 525.3,773.2 527.7,774.1 530.1,773.7 532.6,774.5 535,775 537.4,776 539.8,776.8 542.3,777.9 544.7,779.2M501,776.4 503.4,775.4 505.9,776.5 508.3,776.7 510.7,775.4 513.1,775.7 515.6,776.1 518,774.6 520.4,777.2 522.9,775.9 525.3,776.6 527.7,775.7 530.1,776.8 532.6,776.1 535,776.6 537.4,776 539.8,776.8 542.3,776.8 544.7,777.2M501,779.5 503.4,779.6 505.9,780.4 508.3,779.6 510.7,780 513.1,779.2 515.6,778.9 518,780.4 520.4,779.7 522.9,780.4 525.3,779.8 527.7,779.5 530.1,779.3 532.6,780 535,779.5 537.4,779.7 539.8,779.8 542.3,779.8 544.7,779.8M501,772.8 503.4,773.1 505.9,771.3 508.3,770.5 510.7,771.9 513.1,773.2 515.6,773.2 518,772.1 520.4,774.2 522.9,774.1 525.3,772.5 527.7,774.2 530.1,774.1 532.6,773.3 535,774.8 537.4,774.9 539.8,776 542.3,777 544.7,777.9M501,771 503.4,771.9 505.9,769.9 508.3,770.1 510.7,770.2 513.1,770.7 515.6,771.1 518,772.1 520.4,773.2 522.9,773.2 525.3,772.5 527.7,774 530.1,773.6 532.6,773.5 535,774.8 537.4,774.9 539.8,776.5 542.3,777.2 544.7,778.5M501,741.2 503.4,740.5 505.9,741.1 508.3,741.2 510.7,741.1 513.1,739.2 515.6,741.6 518,742.9 520.4,744.2 522.9,746.3 525.3,746.8 527.7,748.9 530.1,751.8 532.6,754.3 535,758.2 537.4,762.6 539.8,767.9 542.3,773.6 544.7,780.4M501,795.2 503.4,795.3 505.9,794.8 508.3,793.9 510.7,794.3 513.1,795.8 515.6,792.5 518,794.2 520.4,794 522.9,792.1 525.3,791.2 527.7,790.9 530.1,789.5 532.6,789 535,787.6 537.4,786.3 539.8,784.1 542.3,782.4 544.7,780.3M501,780 503.4,780 505.9,780.9 508.3,779.3 510.7,779.9 513.1,779.7 515.6,778.8 518,780.3 520.4,780.4 522.9,780.4 525.3,781.2 527.7,780.5 530.1,779.8 532.6,780.1 535,780.7 537.4,781 539.8,780.7 542.3,781 544.7,781.2M501,772.1 503.4,772.6 505.9,772.1 508.3,772.3 510.7,771.6 513.1,772.9 515.6,773.4 518,773.9 520.4,772 522.9,772.1 525.3,773.5 527.7,774.1 530.1,773.1 532.6,773.9 535,774.3 537.4,775.3 539.8,776.1 542.3,777.4 544.7,778.8M501,777.5 503.4,778.5 505.9,775.4 508.3,777.4 510.7,777.7 513.1,778.9 515.6,777.3 518,777.5 520.4,778.5 522.9,776.5 525.3,776.8 527.7,778.5 530.1,777.1 532.6,777.8 535,777.3 537.4,777.5 539.8,777.5 542.3,777.7 544.7,777.8M501,757.7 503.4,755.7 505.9,758.6 508.3,757.8 510.7,758.6 513.1,756.7 515.6,759.4 518,759.5 520.4,758.7 522.9,760.9 525.3,760.4 527.7,761.3 530.1,763.4 532.6,766.3 535,767.6 537.4,769.9 539.8,772.4 542.3,775.7 544.7,779.4M501,774.4 503.4,773.5 505.9,775.7 508.3,772.2 510.7,773.7 513.1,773.5 515.6,774.5 518,774.5 520.4,773.6 522.9,775 525.3,775.4 527.7,775 530.1,775.5 532.6,774.9 535,775.8 537.4,776.1 539.8,776.8 542.3,777.4 544.7,778.1M501,802.1 503.4,802.5 505.9,802.3 508.3,801 510.7,802.5 513.1,800.9 515.6,800.8 518,800.5 520.4,802.2 522.9,799.4 525.3,799 527.7,797.6 530.1,796.5 532.6,794.6 535,792.5 537.4,789.7 539.8,786.1 542.3,782.4 544.7,777.8M501,780.1 503.4,780 505.9,778.8 508.3,779.5 510.7,782.5 513.1,777.9 515.6,778.5 518,780.7 520.4,778.5 522.9,780.3 525.3,779 527.7,779.2 530.1,779.7 532.6,779 535,779 537.4,778.9 539.8,779 542.3,778.6 544.7,778.5M501,792.1 503.4,792.1 505.9,792.1 508.3,791.9 510.7,789.7 513.1,792.1 515.6,792.7 518,790.3 520.4,790.2 522.9,790.8 525.3,790.2 527.7,788.4 530.1,788.1 532.6,787 535,785.6 537.4,784.1 539.8,782 542.3,780.1 544.7,777.5M501,776.5 503.4,776.6 505.9,775.5 508.3,777.2 510.7,777.6 513.1,775 515.6,776.7 518,775.3 520.4,776.5 522.9,777.3 525.3,776.5 527.7,775.9 530.1,777.5 532.6,777.5 535,778.1 537.4,777.9 539.8,778.3 542.3,778.5 544.7,779.2M501,742.2 503.4,742.2 505.9,741.1 508.3,745 510.7,741.1 513.1,743.6 515.6,743.6 518,743.4 520.4,744.7 522.9,747.1 525.3,749.1 527.7,752.2 530.1,754 532.6,757.3 535,760.9 537.4,765.1 539.8,769.5 542.3,774.6 544.7,780.5M501,774.1 503.4,774.2 505.9,773.7 508.3,774.3 510.7,773.6 513.1,772.9 515.6,772.7 518,774.9 520.4,774.6 522.9,774.4 525.3,774.5 527.7,774.3 530.1,774.7 532.6,775.8 535,775.9 537.4,775.6 539.8,775.9 542.3,776.4 544.7,777M501,753 503.4,752.9 505.9,754.1 508.3,754.6 510.7,754.4 513.1,754.6 515.6,752.7 518,755.1 520.4,754.1 522.9,755.5 525.3,755.6 527.7,756.2 530.1,758.3 532.6,760.1 535,762.8 537.4,765.7 539.8,769 542.3,773.8 544.7,779.3M501,778 503.4,777 505.9,777.8 508.3,778 510.7,776.4 513.1,777.5 515.6,780.3 518,777.2 520.4,779.2 522.9,778.5 525.3,777.9 527.7,777.6 530.1,777.5 532.6,777.9 535,777.5 537.4,777.7 539.8,777.9 542.3,778 544.7,778M501,779.7 503.4,782.1 505.9,781.2 508.3,781 510.7,783.1 513.1,780.7 515.6,780.4 518,780.4 520.4,779.3 522.9,780.7 525.3,780.2 527.7,780.8 530.1,779.8 532.6,780.4 535,780.3 537.4,780.2 539.8,780.5 542.3,780.1 544.7,780.1M501,776.2 503.4,776.9 505.9,778.3 508.3,776 510.7,776.8 513.1,777.7 515.6,776.4 518,776.7 520.4,777.9 522.9,776.5 525.3,776.9 527.7,776.6 530.1,777.7 532.6,777.4 535,778.4 537.4,778.9 539.8,779.5 542.3,780.2 544.7,781.1M501,781.3 503.4,781.5 505.9,783.7 508.3,782.3 510.7,783.1 513.1,783.1 515.6,781 518,782.5 520.4,782 522.9,782.4 525.3,781.1 527.7,782.7 530.1,781.9 532.6,781.4 535,781.8 537.4,781.9 539.8,782 542.3,781.5 544.7,781.6M501,792 503.4,793 505.9,792.2 508.3,792.5 510.7,791.6 513.1,792 515.6,792.4 518,792 520.4,790.3 522.9,790.5 525.3,789.6 527.7,789.6 530.1,788.8 532.6,787.2 535,786.6 537.4,784.8 539.8,782.9 542.3,780.8 544.7,778M501,769.7 503.4,770.2 505.9,767.7 508.3,772 510.7,768.9 513.1,767.2 515.6,768.6 518,770.5 520.4,769.6 522.9,769.1 525.3,770.5 527.7,770.4 530.1,770.2 532.6,771.7 535,772.1 537.4,772.9 539.8,774.2 542.3,775.6 544.7,777.2M501,761.3 503.4,760.9 505.9,761.4 508.3,763.2 510.7,761.9 513.1,762.7 515.6,763.9 518,762.6 520.4,761.7 522.9,765.9 525.3,764.8 527.7,764.9 530.1,766.6 532.6,768 535,769.7 537.4,772.3 539.8,774.4 542.3,777 544.7,779.9M501,785.1 503.4,783.8 505.9,784.5 508.3,785.1 510.7,784 513.1,784.5 515.6,784.9 518,786.5 520.4,783.9 522.9,782.8 525.3,783.5 527.7,783.2 530.1,782.9 532.6,782.5 535,782.2 537.4,780.3 539.8,780.1 542.3,779.1 544.7,777.8M501,777.5 503.4,776.8 505.9,776.8 508.3,779.4 510.7,777.6 513.1,777.3 515.6,776.7 518,777.2 520.4,778.1 522.9,778.4 525.3,778.1 527.7,777.8 530.1,778 532.6,777.1 535,777.2 537.4,777.9 539.8,778 542.3,778.1 544.7,778.1M501,771.2 503.4,772.4 505.9,771.4 508.3,771.2 510.7,773.1 513.1,771.8 515.6,773.4 518,773.7 520.4,771.5 522.9,771.9 525.3,771.6 527.7,773.8 530.1,773.9 532.6,774.6 535,775.2 537.4,776.4 539.8,777.6 542.3,778.5 544.7,780.4M501,788.5 503.4,788.2 505.9,789.8 508.3,788.9 510.7,788.4 513.1,788.4 515.6,789.1 518,790.2 520.4,788.3 522.9,788.6 525.3,787.9 527.7,787.6 530.1,787.3 532.6,787 535,786.1 537.4,785.2 539.8,783.8 542.3,782.6 544.7,781M501,789.1 503.4,789.4 505.9,788.5 508.3,787.4 510.7,787.2 513.1,790.8 515.6,789.6 518,789.1 520.4,788 522.9,787.8 525.3,788 527.7,786.6 530.1,785.4 532.6,785.1 535,783.8 537.4,782.9 539.8,781.5 542.3,779.6 544.7,777.4M501,788.5 503.4,788.8 505.9,789.9 508.3,790 510.7,788 513.1,788.4 515.6,789.1 518,788.2 520.4,788.9 522.9,787.4 525.3,787.5 527.7,786.1 530.1,786.1 532.6,785.5 535,785.1 537.4,784.3 539.8,783.3 542.3,782.4 544.7,781.3M501,769.3 503.4,768.6 505.9,769.1 508.3,769 510.7,769.1 513.1,768.9 515.6,771.8 518,769.8 520.4,769.6 522.9,770.5 525.3,772 527.7,771.3 530.1,772.2 532.6,773.1 535,774.8 537.4,775.1 539.8,776.9 542.3,778.5 544.7,780.1M501,776.4 503.4,775.8 505.9,773.7 508.3,774.2 510.7,779.2 513.1,775.8 515.6,777 518,775.9 520.4,775.8 522.9,776.7 525.3,776.3 527.7,776.6 530.1,776.6 532.6,776.6 535,776.9 537.4,777.3 539.8,777.3 542.3,777.9 544.7,778.5M501,767.8 503.4,768.2 505.9,768.8 508.3,766.7 510.7,767 513.1,766.9 515.6,766.6 518,768.8 520.4,768.6 522.9,768.5 525.3,769.9 527.7,769.9 530.1,770.1 532.6,770.8 535,772.2 537.4,773.6 539.8,775.4 542.3,777.2 544.7,779.4M501,793.8 503.4,793.2 505.9,793.6 508.3,793.8 510.7,793.2 513.1,792.7 515.6,793.8 518,794.5 520.4,793.3 522.9,791.8 525.3,791.2 527.7,790.3 530.1,789.5 532.6,788.5 535,785.7 537.4,784.6 539.8,782.4 542.3,779.7 544.7,777.1M501,775.2 503.4,775.7 505.9,775.6 508.3,774.1 510.7,774.7 513.1,775.6 515.6,775.4 518,775.2 520.4,777.1 522.9,776.2 525.3,775.5 527.7,775.7 530.1,776.5 532.6,776.1 535,775.9 537.4,776.1 539.8,776.6 542.3,777 544.7,777.2M501,791.9 503.4,792.5 505.9,791.5 508.3,791.7 510.7,790.3 513.1,790.9 515.6,793.2 518,791.6 520.4,791.1 522.9,791 525.3,790.4 527.7,790.9 530.1,789.3 532.6,788.4 535,787.3 537.4,785.6 539.8,784.1 542.3,782 544.7,779.6M501,799.9 503.4,800.4 505.9,798.9 508.3,799.1 510.7,798.2 513.1,797.9 515.6,797.6 518,797.4 520.4,797.1 522.9,795.7 525.3,794.7 527.7,793.5 530.1,792.5 532.6,790.5 535,789.3 537.4,786.4 539.8,784 542.3,781.6 544.7,778.7" stroke="#c4f2ea"/>
<path d="M501,749.5 503.4,749.1 505.9,750 508.3,750.3 510.7,749.4 513.1,751.4 515.6,751.2 518,751.7 520.4,752.5 522.9,754 525.3,753.9 527.7,756.1 530.1,758.8 532.6,761.8 535,764.2 537.4,767.2 539.8,771.5 542.3,775.3 544.7,780.3M501,762 503.4,760.9 505.9,762.4 508.3,759.8 510.7,759.4 513.1,764.1 515.6,762.2 518,763.7 520.4,761.5 522.9,763.6 525.3,763.2 527.7,764.2 530.1,766 532.6,767.5 535,768.1 537.4,770.7 539.8,773 542.3,775.8 544.7,779.4M501,753 503.4,751.5 505.9,755.2 508.3,750.3 510.7,755.7 513.1,753.7 515.6,755.4 518,754.6 520.4,755.9 522.9,757 525.3,757.7 527.7,759.1 530.1,761.6 532.6,763.1 535,766.6 537.4,769 539.8,772 542.3,775.1 544.7,779M501,743 503.4,743.2 505.9,742.9 508.3,742.4 510.7,745.7 513.1,743.8 515.6,742.8 518,744.9 520.4,743.8 522.9,744.8 525.3,748 527.7,749.6 530.1,750.9 532.6,755.1 535,758.4 537.4,762.8 539.8,767.5 542.3,773.6 544.7,780.8M501,751.7 503.4,751.8 505.9,752.8 508.3,751.9 510.7,752 513.1,751 515.6,753.2 518,752.5 520.4,754.3 522.9,754.2 525.3,755.6 527.7,756.9 530.1,758.9 532.6,760.5 535,764.1 537.4,767.4 539.8,771.2 542.3,775.7 544.7,781.2M501,735.5 503.4,735.3 505.9,734 508.3,735.9 510.7,737.5 513.1,735.4 515.6,737.1 518,737.7 520.4,738.4 522.9,738.8 525.3,740.9 527.7,743.9 530.1,746.9 532.6,749.8 535,754.2 537.4,758.9 539.8,763.9 542.3,769.8 544.7,776.9M501,745 503.4,744.3 505.9,744.9 508.3,744.7 510.7,746 513.1,744.3 515.6,746.6 518,746.7 520.4,748.2 522.9,748.7 525.3,752.2 527.7,754.4 530.1,755.7 532.6,759.3 535,761.8 537.4,765.3 539.8,769.3 542.3,773.9 544.7,779.2M501,796.4 503.4,795.5 505.9,795.8 508.3,795.7 510.7,797.2 513.1,794.9 515.6,796.2 518,794 520.4,795.7 522.9,792.4 525.3,793.9 527.7,793.4 530.1,792.1 532.6,790.1 535,788.7 537.4,787.3 539.8,785.2 542.3,783 544.7,780.8M501,758.6 503.4,759.9 505.9,757.8 508.3,759.1 510.7,759 513.1,758 515.6,758.7 518,760.8 520.4,759.3 522.9,760.5 525.3,760.3 527.7,761.9 530.1,762.9 532.6,765.1 535,766.9 537.4,769.2 539.8,771.6 542.3,775 544.7,778.7M501,774.1 503.4,773.9 505.9,774.3 508.3,774.1 510.7,774.6 513.1,772.4 515.6,776.6 518,773.9 520.4,774.7 522.9,775.9 525.3,775.9 527.7,776.7 530.1,776 532.6,776.6 535,777.4 537.4,777.8 539.8,779.3 542.3,780.1 544.7,781M501,758.2 503.4,759.4 505.9,758.9 508.3,757.5 510.7,761 513.1,758.8 515.6,759.1 518,757.8 520.4,760.7 522.9,760.6 525.3,763.1 527.7,762.6 530.1,764.6 532.6,766 535,767.2 537.4,769.9 539.8,772.7 542.3,775.7 544.7,779.5M501,818.1 503.4,819.4 505.9,818.6 508.3,817.4 510.7,817.3 513.1,818.7 515.6,816.6 518,817.7 520.4,815 522.9,814.3 525.3,813.3 527.7,809.3 530.1,807.6 532.6,804.3 535,801.1 537.4,796.3 539.8,792.2 542.3,787.2 544.7,781.4M501,808.6 503.4,808.8 505.9,807 508.3,808.6 510.7,807.8 513.1,807.5 515.6,808.1 518,809 520.4,806.8 522.9,807 525.3,804.6 527.7,803.5 530.1,803.8 532.6,799.2 535,797.6 537.4,793.5 539.8,789.2 542.3,784.1 544.7,778M501,794.1 503.4,794.3 505.9,793.1 508.3,791.7 510.7,793.5 513.1,794.5 515.6,794.1 518,792.3 520.4,793 522.9,793.4 525.3,790.5 527.7,790.7 530.1,790.5 532.6,789.2 535,788 537.4,786.2 539.8,783.5 542.3,781 544.7,777.9M501,743.3 503.4,742.7 505.9,743.8 508.3,744 510.7,744.1 513.1,745.9 515.6,743.6 518,744.5 520.4,745.9 522.9,748.8 525.3,749.4 527.7,751 530.1,753.3 532.6,756.6 535,759.3 537.4,762.9 539.8,767.9 542.3,772.7 544.7,778.3M501,816.3 503.4,816.4 505.9,817.9 508.3,816 510.7,817.2 513.1,817 515.6,815.9 518,816.6 520.4,816 522.9,814.3 525.3,813.8 527.7,811.4 530.1,810.5 532.6,806.9 535,803.7 537.4,799.8 539.8,794.9 542.3,788.4 544.7,781.1M501,814.9 503.4,814.7 505.9,815.1 508.3,815 510.7,813 513.1,814.6 515.6,814 518,814.2 520.4,815.1 522.9,812.7 525.3,812.1 527.7,810.4 530.1,808.6 532.6,806.2 535,802.8 537.4,798.7 539.8,793.4 542.3,787.4 544.7,780M501,745.2 503.4,743.6 505.9,744.2 508.3,745.8 510.7,744.4 513.1,746.9 515.6,744 518,746.2 520.4,748.7 522.9,747.8 525.3,748.9 527.7,751.6 530.1,753.4 532.6,756 535,759.2 537.4,763.6 539.8,767.9 542.3,773.7 544.7,780.3M501,749.2 503.4,748.9 505.9,749 508.3,750.7 510.7,750.1 513.1,749.8 515.6,750.3 518,750.6 520.4,751.8 522.9,752.3 525.3,753 527.7,753.9 530.1,756 532.6,758.2 535,761.3 537.4,764.8 539.8,768.5 542.3,773.4 544.7,779.2M501,770.5 503.4,768.8 505.9,769.6 508.3,768.6 510.7,768.2 513.1,770.7 515.6,771.6 518,770.2 520.4,770.4 522.9,771.8 525.3,772.2 527.7,773.1 530.1,772.3 532.6,773 535,774.3 537.4,775.2 539.8,776.5 542.3,777.8 544.7,779.1M501,773.8 503.4,774.1 505.9,772.4 508.3,772.4 510.7,773.5 513.1,771.8 515.6,775 518,774.9 520.4,772.2 522.9,774.4 525.3,774.2 527.7,773.8 530.1,774.2 532.6,774.6 535,774.9 537.4,776 539.8,776.5 542.3,777.2 544.7,778.1M501,752 503.4,751.8 505.9,750.1 508.3,751.2 510.7,753 513.1,752.5 515.6,752.2 518,752.6 520.4,753.9 522.9,755.6 525.3,756.6 527.7,757.6 530.1,760.2 532.6,763.3 535,766 537.4,769 539.8,772.3 542.3,776.5 544.7,781.1M501,791.8 503.4,792.6 505.9,792 508.3,790.5 510.7,790.2 513.1,791.3 515.6,791.4 518,790.2 520.4,791.6 522.9,789.5 525.3,790.2 527.7,790.2 530.1,788.3 532.6,787.4 535,787 537.4,784.8 539.8,783.6 542.3,782.1 544.7,780M501,772.4 503.4,771.5 505.9,772.1 508.3,771.3 510.7,774.1 513.1,774.2 515.6,772.6 518,772.4 520.4,773.3 522.9,773.2 525.3,772.8 527.7,772.4 530.1,772.7 532.6,774.4 535,774.8 537.4,775.2 539.8,775.9 542.3,776.9 544.7,778.1M501,811.9 503.4,813.3 505.9,812.5 508.3,811.6 510.7,811.1 513.1,810.8 515.6,811.1 518,809.1 520.4,809 522.9,805.9 525.3,805.6 527.7,802.9 530.1,800.8 532.6,798.7 535,795.3 537.4,791.8 539.8,788.2 542.3,784.1 544.7,779.4" stroke="#6287ca"/>
<path d="M501,745.8 503.4,746.9 505.9,748 508.3,747.1 510.7,745.6 513.1,749.8 515.6,746.1 518,747.7 520.4,748.2 522.9,750.7 525.3,751.4 527.7,753.4 530.1,754.3 532.6,757.8 535,760.5 537.4,764.4 539.8,768.8 542.3,773.5 544.7,779.2M501,742.3 503.4,741.8 505.9,742.2 508.3,740.6 510.7,742.1 513.1,741.2 515.6,740.9 518,742.3 520.4,742.9 522.9,744.7 525.3,745.5 527.7,745.9 530.1,748.7 532.6,752 535,755.5 537.4,759.5 539.8,764.3 542.3,770.6 544.7,777.5M501,788.9 503.4,788.9 505.9,788.9 508.3,787.6 510.7,789.4 513.1,788.4 515.6,788.4 518,789.4 520.4,787.3 522.9,788.2 525.3,788.9 527.7,787.3 530.1,787.1 532.6,786.5 535,786.1 537.4,785.3 539.8,784.1 542.3,783 544.7,781.4M501,819.8 503.4,820.9 505.9,818.4 508.3,821.1 510.7,818.1 513.1,817.4 515.6,818.5 518,818.5 520.4,814.2 522.9,814 525.3,813 527.7,809.5 530.1,807.5 532.6,803.6 535,800.3 537.4,796.2 539.8,790.7 542.3,785.5 544.7,779.6M501,755.1 503.4,754.9 505.9,753.5 508.3,753.5 510.7,755.3 513.1,754.5 515.6,754.8 518,755.2 520.4,756.2 522.9,756.5 525.3,758 527.7,758.5 530.1,760.1 532.6,761.8 535,763.9 537.4,766.4 539.8,769.6 542.3,772.9 544.7,776.7M501,811.7 503.4,811.5 505.9,812.6 508.3,812.4 510.7,812.9 513.1,812.3 515.6,811 518,810.4 520.4,810.7 522.9,808.4 525.3,807.3 527.7,804.9 530.1,803.8 532.6,800.8 535,798.5 537.4,793.9 539.8,789.7 542.3,784.8 544.7,779.3M501,738.8 503.4,738.3 505.9,739.1 508.3,740 510.7,739.4 513.1,739 515.6,738.3 518,741 520.4,743.2 522.9,742 525.3,744.5 527.7,746.2 530.1,749.2 532.6,752.4 535,756.7 537.4,760.4 539.8,765.9 542.3,771.7 544.7,778.6M501,767.3 503.4,765.2 505.9,767.3 508.3,765.7 510.7,769.8 513.1,766.5 515.6,766.9 518,767.7 520.4,767.1 522.9,769.1 525.3,769 527.7,770.2 530.1,771 532.6,772.8 535,773.6 537.4,775.3 539.8,777.2 542.3,779.3 544.7,781.8M501,801.5 503.4,802.5 505.9,800.6 508.3,803.8 510.7,802 513.1,800.5 515.6,800.9 518,801 520.4,801.8 522.9,801.7 525.3,799.5 527.7,798.7 530.1,796.9 532.6,796.4 535,794.5 537.4,791.9 539.8,789.1 542.3,785.3 544.7,781.1M501,749.3 503.4,748.5 505.9,752 508.3,748.6 510.7,749.4 513.1,748.4 515.6,750.4 518,750.4 520.4,751.7 522.9,754.8 525.3,755.5 527.7,757.8 530.1,759.6 532.6,762.5 535,765.6 537.4,768.5 539.8,772.3 542.3,776.4 544.7,781.2M501,803.1 503.4,803.2 505.9,804 508.3,804.8 510.7,804.4 513.1,804.5 515.6,804.7 518,801.9 520.4,801.4 522.9,800.8 525.3,799.8 527.7,800.1 530.1,799.1 532.6,796.1 535,793.8 537.4,791 539.8,786.9 542.3,782.6 544.7,777.3M501,744.4 503.4,745.2 505.9,744.8 508.3,745.6 510.7,744.5 513.1,748.2 515.6,746.4 518,747.1 520.4,747.7 522.9,750.5 525.3,751.8 527.7,753.8 530.1,755 532.6,757.9 535,760.7 537.4,764.3 539.8,768.2 542.3,772.7 544.7,777.3M501,735.7 503.4,734.9 505.9,737.2 508.3,736 510.7,733.3 513.1,736.4 515.6,738.1 518,738.2 520.4,739.2 522.9,740.3 525.3,742.2 527.7,744.6 530.1,747.9 532.6,750.6 535,754.6 537.4,759.6 539.8,764.6 542.3,770.9 544.7,778M501,820.2 503.4,819.8 505.9,819.4 508.3,819.2 510.7,820.7 513.1,822.5 515.6,821.4 518,820.5 520.4,819.3 522.9,817.8 525.3,817.1 527.7,815.3 530.1,812.6 532.6,811.1 535,806.7 537.4,802.1 539.8,796.4 542.3,789.6 544.7,781.5M501,786.5 503.4,786.9 505.9,786 508.3,783.9 510.7,786.1 513.1,787.8 515.6,786.7 518,786.6 520.4,785 522.9,784.9 525.3,783.4 527.7,784 530.1,783.4 532.6,782.1 535,782 537.4,780.7 539.8,779.4 542.3,778.2 544.7,776.8M501,815.8 503.4,816.1 505.9,816.9 508.3,815.6 510.7,812.6 513.1,814.8 515.6,815.5 518,815.5 520.4,813.6 522.9,814 525.3,811.9 527.7,809.9 530.1,807.6 532.6,804.4 535,801.1 537.4,797.1 539.8,792 542.3,785.5 544.7,778.4M501,740 503.4,739.4 505.9,739 508.3,738.4 510.7,740.2 513.1,741.4 515.6,740.6 518,742.6 520.4,743.4 522.9,742.6 525.3,745.5 527.7,746.3 530.1,748.9 532.6,752.9 535,756.4 537.4,760.7 539.8,765.6 542.3,771.7 544.7,778.6M501,752 503.4,753.6 505.9,750.5 508.3,752.2 510.7,754.2 513.1,753.4 515.6,754 518,753.1 520.4,754.6 522.9,755.2 525.3,755.7 527.7,758.6 530.1,760.1 532.6,761.3 535,764.2 537.4,766.3 539.8,769.8 542.3,773.3 544.7,777.3M501,799.9 503.4,800.3 505.9,799.9 508.3,798.6 510.7,802.2 513.1,799.3 515.6,800.8 518,800.2 520.4,798.7 522.9,798.2 525.3,798.1 527.7,796.8 530.1,795.1 532.6,794.3 535,792.9 537.4,790.4 539.8,787.7 542.3,784.2 544.7,780.5M501,788.4 503.4,789.6 505.9,788.8 508.3,790.2 510.7,788.2 513.1,788.4 515.6,789 518,789.8 520.4,790.4 522.9,788.3 525.3,786.8 527.7,787.6 530.1,786.4 532.6,786.3 535,784.9 537.4,784.4 539.8,783 542.3,782.1 544.7,780.7M501,815.2 503.4,814.8 505.9,817.8 508.3,814.7 510.7,814.1 513.1,815.7 515.6,814.4 518,814.2 520.4,813.6 522.9,814.2 525.3,811.4 527.7,811.5 530.1,808.5 532.6,805.9 535,802.7 537.4,798.7 539.8,793.6 542.3,787.7 544.7,780.5M501,796.7 503.4,795.6 505.9,796 508.3,800.2 510.7,797 513.1,797.1 515.6,797.1 518,794.8 520.4,796.4 522.9,794.7 525.3,794.9 527.7,794 530.1,793.1 532.6,790.6 535,789.5 537.4,787.4 539.8,784.3 542.3,781.1 544.7,777M501,738.8 503.4,739 505.9,739.8 508.3,740 510.7,740.6 513.1,740.3 515.6,741 518,740.9 520.4,742.8 522.9,744.8 525.3,747.4 527.7,749.1 530.1,752.4 532.6,755.8 535,758.3 537.4,762.1 539.8,767.2 542.3,771.4 544.7,776.8M501,806 503.4,806.5 505.9,805.7 508.3,802.9 510.7,806.5 513.1,804.7 515.6,803.9 518,805.1 520.4,803.8 522.9,803.6 525.3,801.3 527.7,801.1 530.1,800.8 532.6,798.2 535,796 537.4,792.5 539.8,788.7 542.3,783.9 544.7,778.2M501,791.1 503.4,790.9 505.9,790.8 508.3,790.6 510.7,790.6 513.1,790.2 515.6,790.6 518,789.4 520.4,789.6 522.9,787.9 525.3,788.6 527.7,787.9 530.1,786.3 532.6,785.4 535,783.8 537.4,782.5 539.8,780.4 542.3,779.1 544.7,777.1M501,787.3 503.4,786.7 505.9,787.2 508.3,785.3 510.7,788.2 513.1,786.9 515.6,787.4 518,787.6 520.4,786.5 522.9,786.6 525.3,786.5 527.7,786.3 530.1,786.8 532.6,785.3 535,785.4 537.4,783.4 539.8,782.6 542.3,782.1 544.7,781.1" stroke="#7ba2d2"/>
<path d="M501,773.5 503.4,772.1 505.9,773.8 508.3,776.5 510.7,773.5 513.1,773.4 515.6,771.9 518,774.2 520.4,775 522.9,774.1 525.3,773.3 527.7,775.1 530.1,774.6 532.6,775.5 535,776.1 537.4,777.1 539.8,777.6 542.3,778.5 544.7,779.4M501,792.4 503.4,792.5 505.9,792.5 508.3,793.3 510.7,790.2 513.1,791.2 515.6,793 518,790.4 520.4,791.4 522.9,790.5 525.3,790.4 527.7,789.2 530.1,788.3 532.6,787.1 535,785.9 537.4,785.2 539.8,782.8 542.3,780.6 544.7,778.2M501,800.8 503.4,800.6 505.9,800.5 508.3,799.8 510.7,799.4 513.1,798.9 515.6,799.5 518,799 520.4,798.6 522.9,797.5 525.3,796.7 527.7,795 530.1,793.6 532.6,792.8 535,791 537.4,787.8 539.8,785.4 542.3,782.4 544.7,779M501,784.6 503.4,785.5 505.9,784.5 508.3,783.3 510.7,783.6 513.1,782 515.6,783 518,783.8 520.4,785.6 522.9,783.6 525.3,782.7 527.7,783.4 530.1,782.1 532.6,782.7 535,781.6 537.4,780.8 539.8,779.9 542.3,779.1 544.7,777.9M501,790.3 503.4,789.9 505.9,791.5 508.3,790.8 510.7,788.6 513.1,790.5 515.6,789 518,789.9 520.4,790.1 522.9,788.7 525.3,787.8 527.7,788.1 530.1,788.1 532.6,786.9 535,785.7 537.4,784.4 539.8,783 542.3,781.2 544.7,779.3M501,799.2 503.4,799.2 505.9,798.1 508.3,799.9 510.7,799.2 513.1,798.6 515.6,799.1 518,798.9 520.4,798.5 522.9,797.1 525.3,794.8 527.7,795.5 530.1,792.7 532.6,791.8 535,789.8 537.4,787 539.8,784.3 542.3,781.2 544.7,777.7M501,746.4 503.4,745.3 505.9,746.9 508.3,747.7 510.7,747.4 513.1,748.2 515.6,749.6 518,749.2 520.4,750.9 522.9,750.5 525.3,753.1 527.7,756.4 530.1,757.7 532.6,759.7 535,763.1 537.4,766.6 539.8,770.4 542.3,774.8 544.7,779.6M501,778.4 503.4,777.6 505.9,777.4 508.3,778.8 510.7,777.5 513.1,778.2 515.6,778.7 518,777.8 520.4,778.4 522.9,778.8 525.3,777.9 527.7,779 530.1,777.5 532.6,778.2 535,778.1 537.4,778 539.8,778.2 542.3,778.5 544.7,778.7M501,783.6 503.4,783.1 505.9,782.7 508.3,782.5 510.7,781.6 513.1,781.5 515.6,783.3 518,783.5 520.4,781.8 522.9,782.5 525.3,782.6 527.7,782.2 530.1,781.4 532.6,781.1 535,781.6 537.4,780.4 539.8,779.6 542.3,778.7 544.7,777.7M501,783 503.4,781.7 505.9,782.7 508.3,782.2 510.7,782.4 513.1,781.1 515.6,782.2 518,781.3 520.4,782.7 522.9,781.8 525.3,782.1 527.7,781.5 530.1,780.1 532.6,781.1 535,780.3 537.4,780 539.8,779.2 542.3,778.6 544.7,777.6M501,781 503.4,780.8 505.9,781 508.3,779.2 510.7,782.8 513.1,781.7 515.6,780.2 518,780.5 520.4,780.4 522.9,780.1 525.3,780.5 527.7,779.9 530.1,779.6 532.6,780.4 535,779.5 537.4,780 539.8,779.8 542.3,779.4 544.7,779.1M501,750.3 503.4,750.7 505.9,750 508.3,747.8 510.7,752.1 513.1,751.1 515.6,749.5 518,750.3 520.4,752 522.9,752.7 525.3,754.1 527.7,755.7 530.1,757.2 532.6,759 535,761.8 537.4,765.4 539.8,768.8 542.3,773.2 544.7,778.1M501,763.8 503.4,763.2 505.9,764.4 508.3,761.2 510.7,764.6 513.1,762.2 515.6,764.8 518,764.7 520.4,764 522.9,764.7 525.3,765.4 527.7,766.1 530.1,766.5 532.6,767.9 535,768.4 537.4,770.4 539.8,772.5 542.3,775 544.7,777.6M501,759.4 503.4,757.8 505.9,759.1 508.3,759.9 510.7,757.2 513.1,760.1 515.6,757.8 518,760.6 520.4,760.8 522.9,762.2 525.3,763.4 527.7,764.2 530.1,765.2 532.6,767.5 535,769.9 537.4,772.2 539.8,774.2 542.3,777.3 544.7,780.3M501,786.2 503.4,786.5 505.9,786.8 508.3,785.6 510.7,787.3 513.1,785.8 515.6,785.2 518,786.2 520.4,785.9 522.9,786.1 525.3,785.1 527.7,784.6 530.1,784.2 532.6,784.4 535,783.7 537.4,783.2 539.8,782.2 542.3,781.4 544.7,780.5M501,795.4 503.4,794.6 505.9,794.8 508.3,792.9 510.7,793 513.1,793 515.6,793.5 518,793 520.4,792.6 522.9,791.3 525.3,791.2 527.7,789.9 530.1,788.6 532.6,787.7 535,786.1 537.4,784.5 539.8,782.5 542.3,780.1 544.7,777.5M501,782.1 503.4,780.5 505.9,781.6 508.3,781.3 510.7,781.6 513.1,781.4 515.6,780.4 518,781.3 520.4,781.5 522.9,781.8 525.3,781 527.7,780.3 530.1,781 532.6,780.6 535,779.6 537.4,779.4 539.8,778.6 542.3,778.1 544.7,777.1M501,775.1 503.4,774.7 505.9,776.4 508.3,774.1 510.7,775.1 513.1,774.5 515.6,774.3 518,775.8 520.4,775.7 522.9,775.3 525.3,774.9 527.7,777.2 530.1,775.2 532.6,776.4 535,777.2 537.4,777.1 539.8,777.7 542.3,778 544.7,778.9M501,792.3 503.4,794.3 505.9,794.2 508.3,790.4 510.7,793.9 513.1,792.5 515.6,793.2 518,795 520.4,792.7 522.9,793.2 525.3,790.9 527.7,792 530.1,789.8 532.6,789.8 535,788.2 537.4,786.1 539.8,784.9 542.3,782.5 544.7,779.7M501,769.1 503.4,769.8 505.9,768.9 508.3,769.4 510.7,769.4 513.1,770.7 515.6,768.9 518,770.3 520.4,768.6 522.9,770.1 525.3,769.7 527.7,770.9 530.1,772 532.6,771.8 535,773.1 537.4,773.9 539.8,775.3 542.3,776.8 544.7,779M501,756.1 503.4,755.5 505.9,754.5 508.3,753.9 510.7,758.4 513.1,755 515.6,754.4 518,755.9 520.4,755.7 522.9,757.8 525.3,758.5 527.7,760.1 530.1,761.7 532.6,763.2 535,766 537.4,768.6 539.8,772.2 542.3,776.4 544.7,781M501,787.4 503.4,786.9 505.9,785.4 508.3,787.2 510.7,787.6 513.1,787 515.6,787.5 518,788.4 520.4,787.1 522.9,786.9 525.3,786.1 527.7,787.5 530.1,785.2 532.6,784.5 535,783.4 537.4,782.4 539.8,780.9 542.3,779.4 544.7,777.4M501,800.1 503.4,799.8 505.9,800.5 508.3,796.5 510.7,800.6 513.1,801.5 515.6,799.2 518,798.9 520.4,799.9 522.9,797.3 525.3,797.5 527.7,795.8 530.1,795 532.6,793.2 535,792 537.4,790.2 539.8,787.6 542.3,784.7 544.7,781.4M501,782.7 503.4,782.2 505.9,783.4 508.3,784.3 510.7,781.5 513.1,785.5 515.6,782.6 518,783.6 520.4,782.9 522.9,783.8 525.3,783.2 527.7,782.5 530.1,782.8 532.6,782.1 535,782.8 537.4,782.2 539.8,781.9 542.3,781.7 544.7,781.6M501,769.5 503.4,769.7 505.9,766.8 508.3,767.7 510.7,769 513.1,769.3 515.6,767 518,769.8 520.4,768.9 522.9,769.7 525.3,770.9 527.7,769.6 530.1,771.4 532.6,771.9 535,773.4 537.4,774.4 539.8,776 542.3,778.2 544.7,780.4M501,753.4 503.4,752.4 505.9,752.8 508.3,752.1 510.7,752.5 513.1,753.3 515.6,753.8 518,753.4 520.4,753.5 522.9,755.7 525.3,756.3 527.7,756.4 530.1,759.2 532.6,760.7 535,763 537.4,766.5 539.8,769.9 542.3,773.7 544.7,778.2M501,761.8 503.4,761.8 505.9,761.8 508.3,762.9 510.7,763.1 513.1,762.6 515.6,762.6 518,762.2 520.4,762.8 522.9,762.2 525.3,763.4 527.7,764.4 530.1,764.9 532.6,766.1 535,767.8 537.4,769.8 539.8,771.7 542.3,774.3 544.7,777.4M501,755.7 503.4,756.4 505.9,756.5 508.3,757.1 510.7,758.2 513.1,754.5 515.6,755.6 518,755.9 520.4,756.2 522.9,758.1 525.3,759.2 527.7,761.1 530.1,762.2 532.6,765 535,767.5 537.4,770.3 539.8,773.3 542.3,776.9 544.7,781.2" stroke="#acd7e2"/>
<path d="M501,796 503.4,797.4 505.9,798.7 508.3,797.1 510.7,797.4 513.1,797.6 515.6,797.2 518,797.1 520.4,795.7 522.9,796.9 525.3,795.3 527.7,794.2 530.1,794.1 532.6,791.4 535,790.7 537.4,788.7 539.8,786.4 542.3,783.3 544.7,779.9M501,790.4 503.4,791.2 505.9,790.2 508.3,790.4 510.7,790.4 513.1,790.7 515.6,789.8 518,789.8 520.4,788.7 522.9,789.8 525.3,789.5 527.7,789.4 530.1,787 532.6,787.4 535,785.8 537.4,784.7 539.8,783.5 542.3,781.6 544.7,779.5M501,789.8 503.4,790 505.9,790.7 508.3,790.3 510.7,787.9 513.1,790.7 515.6,787.4 518,788.4 520.4,787.5 522.9,788.8 525.3,787.2 527.7,787.1 530.1,785.4 532.6,785.6 535,783.8 537.4,782.9 539.8,780.9 542.3,779.2 544.7,777M501,809.7 503.4,810.9 505.9,810.5 508.3,810.7 510.7,809.5 513.1,808.9 515.6,808 518,807.5 520.4,808 522.9,807.9 525.3,805.1 527.7,805.1 530.1,802.4 532.6,800.2 535,797.2 537.4,793.3 539.8,789.3 542.3,784.1 544.7,778.2M501,761 503.4,761 505.9,760.9 508.3,760.7 510.7,761 513.1,760.7 515.6,760.9 518,760.3 520.4,761.7 522.9,763.9 525.3,763.1 527.7,765 530.1,767 532.6,768.4 535,769.7 537.4,771.7 539.8,773.9 542.3,776.6 544.7,779.3M501,792.5 503.4,792.2 505.9,793 508.3,791.2 510.7,792.9 513.1,791.8 515.6,793 518,792.8 520.4,791.7 522.9,791.3 525.3,790.1 527.7,790.5 530.1,789.4 532.6,788.4 535,786.7 537.4,785.9 539.8,784.4 542.3,782.3 544.7,779.9M501,743.4 503.4,743 505.9,745.3 508.3,744 510.7,745.6 513.1,743.3 515.6,744.9 518,745.6 520.4,746.6 522.9,748.4 525.3,751.2 527.7,752.8 530.1,756.3 532.6,758.4 535,761.5 537.4,765 539.8,768.9 542.3,773.4 544.7,778.2M501,820.1 503.4,820.2 505.9,819.8 508.3,818.7 510.7,821.1 513.1,819.2 515.6,819.5 518,818.8 520.4,817.3 522.9,817.1 525.3,817.3 527.7,813.2 530.1,810.8 532.6,807.7 535,804.2 537.4,798.8 539.8,793.4 542.3,786.5 544.7,778.3M501,767.4 503.4,768.2 505.9,769.1 508.3,767.8 510.7,768.7 513.1,768.1 515.6,769.6 518,768.6 520.4,767.4 522.9,768.5 525.3,769.8 527.7,770 530.1,770 532.6,771.4 535,772.5 537.4,774.6 539.8,776.1 542.3,778.5 544.7,781.4M501,812 503.4,811 505.9,811.3 508.3,811.8 510.7,811.1 513.1,809.6 515.6,809.5 518,808.5 520.4,808.9 522.9,805.4 525.3,804.7 527.7,803.2 530.1,801.1 532.6,799.2 535,796.1 537.4,793.1 539.8,789.7 542.3,785.8 544.7,781.7M501,808.7 503.4,810 505.9,809.1 508.3,807.5 510.7,807.2 513.1,807.3 515.6,808.4 518,808.6 520.4,808.9 522.9,806.7 525.3,805.2 527.7,804.6 530.1,802.3 532.6,799.5 535,797.5 537.4,794.2 539.8,790.4 542.3,785.8 544.7,780.3M501,759.5 503.4,759.8 505.9,759.7 508.3,761.5 510.7,759.7 513.1,759.6 515.6,759.2 518,760.5 520.4,761.6 522.9,760.8 525.3,762.6 527.7,762.6 530.1,763.7 532.6,765.2 535,767.4 537.4,769.1 539.8,771.5 542.3,774.8 544.7,778M501,808.6 503.4,808.5 505.9,809.7 508.3,808.7 510.7,808.1 513.1,809 515.6,807.6 518,806.2 520.4,806 522.9,804.9 525.3,803.1 527.7,800.8 530.1,799.1 532.6,796.4 535,793.7 537.4,790.2 539.8,786 542.3,781.8 544.7,777.1M501,751.1 503.4,751.4 505.9,751.9 508.3,751.5 510.7,750.2 513.1,750.4 515.6,751 518,751.2 520.4,752.9 522.9,754.2 525.3,755.6 527.7,755.4 530.1,757.3 532.6,759.8 535,762.1 537.4,764.9 539.8,768.5 542.3,772.5 544.7,777" stroke="#4a6cc2"/>
<path d="M501,808.2 503.4,808 505.9,807.4 508.3,805.7 510.7,808.2 513.1,807.2 515.6,810.1 518,808.2 520.4,805 522.9,804.4 525.3,805 527.7,804 530.1,802.4 532.6,800 535,797.1 537.4,794.1 539.8,789.9 542.3,785.4 544.7,780.2M501,792.3 503.4,791 505.9,791.5 508.3,791.1 510.7,793.7 513.1,793.3 515.6,792.5 518,790.9 520.4,790.6 522.9,791.5 525.3,790.3 527.7,789.8 530.1,789.6 532.6,788.6 535,787.5 537.4,785.5 539.8,783.5 542.3,780.9 544.7,778.2M501,820.8 503.4,819.6 505.9,819.5 508.3,819.5 510.7,822.5 513.1,820 515.6,819 518,819.7 520.4,818.4 522.9,816.1 525.3,813.7 527.7,812.4 530.1,810.1 532.6,807.2 535,803.4 537.4,798.6 539.8,792.8 542.3,786.5 544.7,779M501,820.5 503.4,820.7 505.9,820.6 508.3,819.8 510.7,819.9 513.1,820.9 515.6,819.2 518,819.5 520.4,819 522.9,816.1 525.3,815.9 527.7,813.4 530.1,811.4 532.6,807.4 535,804 537.4,798.8 539.8,792.5 542.3,785.4 544.7,777.1" stroke="#93bcda"/>
</g>
<path d="M544.7,776.3 L661.5,772.9 L661.5,785.1 L544.7,782.1 Z" fill="#c8f0ea"/>
<g fill="none" stroke-width="0.6" stroke-opacity="0.85">
<path d="M544.7,780.7 661.5,781.6M544.7,781.4 661.5,783M544.7,780.3 661.5,781.5M544.7,781.2 661.5,782M544.7,780.8 661.5,782.1M544.7,781.8 661.5,783.6M544.7,781.7 661.5,783.6M544.7,779 661.5,779M544.7,779.9 661.5,780.7" stroke="#b4ebe2"/>
<path d="M544.7,781.2 661.5,783.5M544.7,777.4 661.5,775.4M544.7,777.4 661.5,776.7M544.7,776.5 661.5,774.4M544.7,776.7 661.5,775.7M544.7,778.3 661.5,777.6M544.7,779.8 661.5,780.2M544.7,779.5 661.5,779.6M544.7,778.5 661.5,777.7" stroke="#9ed1db"/>
<path d="M544.7,776.3 661.5,771.8M544.7,782.1 661.5,788.4M544.7,776.6 661.5,773.7M544.7,781.8 661.5,785.1" stroke="#5a7dc8"/>
</g>
<rect x="552.6" y="799.2" width="97.9" height="25" rx="2" fill="#fff" fill-opacity="0.85" stroke="#c8d4ee" stroke-width="0.8"/>
<text x="555.6" y="809.7" font-size="9.5" fill="#3f5fae" font-family='"Liberation Sans", sans-serif'><tspan font-style="italic">t</tspan><tspan dy="1.5" font-size="6.5">0</tspan><tspan dy="-1.5"> (</tspan><tspan font-style="italic">σ</tspan> = 1.1 <tspan font-style="italic">μS</tspan>)</text>
<text x="555.6" y="820.2" font-size="9.5" fill="#3f5fae" font-family='"Liberation Sans", sans-serif'>1 <tspan font-style="italic">month</tspan> (<tspan font-style="italic">σ</tspan> = 2.4 <tspan font-style="italic">μS</tspan>)</text>
<rect x="493.5" y="720.3" width="175.5" height="117.7" fill="none" stroke="#b4c6ea" stroke-width="1"/>
<line x1="490.5" y1="816" x2="493.5" y2="816" stroke="#b4c6ea" stroke-width="0.8"/>
<text transform="translate(489.5 819.4) scale(1.1 1)" font-size="9.5" fill="#3f5fae" text-anchor="end" font-family='"Liberation Sans", sans-serif' font-weight="normal" font-style="normal" >−50</text>
<line x1="490.5" y1="779.2" x2="493.5" y2="779.2" stroke="#b4c6ea" stroke-width="0.8"/>
<text transform="translate(489.5 782.6) scale(1.1 1)" font-size="9.5" fill="#3f5fae" text-anchor="end" font-family='"Liberation Sans", sans-serif' font-weight="normal" font-style="normal" >0</text>
<line x1="490.5" y1="742.4" x2="493.5" y2="742.4" stroke="#b4c6ea" stroke-width="0.8"/>
<text transform="translate(489.5 745.8) scale(1.1 1)" font-size="9.5" fill="#3f5fae" text-anchor="end" font-family='"Liberation Sans", sans-serif' font-weight="normal" font-style="normal" >50</text>
<line x1="536.8" y1="838" x2="536.8" y2="841" stroke="#b4c6ea" stroke-width="0.8"/>
<text transform="translate(536.8 848.3) scale(1.1 1)" font-size="9.5" fill="#3f5fae" text-anchor="middle" font-family='"Liberation Sans", sans-serif'>10<tspan dy="-4" font-size="6.5">1</tspan></text>
<line x1="582.4" y1="838" x2="582.4" y2="841" stroke="#b4c6ea" stroke-width="0.8"/>
<text transform="translate(582.4 848.3) scale(1.1 1)" font-size="9.5" fill="#3f5fae" text-anchor="middle" font-family='"Liberation Sans", sans-serif'>10<tspan dy="-4" font-size="6.5">3</tspan></text>
<line x1="627.9" y1="838" x2="627.9" y2="841" stroke="#b4c6ea" stroke-width="0.8"/>
<text transform="translate(627.9 848.3) scale(1.1 1)" font-size="9.5" fill="#3f5fae" text-anchor="middle" font-family='"Liberation Sans", sans-serif'>10<tspan dy="-4" font-size="6.5">5</tspan></text>
<line x1="544.7" y1="717.8" x2="544.7" y2="720.3" stroke="#b4c6ea" stroke-width="0.8"/>
<text x="544.7" y="716.1" font-size="8.5" fill="#3f5fae" text-anchor="middle" font-family='"Liberation Sans", sans-serif' font-style="italic">t<tspan dy="1.5" font-size="7" font-style="normal">0</tspan></text>
<line x1="558.5" y1="717.8" x2="558.5" y2="720.3" stroke="#b4c6ea" stroke-width="0.8"/>
<text x="558.5" y="716.1" font-size="8.5" fill="#3f5fae" text-anchor="middle" font-family='"Liberation Sans", sans-serif'>1 <tspan font-style="italic">m</tspan></text>
<line x1="595.7" y1="717.8" x2="595.7" y2="720.3" stroke="#b4c6ea" stroke-width="0.8"/>
<text x="595.7" y="716.1" font-size="8.5" fill="#3f5fae" text-anchor="middle" font-family='"Liberation Sans", sans-serif'>1 <tspan font-style="italic">hr</tspan></text>
<line x1="627.5" y1="717.8" x2="627.5" y2="720.3" stroke="#b4c6ea" stroke-width="0.8"/>
<text x="627.5" y="716.1" font-size="8.5" fill="#3f5fae" text-anchor="middle" font-family='"Liberation Sans", sans-serif'>1 <tspan font-style="italic">day</tspan></text>
<line x1="660.8" y1="717.8" x2="660.8" y2="720.3" stroke="#b4c6ea" stroke-width="0.8"/>
<text x="660.8" y="716.1" font-size="8.5" fill="#3f5fae" text-anchor="middle" font-family='"Liberation Sans", sans-serif'>1 <tspan font-style="italic">mo</tspan></text>
<text x="497" y="733.8" font-size="11.5" fill="#3f5fae" text-anchor="start" font-family='"Liberation Sans", sans-serif' font-weight="normal" font-style="italic" >Program</text>
<text x="612" y="733.8" font-size="11.5" fill="#3f5fae" text-anchor="middle" font-family='"Liberation Sans", sans-serif' font-weight="normal" font-style="italic" >Drift</text>
<text x="580.8" y="861" font-size="15" fill="#3f5fae" text-anchor="middle" font-family='"Liberation Sans", sans-serif' font-style="italic">Time <tspan font-style="normal">[</tspan>s<tspan font-style="normal">]</tspan></text>
<text x="462.5" y="779.1" font-size="15" fill="#3f5fae" text-anchor="middle" font-family='"Liberation Sans", sans-serif' transform="rotate(-90 462.5 779.1)" dy="4.5"><tspan font-style="italic">αW̃</tspan> − <tspan font-style="italic">W</tspan> [<tspan font-style="italic">μS</tspan>]</text>
<path d="M276.5,495 L276.5,495 L277.7,494 L278.9,493 L280.1,492 L281.4,491 L282.6,490 L283.8,489 L285,488 L286.2,487 L287.4,486.1 L288.6,485.4 L289.9,484.7 L291.1,484 L292.3,483.3 L293.5,482.7 L294.7,482 L295.9,481.3 L297.1,480.6 L298.4,479.9 L299.6,479.3 L300.8,478.7 L302,478.4 L303.2,477.7 L304.4,476.3 L305.6,474.3 L306.8,471.7 L308.1,468.4 L309.3,464.4 L310.5,459.6 L311.7,454.1 L312.9,447.9 L314.1,440.8 L315.3,432.9 L316.6,424.3 L317.8,414.8 L319,404.5 L320.2,393.3 L320.2,495 Z" fill="#fbd393"/>
<path d="M320.2,495 L320.2,405.4 L437,441.3 L437,495 Z" fill="#fbd393" fill-opacity="0.4"/>
<g fill="none" stroke-width="0.7" stroke-opacity="0.85">
<path d="M320.2,417.1 327.2,421.8 338.9,426.5 357.6,432.2 384.4,438.6 411.3,443.8 437,448M320.2,424.3 327.2,428.7 338.9,433.1 357.6,438.5 384.4,444.5 411.3,449.4 437,453.3M320.2,432.1 327.2,436.1 338.9,440.1 357.6,444.9 384.4,450.3 411.3,454.7 437,458.2M320.2,399.5 327.2,404.6 338.9,409.9 357.6,416.3 384.4,423.6 411.3,429.5 437,434.4M320.2,396.1 327.2,402.3 338.9,408.6 357.6,416.3 384.4,424.8 411.3,431.6 437,437.1M320.2,425.3 327.2,429.6 338.9,433.9 357.6,439.2 384.4,445 411.3,449.8 437,453.6M320.2,472.9 327.2,474.2 338.9,475.4 357.6,477 384.4,478.8 411.3,480.2 437,481.4M320.2,399.9 327.2,405.4 338.9,411.1 357.6,417.9 384.4,425.6 411.3,431.9 437,437M320.2,452.1 327.2,454.6 338.9,457.1 357.6,460.1 384.4,463.5 411.3,466.3 437,468.6M320.2,422.9 327.2,427 338.9,431.2 357.6,436.3 384.4,442 411.3,446.7 437,450.5M320.2,467.5 327.2,469.3 338.9,471.1 357.6,473.2 384.4,475.6 411.3,477.6 437,479.1M320.2,455 327.2,457.4 338.9,459.9 357.6,462.9 384.4,466.3 411.3,469 437,471.2M320.2,468.8 327.2,470.4 338.9,472.1 357.6,474.1 384.4,476.4 411.3,478.2 437,479.6M320.2,493.8 343.6,494 384.4,494.2 437,494.3M320.2,430.6 327.2,434.9 338.9,439.2 357.6,444.4 384.4,450.1 411.3,454.7 437,458.4M320.2,463.4 327.2,465.3 338.9,467.2 357.6,469.5 384.4,472.1 411.3,474.2 437,476M320.2,461.2 327.2,463.2 338.9,465.2 357.6,467.7 384.4,470.5 411.3,472.7 437,474.6M320.2,490.6 343.6,491.1 384.4,491.7 437,492.2M320.2,457.1 327.2,459.2 338.9,461.4 357.6,464.1 384.4,467.1 411.3,469.5 437,471.5M320.2,467.1 327.2,468.8 338.9,470.5 357.6,472.5 384.4,474.8 411.3,476.6 437,478.1M320.2,406 327.2,411.5 338.9,417.2 357.6,424 384.4,431.6 411.3,437.7 437,442.7M320.2,416.5 327.2,421.3 338.9,426.1 357.6,431.9 384.4,438.5 411.3,443.7 437,448M320.2,481.5 327.2,482.3 338.9,483.1 357.6,484.1 384.4,485.2 411.3,486.1 437,486.8M320.2,462.9 327.2,464.9 338.9,466.9 357.6,469.3 384.4,472 411.3,474.2 437,476M320.2,423.3 327.2,427.2 338.9,431.2 357.6,436.1 384.4,441.7 411.3,446.2 437,450M320.2,467 327.2,468.9 338.9,470.7 357.6,473 384.4,475.5 411.3,477.4 437,479M320.2,480.8 327.2,481.7 338.9,482.7 357.6,483.8 384.4,485 411.3,486 437,486.8M320.2,470.7 327.2,472.1 338.9,473.5 357.6,475.2 384.4,477.1 411.3,478.7 437,480M320.2,456.3 327.2,458.4 338.9,460.5 357.6,463.1 384.4,466 411.3,468.4 437,470.4M320.2,464.7 327.2,466.7 338.9,468.6 357.6,471 384.4,473.6 411.3,475.7 437,477.4M320.2,457.8 327.2,460.1 338.9,462.5 357.6,465.3 384.4,468.5 411.3,471.1 437,473.1M320.2,479.8 327.2,480.7 338.9,481.6 357.6,482.7 384.4,484 411.3,485 437,485.8M320.2,463.3 327.2,465.2 338.9,467.2 357.6,469.6 384.4,472.3 411.3,474.5 437,476.2M320.2,470.2 327.2,471.7 338.9,473.2 357.6,475 384.4,477 411.3,478.7 437,480M320.2,486.7 343.6,487.9 384.4,489 437,490M320.2,455.5 327.2,457.9 338.9,460.3 357.6,463.2 384.4,466.5 411.3,469.1 437,471.3M320.2,466.9 327.2,468.4 338.9,470 357.6,471.9 384.4,474.1 411.3,475.9 437,477.3M320.2,484.4 343.6,485.9 384.4,487.4 437,488.7M320.2,483 343.6,484.8 384.4,486.5 437,488M320.2,459.2 327.2,461.3 338.9,463.5 357.6,466.1 384.4,469.1 411.3,471.5 437,473.4M320.2,463.3 327.2,465.4 338.9,467.5 357.6,470 384.4,472.9 411.3,475.1 437,476.9M320.2,489.8 343.6,490.6 384.4,491.4 437,492.1M320.2,478 327.2,479 338.9,480.1 357.6,481.3 384.4,482.7 411.3,483.9 437,484.8M320.2,479.3 327.2,480.2 338.9,481.2 357.6,482.3 384.4,483.7 411.3,484.7 437,485.6M320.2,454.4 327.2,456.8 338.9,459.3 357.6,462.3 384.4,465.7 411.3,468.4 437,470.6M320.2,470.2 327.2,471.6 338.9,473 357.6,474.8 384.4,476.7 411.3,478.3 437,479.6M320.2,460.9 327.2,463.1 338.9,465.3 357.6,468 384.4,470.9 411.3,473.3 437,475.2M320.2,467.5 327.2,469.2 338.9,470.9 357.6,473 384.4,475.3 411.3,477.2 437,478.7M320.2,482.4 327.2,483.3 338.9,484.1 357.6,485.1 384.4,486.2 411.3,487.1 437,487.8M320.2,492.2 343.6,492.6 384.4,492.9 437,493.3M320.2,489.2 343.6,490.1 384.4,490.9 437,491.7M320.2,491.1 343.6,491.6 384.4,492.1 437,492.6M320.2,493.2 343.6,493.5 384.4,493.7 437,493.9M320.2,494.6 343.6,494.7 384.4,494.7 437,494.8M320.2,494.2 343.6,494.3 384.4,494.4 437,494.5M320.2,492.5 343.6,492.8 384.4,493.1 437,493.4M320.2,488.2 343.6,489.1 384.4,490 437,490.8M320.2,483.9 343.6,485.3 384.4,486.8 437,488M320.2,483.6 343.6,485.1 384.4,486.5 437,487.9M320.2,490.1 343.6,490.9 384.4,491.6 437,492.3M320.2,493.4 343.6,493.6 384.4,493.8 437,494" stroke="#f5b368"/>
<path d="M320.2,434.6 327.2,438.2 338.9,441.8 357.6,446.2 384.4,451.2 411.3,455.2 437,458.5M320.2,397.2 327.2,403.8 338.9,410.4 357.6,418.3 384.4,427.1 411.3,434.1 437,439.8M320.2,452.8 327.2,455.3 338.9,457.8 357.6,460.9 384.4,464.4 411.3,467.2 437,469.5M320.2,475.3 327.2,476.5 338.9,477.7 357.6,479.2 384.4,480.9 411.3,482.2 437,483.3M320.2,419.1 327.2,423.2 338.9,427.4 357.6,432.5 384.4,438.2 411.3,442.9 437,446.8M320.2,434.6 327.2,438.4 338.9,442.3 357.6,447 384.4,452.2 411.3,456.4 437,459.8M320.2,440 327.2,443.5 338.9,447.1 357.6,451.4 384.4,456.2 411.3,460.1 437,463.2M320.2,456.7 327.2,458.9 338.9,461.1 357.6,463.7 384.4,466.7 411.3,469.2 437,471.2M320.2,474.8 327.2,475.9 338.9,477.1 357.6,478.6 384.4,480.2 411.3,481.5 437,482.6M320.2,437.2 327.2,440.5 338.9,443.9 357.6,448.1 384.4,452.7 411.3,456.5 437,459.6M320.2,431.9 327.2,435.9 338.9,440 357.6,444.8 384.4,450.3 411.3,454.7 437,458.2M320.2,398.1 327.2,404.5 338.9,411 357.6,418.8 384.4,427.5 411.3,434.4 437,440M320.2,436 327.2,439.3 338.9,442.6 357.6,446.7 384.4,451.3 411.3,455 437,458.1M320.2,403.3 327.2,409.4 338.9,415.6 357.6,423 384.4,431.2 411.3,437.7 437,443M320.2,493.2 343.6,493.4 384.4,493.7 437,493.9M320.2,429 327.2,432.9 338.9,436.9 357.6,441.8 384.4,447.2 411.3,451.6 437,455.2M320.2,437.7 327.2,441.5 338.9,445.3 357.6,449.8 384.4,454.9 411.3,459 437,462.2M320.2,453 327.2,455.3 338.9,457.6 357.6,460.5 384.4,463.7 411.3,466.4 437,468.5M320.2,469.5 327.2,471.2 338.9,473 357.6,475 384.4,477.3 411.3,479.2 437,480.7M320.2,419.3 327.2,423.7 338.9,428.2 357.6,433.7 384.4,439.9 411.3,444.9 437,449M320.2,493.5 343.6,493.7 384.4,493.9 437,494.1M320.2,404 327.2,409.3 338.9,414.7 357.6,421.3 384.4,428.7 411.3,434.7 437,439.6M320.2,403.4 327.2,409.1 338.9,414.9 357.6,421.9 384.4,429.8 411.3,436.1 437,441.2M320.2,494 343.6,494.1 384.4,494.3 437,494.4M320.2,395.5 327.2,402.2 338.9,408.9 357.6,417 384.4,425.9 411.3,433.1 437,438.8M320.2,420.5 327.2,424.9 338.9,429.4 357.6,434.9 384.4,441 411.3,445.9 437,450M320.2,459.5 327.2,461.6 338.9,463.7 357.6,466.3 384.4,469.2 411.3,471.6 437,473.5M320.2,479.7 327.2,480.6 338.9,481.4 357.6,482.5 384.4,483.7 411.3,484.7 437,485.5M320.2,494.7 343.6,494.8 384.4,494.8 437,494.8M320.2,471.1 327.2,472.7 338.9,474.3 357.6,476.2 384.4,478.3 411.3,480 437,481.3M320.2,469.2 327.2,470.6 338.9,472.1 357.6,473.9 384.4,476 411.3,477.6 437,479M320.2,487.4 343.6,488.5 384.4,489.6 437,490.5M320.2,477.7 327.2,478.8 338.9,480 357.6,481.4 384.4,482.9 411.3,484.1 437,485.1M320.2,476.5 327.2,477.6 338.9,478.8 357.6,480.1 384.4,481.7 411.3,482.9 437,483.9M320.2,457.2 327.2,459.4 338.9,461.7 357.6,464.5 384.4,467.6 411.3,470.1 437,472.1M320.2,478 327.2,479.1 338.9,480.3 357.6,481.6 384.4,483.2 411.3,484.4 437,485.4M320.2,470.6 327.2,472 338.9,473.4 357.6,475.1 384.4,477 411.3,478.6 437,479.8M320.2,455.5 327.2,458.1 338.9,460.7 357.6,463.9 384.4,467.4 411.3,470.2 437,472.5M320.2,462.2 327.2,464.3 338.9,466.4 357.6,468.9 384.4,471.7 411.3,474 437,475.9M320.2,493.9 343.6,494 384.4,494.2 437,494.3M320.2,494.6 343.6,494.6 384.4,494.7 437,494.7M320.2,457.7 327.2,459.8 338.9,461.9 357.6,464.5 384.4,467.4 411.3,469.7 437,471.7M320.2,472.3 327.2,473.7 338.9,475.2 357.6,476.9 384.4,478.9 411.3,480.5 437,481.8M320.2,479.2 327.2,480.1 338.9,481 357.6,482.1 384.4,483.4 411.3,484.4 437,485.2M320.2,485.5 343.6,486.8 384.4,488 437,489.1M320.2,477.9 327.2,478.9 338.9,479.9 357.6,481.2 384.4,482.6 411.3,483.7 437,484.6M320.2,487.7 343.6,488.7 384.4,489.6 437,490.4M320.2,486.9 343.6,488.1 384.4,489.3 437,490.3M320.2,485.8 343.6,487 384.4,488.3 437,489.4M320.2,491.8 343.6,492.3 384.4,492.8 437,493.2M320.2,485.3 343.6,486.6 384.4,487.9 437,489M320.2,485.9 343.6,487 384.4,488.2 437,489.2M320.2,484 343.6,485.5 384.4,487 437,488.3M320.2,491.4 343.6,492 384.4,492.5 437,492.9M320.2,488.7 343.6,489.5 384.4,490.3 437,491.1M320.2,490.8 343.6,491.4 384.4,492.1 437,492.6M320.2,489.3 343.6,490.2 384.4,491 437,491.7M320.2,488.7 343.6,489.7 384.4,490.6 437,491.4M320.2,483.3 343.6,484.9 384.4,486.4 437,487.7M320.2,489.7 343.6,490.4 384.4,491.1 437,491.8M320.2,483.4 343.6,485.1 384.4,486.7 437,488.2M320.2,487.1 343.6,488.1 384.4,489.1 437,490" stroke="#f9cc97"/>
<path d="M320.2,486.1 343.6,487.4 384.4,488.6 437,489.6M320.2,474.1 327.2,475.5 338.9,476.9 357.6,478.5 384.4,480.4 411.3,481.8 437,483M320.2,429.6 327.2,434 338.9,438.5 357.6,443.8 384.4,449.7 411.3,454.5 437,458.2M320.2,451.1 327.2,453.9 338.9,456.8 357.6,460.2 384.4,464 411.3,467.1 437,469.5M320.2,431.1 327.2,434.5 338.9,438.1 357.6,442.5 384.4,447.4 411.3,451.4 437,454.7M320.2,477.1 327.2,478.1 338.9,479 357.6,480.2 384.4,481.6 411.3,482.7 437,483.6M320.2,492.1 343.6,492.5 384.4,493 437,493.3M320.2,483.7 343.6,485.3 384.4,486.7 437,488.1M320.2,459.8 327.2,461.9 338.9,464 357.6,466.6 384.4,469.5 411.3,471.8 437,473.7M320.2,485.4 343.6,486.8 384.4,488.2 437,489.4M320.2,480.1 327.2,481 338.9,482 357.6,483.1 384.4,484.4 411.3,485.4 437,486.3M320.2,494 343.6,494.1 384.4,494.2 437,494.4M320.2,486.2 343.6,487.4 384.4,488.6 437,489.7M320.2,482.3 327.2,483.2 338.9,484 357.6,485 384.4,486.1 411.3,487 437,487.7M320.2,478.3 327.2,479.4 338.9,480.5 357.6,481.8 384.4,483.2 411.3,484.4 437,485.3M320.2,479.1 327.2,480 338.9,480.9 357.6,482 384.4,483.3 411.3,484.4 437,485.2M320.2,492.8 343.6,493.1 384.4,493.4 437,493.7M320.2,491.8 343.6,492.2 384.4,492.7 437,493.1M320.2,488.4 343.6,489.4 384.4,490.4 437,491.3" stroke="#fde6c6"/>
<path d="M320.2,483.8 343.6,485.3 384.4,486.8 437,488.1M320.2,495 343.6,495 384.4,495 437,495M320.2,469.1 327.2,470.5 338.9,471.9 357.6,473.7 384.4,475.7 411.3,477.3 437,478.7M320.2,447.9 327.2,450.6 338.9,453.3 357.6,456.5 384.4,460.3 411.3,463.3 437,465.7M320.2,476 327.2,477.1 338.9,478.2 357.6,479.5 384.4,481.1 411.3,482.3 437,483.3M320.2,478.1 327.2,479 338.9,480 357.6,481.2 384.4,482.5 411.3,483.6 437,484.5M320.2,493.6 343.6,493.8 384.4,494 437,494.2M320.2,413.5 327.2,417.9 338.9,422.4 357.6,427.9 384.4,434.2 411.3,439.3 437,443.5M320.2,424.4 327.2,428.2 338.9,432.1 357.6,436.8 384.4,442.2 411.3,446.6 437,450.2M320.2,487.4 343.6,488.4 384.4,489.3 437,490.2M320.2,477.6 327.2,478.6 338.9,479.7 357.6,481 384.4,482.4 411.3,483.6 437,484.5M320.2,482.9 343.6,484.7 384.4,486.5 437,488M320.2,412.6 327.2,417.2 338.9,421.9 357.6,427.7 384.4,434.2 411.3,439.5 437,443.8M320.2,396.9 327.2,402.4 338.9,408.1 357.6,415.1 384.4,422.9 411.3,429.3 437,434.5M320.2,465.5 327.2,467.2 338.9,468.8 357.6,470.9 384.4,473.1 411.3,475 437,476.5M320.2,418 327.2,422.1 338.9,426.3 357.6,431.4 384.4,437.3 411.3,442.1 437,446M320.2,463.9 327.2,465.9 338.9,467.9 357.6,470.3 384.4,473 411.3,475.2 437,476.9M320.2,456.6 327.2,458.9 338.9,461.2 357.6,464 384.4,467.1 411.3,469.7 437,471.7M320.2,467.1 327.2,468.9 338.9,470.8 357.6,473 384.4,475.5 411.3,477.4 437,479M320.2,462.3 327.2,464.2 338.9,466.2 357.6,468.7 384.4,471.4 411.3,473.6 437,475.4M320.2,475.1 327.2,476.4 338.9,477.7 357.6,479.3 384.4,481 411.3,482.4 437,483.5M320.2,494.2 343.6,494.3 384.4,494.4 437,494.5M320.2,483.1 343.6,484.9 384.4,486.6 437,488.1M320.2,492.4 343.6,492.8 384.4,493.1 437,493.4M320.2,475.5 327.2,476.7 338.9,478 357.6,479.5 384.4,481.2 411.3,482.6 437,483.7M320.2,493.8 343.6,494 384.4,494.2 437,494.3M320.2,466.2 327.2,468.1 338.9,470.1 357.6,472.4 384.4,475 411.3,477 437,478.7M320.2,473.8 327.2,475.1 338.9,476.4 357.6,478 384.4,479.8 411.3,481.3 437,482.4M320.2,490.8 343.6,491.4 384.4,491.9 437,492.4M320.2,492.1 343.6,492.5 384.4,492.9 437,493.2M320.2,488.5 343.6,489.3 384.4,490.1 437,490.9M320.2,488.9 343.6,489.7 384.4,490.5 437,491.2M320.2,484.8 343.6,486.1 384.4,487.5 437,488.7M320.2,485.9 343.6,487.3 384.4,488.6 437,489.7M320.2,494.9 343.6,494.9 384.4,494.9 437,494.9M320.2,494.5 343.6,494.6 384.4,494.6 437,494.7M320.2,493.9 343.6,494 384.4,494.2 437,494.3M320.2,491.7 343.6,492.2 384.4,492.7 437,493.1" stroke="#fbd9ae"/>
<path d="M320.2,427.6 327.2,431.3 338.9,435.1 357.6,439.6 384.4,444.8 411.3,449.1 437,452.5M320.2,428 327.2,432.5 338.9,436.9 357.6,442.3 384.4,448.3 411.3,453.1 437,457M320.2,476.6 327.2,477.7 338.9,478.8 357.6,480.1 384.4,481.6 411.3,482.8 437,483.8M320.2,416.8 327.2,421.6 338.9,426.6 357.6,432.5 384.4,439.2 411.3,444.5 437,448.9M320.2,445.4 327.2,448.6 338.9,451.8 357.6,455.7 384.4,460 411.3,463.5 437,466.3M320.2,475.8 327.2,477.1 338.9,478.3 357.6,479.9 384.4,481.6 411.3,482.9 437,484M320.2,424.1 327.2,428.1 338.9,432.2 357.6,437.1 384.4,442.7 411.3,447.3 437,451M320.2,438.7 327.2,442.2 338.9,445.7 357.6,449.9 384.4,454.7 411.3,458.5 437,461.6M320.2,432.4 327.2,435.8 338.9,439.2 357.6,443.4 384.4,448.1 411.3,452 437,455.2M320.2,420.1 327.2,424.8 338.9,429.6 357.6,435.3 384.4,441.7 411.3,446.9 437,451.1M320.2,425.2 327.2,429.3 338.9,433.5 357.6,438.6 384.4,444.3 411.3,448.9 437,452.7M320.2,426.4 327.2,430 338.9,433.8 357.6,438.3 384.4,443.5 411.3,447.7 437,451.2M320.2,431.2 327.2,435.1 338.9,439 357.6,443.8 384.4,449.1 411.3,453.4 437,456.9M320.2,435.1 327.2,438.5 338.9,442 357.6,446.2 384.4,451 411.3,454.8 437,458M320.2,412.1 327.2,417.4 338.9,422.7 357.6,429.2 384.4,436.4 411.3,442.2 437,446.9M320.2,408.3 327.2,413.6 338.9,418.9 357.6,425.4 384.4,432.7 411.3,438.5 437,443.2M320.2,419.2 327.2,423.2 338.9,427.3 357.6,432.4 384.4,438.1 411.3,442.8 437,446.7M320.2,487.3 343.6,488.3 384.4,489.4 437,490.3M320.2,477.5 327.2,478.5 338.9,479.6 357.6,480.9 384.4,482.4 411.3,483.5 437,484.5M320.2,438.4 327.2,441.9 338.9,445.5 357.6,449.9 384.4,454.7 411.3,458.6 437,461.7M320.2,447.9 327.2,450.6 338.9,453.3 357.6,456.6 384.4,460.4 411.3,463.4 437,465.9M320.2,471 327.2,472.3 338.9,473.6 357.6,475.3 384.4,477.1 411.3,478.6 437,479.8M320.2,492.6 343.6,493 384.4,493.3 437,493.7M320.2,480.6 327.2,481.6 338.9,482.5 357.6,483.6 384.4,484.8 411.3,485.8 437,486.6M320.2,467.4 327.2,469.2 338.9,471 357.6,473.2 384.4,475.6 411.3,477.6 437,479.1M320.2,483.7 343.6,485.4 384.4,487 437,488.4M320.2,477.6 327.2,478.6 338.9,479.6 357.6,480.8 384.4,482.2 411.3,483.4 437,484.3M320.2,456.8 327.2,459.2 338.9,461.6 357.6,464.5 384.4,467.8 411.3,470.5 437,472.6M320.2,493.8 343.6,494 384.4,494.2 437,494.3M320.2,494.5 343.6,494.6 384.4,494.7 437,494.7M320.2,478.1 327.2,479 338.9,479.9 357.6,481.1 384.4,482.3 411.3,483.4 437,484.2M320.2,462.1 327.2,464.3 338.9,466.4 357.6,469 384.4,471.9 411.3,474.2 437,476M320.2,488.7 343.6,489.6 384.4,490.5 437,491.3M320.2,467.3 327.2,469 338.9,470.9 357.6,473 384.4,475.5 411.3,477.4 437,479M320.2,457 327.2,459.3 338.9,461.5 357.6,464.2 384.4,467.3 411.3,469.8 437,471.9M320.2,472.1 327.2,473.5 338.9,474.9 357.6,476.6 384.4,478.5 411.3,480 437,481.2M320.2,463 327.2,464.9 338.9,466.9 357.6,469.3 384.4,471.9 411.3,474.1 437,475.8M320.2,491.6 343.6,492 384.4,492.5 437,492.8M320.2,494 343.6,494.2 384.4,494.3 437,494.4M320.2,491.6 343.6,492.1 384.4,492.5 437,492.9M320.2,482.9 343.6,484.5 384.4,486.1 437,487.5M320.2,491.7 343.6,492.2 384.4,492.6 437,493M320.2,491 343.6,491.6 384.4,492.1 437,492.6M320.2,483.7 343.6,485.2 384.4,486.6 437,487.9M320.2,484.3 343.6,485.9 384.4,487.5 437,488.8M320.2,490.7 343.6,491.3 384.4,492 437,492.6M320.2,489.3 343.6,490.2 384.4,491.1 437,491.8M320.2,491.8 343.6,492.2 384.4,492.6 437,493" stroke="#f7c07f"/>
<path d="M320.2,409.9 327.2,414.6 338.9,419.5 357.6,425.4 384.4,432.1 411.3,437.5 437,442M320.2,461.1 327.2,462.9 338.9,464.7 357.6,467 384.4,469.6 411.3,471.7 437,473.4M320.2,451 327.2,453.5 338.9,456 357.6,459.1 384.4,462.6 411.3,465.5 437,467.8M320.2,476.4 327.2,477.5 338.9,478.7 357.6,480.2 384.4,481.8 411.3,483.1 437,484.1M320.2,403.2 327.2,409 338.9,414.8 357.6,421.9 384.4,429.8 411.3,436.2 437,441.3M320.2,493.8 343.6,494 384.4,494.1 437,494.3M320.2,485.4 343.6,486.7 384.4,488 437,489.1M320.2,407.1 327.2,412.9 338.9,418.9 357.6,426 384.4,433.9 411.3,440.2 437,445.3M320.2,414.9 327.2,419.8 338.9,424.7 357.6,430.8 384.4,437.5 411.3,443 437,447.4M320.2,452 327.2,454.5 338.9,457.1 357.6,460.2 384.4,463.7 411.3,466.5 437,468.8M320.2,467.4 327.2,469.1 338.9,470.8 357.6,472.8 384.4,475.1 411.3,476.9 437,478.4M320.2,414.1 327.2,419.6 338.9,425.1 357.6,431.8 384.4,439.1 411.3,445 437,449.7M320.2,467 327.2,468.9 338.9,470.8 357.6,473.1 384.4,475.7 411.3,477.7 437,479.3M320.2,463.8 327.2,465.4 338.9,467.1 357.6,469.2 384.4,471.5 411.3,473.4 437,475M320.2,473.3 327.2,474.4 338.9,475.6 357.6,477.1 384.4,478.7 411.3,480 437,481.2M320.2,494.6 343.6,494.7 384.4,494.7 437,494.8M320.2,466.5 327.2,468.2 338.9,469.9 357.6,472 384.4,474.3 411.3,476.2 437,477.7M320.2,471.8 327.2,473.1 338.9,474.4 357.6,476 384.4,477.8 411.3,479.3 437,480.5M320.2,493.8 343.6,494 384.4,494.2 437,494.3M320.2,468 327.2,469.6 338.9,471.3 357.6,473.2 384.4,475.5 411.3,477.3 437,478.8M320.2,487.3 343.6,488.3 384.4,489.2 437,490.1M320.2,479.9 327.2,480.7 338.9,481.6 357.6,482.6 384.4,483.8 411.3,484.8 437,485.5M320.2,481 327.2,481.8 338.9,482.5 357.6,483.5 384.4,484.5 411.3,485.4 437,486.1M320.2,462.8 327.2,464.5 338.9,466.4 357.6,468.6 384.4,471.1 411.3,473.1 437,474.8M320.2,491.8 343.6,492.2 384.4,492.6 437,493M320.2,484 343.6,485.4 384.4,486.7 437,488M320.2,488.9 343.6,489.7 384.4,490.5 437,491.3M320.2,484.8 343.6,486.3 384.4,487.7 437,489M320.2,491.4 343.6,491.9 384.4,492.3 437,492.8M320.2,493.8 343.6,494 384.4,494.1 437,494.3M320.2,486.2 343.6,487.5 384.4,488.7 437,489.8M320.2,490.8 343.6,491.4 384.4,492 437,492.5" stroke="#f3a650"/>
</g>
<line x1="320.2" y1="387.6" x2="320.2" y2="495" stroke="#fde6c6" stroke-width="0.8"/>
<rect x="269" y="382.6" width="175.2" height="117.6" fill="none" stroke="#f3c9a0" stroke-width="1"/>
<line x1="266" y1="495" x2="269" y2="495" stroke="#f3c9a0" stroke-width="0.8"/>
<text transform="translate(265 498.4) scale(1.1 1)" font-size="9.5" fill="#e98f35" text-anchor="end" font-family='"Liberation Sans", sans-serif' font-weight="normal" font-style="normal" >0</text>
<line x1="266" y1="474.7" x2="269" y2="474.7" stroke="#f3c9a0" stroke-width="0.8"/>
<text transform="translate(265 478.1) scale(1.1 1)" font-size="9.5" fill="#e98f35" text-anchor="end" font-family='"Liberation Sans", sans-serif' font-weight="normal" font-style="normal" >5</text>
<line x1="266" y1="454.3" x2="269" y2="454.3" stroke="#f3c9a0" stroke-width="0.8"/>
<text transform="translate(265 457.7) scale(1.1 1)" font-size="9.5" fill="#e98f35" text-anchor="end" font-family='"Liberation Sans", sans-serif' font-weight="normal" font-style="normal" >10</text>
<line x1="266" y1="434" x2="269" y2="434" stroke="#f3c9a0" stroke-width="0.8"/>
<text transform="translate(265 437.4) scale(1.1 1)" font-size="9.5" fill="#e98f35" text-anchor="end" font-family='"Liberation Sans", sans-serif' font-weight="normal" font-style="normal" >15</text>
<line x1="266" y1="413.6" x2="269" y2="413.6" stroke="#f3c9a0" stroke-width="0.8"/>
<text transform="translate(265 417) scale(1.1 1)" font-size="9.5" fill="#e98f35" text-anchor="end" font-family='"Liberation Sans", sans-serif' font-weight="normal" font-style="normal" >20</text>
<line x1="266" y1="393.3" x2="269" y2="393.3" stroke="#f3c9a0" stroke-width="0.8"/>
<text transform="translate(265 396.7) scale(1.1 1)" font-size="9.5" fill="#e98f35" text-anchor="end" font-family='"Liberation Sans", sans-serif' font-weight="normal" font-style="normal" >25</text>
<line x1="312.3" y1="500.2" x2="312.3" y2="503.2" stroke="#f3c9a0" stroke-width="0.8"/>
<text transform="translate(312.3 510.5) scale(1.1 1)" font-size="9.5" fill="#e98f35" text-anchor="middle" font-family='"Liberation Sans", sans-serif'>10<tspan dy="-4" font-size="6.5">1</tspan></text>
<line x1="357.9" y1="500.2" x2="357.9" y2="503.2" stroke="#f3c9a0" stroke-width="0.8"/>
<text transform="translate(357.9 510.5) scale(1.1 1)" font-size="9.5" fill="#e98f35" text-anchor="middle" font-family='"Liberation Sans", sans-serif'>10<tspan dy="-4" font-size="6.5">3</tspan></text>
<line x1="403.4" y1="500.2" x2="403.4" y2="503.2" stroke="#f3c9a0" stroke-width="0.8"/>
<text transform="translate(403.4 510.5) scale(1.1 1)" font-size="9.5" fill="#e98f35" text-anchor="middle" font-family='"Liberation Sans", sans-serif'>10<tspan dy="-4" font-size="6.5">5</tspan></text>
<line x1="320.2" y1="380.1" x2="320.2" y2="382.6" stroke="#f3c9a0" stroke-width="0.8"/>
<text x="320.2" y="378.4" font-size="8.5" fill="#e98f35" text-anchor="middle" font-family='"Liberation Sans", sans-serif' font-style="italic">t<tspan dy="1.5" font-size="7" font-style="normal">0</tspan></text>
<line x1="334" y1="380.1" x2="334" y2="382.6" stroke="#f3c9a0" stroke-width="0.8"/>
<text x="334" y="378.4" font-size="8.5" fill="#e98f35" text-anchor="middle" font-family='"Liberation Sans", sans-serif'>1 <tspan font-style="italic">m</tspan></text>
<line x1="371.2" y1="380.1" x2="371.2" y2="382.6" stroke="#f3c9a0" stroke-width="0.8"/>
<text x="371.2" y="378.4" font-size="8.5" fill="#e98f35" text-anchor="middle" font-family='"Liberation Sans", sans-serif'>1 <tspan font-style="italic">hr</tspan></text>
<line x1="403" y1="380.1" x2="403" y2="382.6" stroke="#f3c9a0" stroke-width="0.8"/>
<text x="403" y="378.4" font-size="8.5" fill="#e98f35" text-anchor="middle" font-family='"Liberation Sans", sans-serif'>1 <tspan font-style="italic">day</tspan></text>
<line x1="436.3" y1="380.1" x2="436.3" y2="382.6" stroke="#f3c9a0" stroke-width="0.8"/>
<text x="436.3" y="378.4" font-size="8.5" fill="#e98f35" text-anchor="middle" font-family='"Liberation Sans", sans-serif'>1 <tspan font-style="italic">mo</tspan></text>
<text x="272.5" y="396.1" font-size="11.5" fill="#e98f35" text-anchor="start" font-family='"Liberation Sans", sans-serif' font-weight="normal" font-style="italic" >Program</text>
<text x="387.5" y="396.1" font-size="11.5" fill="#e98f35" text-anchor="middle" font-family='"Liberation Sans", sans-serif' font-weight="normal" font-style="italic" >Drift</text>
<text x="356.1" y="523.2" font-size="15" fill="#e98f35" text-anchor="middle" font-family='"Liberation Sans", sans-serif' font-style="italic">Time <tspan font-style="normal">[</tspan>s<tspan font-style="normal">]</tspan></text>
<text x="246" y="441.4" font-size="15.5" fill="#e98f35" text-anchor="middle" font-family='"Liberation Sans", sans-serif' transform="rotate(-90 246 441.4)" dy="4.5"><tspan font-style="italic">G</tspan><tspan dx="2.5" dy="-6" font-size="10">+</tspan><tspan dx="6" dy="6">[</tspan><tspan font-style="italic">μS</tspan>]</text>
<path d="M501.5,495 L501.5,495 L502.7,494 L503.9,493 L505.1,492 L506.4,491 L507.6,490 L508.8,489 L510,488 L511.2,487 L512.4,486.1 L513.6,485.4 L514.9,484.7 L516.1,484 L517.3,483.3 L518.5,482.7 L519.7,482 L520.9,481.3 L522.1,480.6 L523.4,479.9 L524.6,479.3 L525.8,478.7 L527,478.4 L528.2,477.7 L529.4,476.3 L530.6,474.3 L531.8,471.7 L533.1,468.4 L534.3,464.4 L535.5,459.6 L536.7,454.1 L537.9,447.9 L539.1,440.8 L540.3,432.9 L541.6,424.3 L542.8,414.8 L544,404.5 L545.2,393.3 L545.2,495 Z" fill="#cdefba"/>
<path d="M545.2,495 L545.2,405.8 L662,441.5 L662,495 Z" fill="#cdefba" fill-opacity="0.4"/>
<g fill="none" stroke-width="0.7" stroke-opacity="0.85">
<path d="M545.2,473.6 552.2,474.8 563.9,476 582.6,477.5 609.4,479.1 636.3,480.5 662,481.6M545.2,462.7 552.2,464.8 563.9,467 582.6,469.6 609.4,472.6 636.3,474.9 662,476.7M545.2,478.1 552.2,479 563.9,480 582.6,481.1 609.4,482.4 636.3,483.5 662,484.3M545.2,492.7 568.6,493 609.4,493.3 662,493.6M545.2,448.2 552.2,451.1 563.9,454.1 582.6,457.7 609.4,461.7 636.3,464.9 662,467.5M545.2,399.4 552.2,405.8 563.9,412.3 582.6,420 609.4,428.6 636.3,435.5 662,441M545.2,408.9 552.2,413.7 563.9,418.5 582.6,424.5 609.4,431.2 636.3,436.7 662,441.1M545.2,484.5 568.6,486 609.4,487.4 662,488.7M545.2,410.6 552.2,415.2 563.9,420 582.6,425.8 609.4,432.4 636.3,437.8 662,442.2M545.2,413.7 552.2,418.9 563.9,424.2 582.6,430.5 609.4,437.6 636.3,443.3 662,447.9M545.2,450.9 552.2,453.5 563.9,456.1 582.6,459.3 609.4,462.9 636.3,465.8 662,468.1M545.2,422.8 552.2,427.6 563.9,432.4 582.6,438.2 609.4,444.7 636.3,449.8 662,453.9M545.2,445.1 552.2,448.1 563.9,451.2 582.6,454.9 609.4,459 636.3,462.3 662,465.1M545.2,444.3 552.2,447.6 563.9,451 582.6,455 609.4,459.4 636.3,463 662,465.9M545.2,423.3 552.2,428 563.9,432.8 582.6,438.6 609.4,445 636.3,450.1 662,454.2M545.2,492.9 568.6,493.2 609.4,493.5 662,493.8M545.2,402.4 552.2,407.8 563.9,413.3 582.6,420 609.4,427.5 636.3,433.6 662,438.6M545.2,480.1 552.2,480.9 563.9,481.7 582.6,482.7 609.4,483.9 636.3,484.8 662,485.6M545.2,470.5 552.2,472 563.9,473.5 582.6,475.4 609.4,477.5 636.3,479.1 662,480.5M545.2,460.4 552.2,462.5 563.9,464.6 582.6,467.1 609.4,470 636.3,472.3 662,474.2M545.2,456.6 552.2,458.8 563.9,461 582.6,463.6 609.4,466.6 636.3,469.1 662,471.1M545.2,484.3 568.6,485.8 609.4,487.2 662,488.5M545.2,466.8 552.2,468.6 563.9,470.5 582.6,472.7 609.4,475.2 636.3,477.2 662,478.8M545.2,460.7 552.2,462.9 563.9,465.1 582.6,467.8 609.4,470.7 636.3,473.1 662,475M545.2,457.6 552.2,459.7 563.9,461.9 582.6,464.6 609.4,467.6 636.3,470 662,472M545.2,491.6 568.6,492.1 609.4,492.5 662,492.9M545.2,479.7 552.2,480.6 563.9,481.6 582.6,482.7 609.4,484 636.3,485.1 662,485.9M545.2,486.7 568.6,488 609.4,489.2 662,490.3M545.2,471.9 552.2,473.4 563.9,475 582.6,476.8 609.4,478.9 636.3,480.6 662,481.9M545.2,488.3 568.6,489.2 609.4,490.1 662,490.8M545.2,484.5 568.6,486.1 609.4,487.6 662,488.9M545.2,490.5 568.6,491.1 609.4,491.7 662,492.2M545.2,458.5 552.2,460.8 563.9,463.2 582.6,466 609.4,469.2 636.3,471.7 662,473.8M545.2,461.8 552.2,463.8 563.9,465.8 582.6,468.2 609.4,471 636.3,473.2 662,475M545.2,488.9 568.6,489.7 609.4,490.4 662,491.1M545.2,469.9 552.2,471.3 563.9,472.7 582.6,474.5 609.4,476.5 636.3,478.1 662,479.4M545.2,469.5 552.2,471 563.9,472.6 582.6,474.4 609.4,476.5 636.3,478.2 662,479.6M545.2,475.3 552.2,476.4 563.9,477.6 582.6,479 609.4,480.5 636.3,481.8 662,482.8M545.2,490.1 568.6,490.9 609.4,491.6 662,492.2M545.2,488.1 568.6,489 609.4,489.9 662,490.7M545.2,491.3 568.6,491.9 609.4,492.4 662,492.9M545.2,486.3 568.6,487.7 609.4,488.9 662,490M545.2,486.5 568.6,487.7 609.4,488.8 662,489.8M545.2,488.4 568.6,489.2 609.4,490 662,490.8M545.2,485 568.6,486.6 609.4,488 662,489.3M545.2,485.1 568.6,486.4 609.4,487.7 662,488.8M545.2,494.6 568.6,494.7 609.4,494.7 662,494.8M545.2,490 568.6,490.7 609.4,491.4 662,492" stroke="#a0d39c"/>
<path d="M545.2,471.1 552.2,472.5 563.9,473.8 582.6,475.5 609.4,477.3 636.3,478.9 662,480.1M545.2,418.2 552.2,423.2 563.9,428.3 582.6,434.3 609.4,441.1 636.3,446.5 662,450.8M545.2,425 552.2,428.8 563.9,432.6 582.6,437.3 609.4,442.6 636.3,446.9 662,450.5M545.2,424.1 552.2,428.1 563.9,432.1 582.6,437.1 609.4,442.7 636.3,447.2 662,451M545.2,424.9 552.2,428.8 563.9,432.7 582.6,437.5 609.4,442.9 636.3,447.4 662,451M545.2,448.5 552.2,451.2 563.9,453.9 582.6,457.2 609.4,460.9 636.3,463.9 662,466.4M545.2,460.6 552.2,462.6 563.9,464.6 582.6,467.1 609.4,469.9 636.3,472.1 662,474M545.2,430.9 552.2,434.3 563.9,437.7 582.6,442 609.4,446.8 636.3,450.8 662,454M545.2,415.9 552.2,420.9 563.9,426 582.6,432.2 609.4,439 636.3,444.5 662,449M545.2,399.2 552.2,405.5 563.9,411.9 582.6,419.6 609.4,428.1 636.3,434.9 662,440.4M545.2,475.3 552.2,476.5 563.9,477.6 582.6,479 609.4,480.5 636.3,481.8 662,482.8M545.2,463.7 552.2,465.6 563.9,467.5 582.6,469.9 609.4,472.5 636.3,474.6 662,476.3M545.2,487.6 568.6,488.6 609.4,489.6 662,490.4M545.2,489 568.6,489.9 609.4,490.8 662,491.5M545.2,487.2 568.6,488.2 609.4,489.1 662,490M545.2,407.4 552.2,412.6 563.9,417.8 582.6,424.2 609.4,431.3 636.3,437.1 662,441.8M545.2,485.1 568.6,486.6 609.4,487.9 662,489.1M545.2,442.4 552.2,445.9 563.9,449.4 582.6,453.7 609.4,458.4 636.3,462.1 662,465.1M545.2,435.6 552.2,438.7 563.9,442 582.6,445.9 609.4,450.4 636.3,454.1 662,457.1M545.2,420.7 552.2,424.8 563.9,429.1 582.6,434.3 609.4,440.1 636.3,444.9 662,448.7M545.2,493.7 568.6,493.9 609.4,494.1 662,494.2M545.2,439.3 552.2,442.3 563.9,445.3 582.6,449 609.4,453.2 636.3,456.6 662,459.4M545.2,467.5 552.2,469.3 563.9,471.2 582.6,473.4 609.4,475.8 636.3,477.7 662,479.3M545.2,405.8 552.2,411.2 563.9,416.7 582.6,423.3 609.4,430.8 636.3,436.8 662,441.7M545.2,490.6 568.6,491.3 609.4,491.9 662,492.4M545.2,462.8 552.2,464.5 563.9,466.3 582.6,468.5 609.4,471 636.3,473.1 662,474.7M545.2,447.5 552.2,450.5 563.9,453.5 582.6,457.2 609.4,461.3 636.3,464.5 662,467.2M545.2,397.1 552.2,403.1 563.9,409.3 582.6,416.7 609.4,424.9 636.3,431.6 662,437M545.2,430.4 552.2,434.4 563.9,438.4 582.6,443.2 609.4,448.6 636.3,453 662,456.5M545.2,413.7 552.2,418.7 563.9,423.8 582.6,430 609.4,436.9 636.3,442.4 662,446.9M545.2,436 552.2,439.2 563.9,442.4 582.6,446.4 609.4,450.9 636.3,454.5 662,457.5M545.2,469.5 552.2,471.2 563.9,473 582.6,475 609.4,477.3 636.3,479.1 662,480.6M545.2,463.8 552.2,465.6 563.9,467.5 582.6,469.7 609.4,472.3 636.3,474.3 662,476M545.2,483.8 568.6,485.3 609.4,486.8 662,488.2M545.2,466.2 552.2,467.7 563.9,469.3 582.6,471.2 609.4,473.4 636.3,475.2 662,476.6M545.2,456.4 552.2,458.5 563.9,460.7 582.6,463.4 609.4,466.4 636.3,468.9 662,470.9M545.2,456.5 552.2,458.7 563.9,460.8 582.6,463.5 609.4,466.5 636.3,468.9 662,470.9M545.2,467.6 552.2,469.1 563.9,470.6 582.6,472.5 609.4,474.7 636.3,476.4 662,477.9M545.2,484 568.6,485.6 609.4,487.1 662,488.5M545.2,465.1 552.2,466.9 563.9,468.9 582.6,471.2 609.4,473.7 636.3,475.8 662,477.5M545.2,484.5 568.6,485.9 609.4,487.3 662,488.6M545.2,472.4 552.2,473.6 563.9,474.8 582.6,476.3 609.4,478 636.3,479.4 662,480.6M545.2,492.4 568.6,492.8 609.4,493.2 662,493.5M545.2,493.4 568.6,493.6 609.4,493.9 662,494.1M545.2,484.5 568.6,486.1 609.4,487.6 662,488.9M545.2,467.6 552.2,469.1 563.9,470.7 582.6,472.6 609.4,474.8 636.3,476.6 662,478M545.2,487 568.6,488.1 609.4,489.2 662,490.2M545.2,484.9 568.6,486.3 609.4,487.6 662,488.8M545.2,485.7 568.6,487 609.4,488.3 662,489.4M545.2,490.7 568.6,491.4 609.4,492 662,492.5M545.2,488 568.6,488.8 609.4,489.7 662,490.5M545.2,490.5 568.6,491.1 609.4,491.7 662,492.3M545.2,484.5 568.6,486 609.4,487.4 662,488.7M545.2,494.7 568.6,494.7 609.4,494.8 662,494.8M545.2,484.3 568.6,485.9 609.4,487.5 662,488.8M545.2,492.4 568.6,492.8 609.4,493.1 662,493.4M545.2,487.8 568.6,488.7 609.4,489.6 662,490.4M545.2,488.4 568.6,489.5 609.4,490.4 662,491.3M545.2,492.3 568.6,492.7 609.4,493.1 662,493.4M545.2,492.9 568.6,493.2 609.4,493.5 662,493.7M545.2,483.2 568.6,484.9 609.4,486.5 662,488M545.2,494.5 568.6,494.6 609.4,494.6 662,494.7" stroke="#6ab669"/>
<path d="M545.2,459.1 552.2,461.6 563.9,464 582.6,466.9 609.4,470.2 636.3,472.7 662,474.8M545.2,471.9 552.2,473.4 563.9,475 582.6,476.9 609.4,478.9 636.3,480.6 662,481.9M545.2,449.1 552.2,451.6 563.9,454.2 582.6,457.3 609.4,460.9 636.3,463.8 662,466.2M545.2,401 552.2,407.3 563.9,413.7 582.6,421.4 609.4,430 636.3,436.8 662,442.2M545.2,401.8 552.2,407.9 563.9,414 582.6,421.5 609.4,429.7 636.3,436.3 662,441.6M545.2,414.7 552.2,420.1 563.9,425.5 582.6,432.1 609.4,439.3 636.3,445.1 662,449.7M545.2,451.1 552.2,453.8 563.9,456.5 582.6,459.7 609.4,463.4 636.3,466.3 662,468.7M545.2,450.7 552.2,453.6 563.9,456.6 582.6,460.1 609.4,464.1 636.3,467.2 662,469.7M545.2,421.7 552.2,425.6 563.9,429.7 582.6,434.7 609.4,440.3 636.3,445 662,448.7M545.2,418 552.2,422.4 563.9,426.9 582.6,432.4 609.4,438.6 636.3,443.6 662,447.7M545.2,454.5 552.2,457.1 563.9,459.7 582.6,462.8 609.4,466.3 636.3,469.1 662,471.3M545.2,480.9 552.2,481.7 563.9,482.6 582.6,483.7 609.4,484.9 636.3,485.9 662,486.7M545.2,481.3 552.2,482.2 563.9,483 582.6,484.1 609.4,485.2 636.3,486.2 662,486.9M545.2,449.5 552.2,452.4 563.9,455.4 582.6,459 609.4,463 636.3,466.2 662,468.8M545.2,442.6 552.2,446.1 563.9,449.7 582.6,453.9 609.4,458.7 636.3,462.4 662,465.4M545.2,460.6 552.2,462.5 563.9,464.5 582.6,466.9 609.4,469.6 636.3,471.8 662,473.6M545.2,475 552.2,476.2 563.9,477.5 582.6,479.1 609.4,480.8 636.3,482.2 662,483.3M545.2,469.9 552.2,471.2 563.9,472.6 582.6,474.2 609.4,476.1 636.3,477.7 662,479M545.2,459.3 552.2,461.4 563.9,463.6 582.6,466.2 609.4,469.2 636.3,471.6 662,473.5M545.2,464.4 552.2,466.1 563.9,467.9 582.6,470 609.4,472.4 636.3,474.4 662,476M545.2,470.5 552.2,472.1 563.9,473.7 582.6,475.7 609.4,477.9 636.3,479.6 662,481M545.2,474.7 552.2,476 563.9,477.3 582.6,478.9 609.4,480.6 636.3,482 662,483.1M545.2,464.2 552.2,466.1 563.9,468 582.6,470.2 609.4,472.8 636.3,474.9 662,476.5M545.2,494.9 568.6,494.9 609.4,495 662,495M545.2,456.7 552.2,458.9 563.9,461.2 582.6,464 609.4,467.1 636.3,469.6 662,471.7M545.2,465.1 552.2,466.7 563.9,468.3 582.6,470.3 609.4,472.5 636.3,474.4 662,475.9M545.2,458.9 552.2,461.1 563.9,463.3 582.6,465.9 609.4,468.9 636.3,471.4 662,473.3M545.2,456.4 552.2,458.8 563.9,461.3 582.6,464.2 609.4,467.5 636.3,470.2 662,472.3M545.2,476.9 552.2,478 563.9,479.1 582.6,480.5 609.4,482.1 636.3,483.3 662,484.3M545.2,465.2 552.2,467.1 563.9,469 582.6,471.3 609.4,473.9 636.3,475.9 662,477.6M545.2,469.9 552.2,471.4 563.9,473 582.6,474.9 609.4,477 636.3,478.7 662,480.1M545.2,474.1 552.2,475.4 563.9,476.7 582.6,478.2 609.4,479.9 636.3,481.3 662,482.5M545.2,485.8 568.6,487.2 609.4,488.5 662,489.6M545.2,491.9 568.6,492.4 609.4,492.9 662,493.3M545.2,487.8 568.6,488.8 609.4,489.8 662,490.6M545.2,483 568.6,484.6 609.4,486.3 662,487.7M545.2,494.9 568.6,494.9 609.4,494.9 662,494.9M545.2,490.2 568.6,490.9 609.4,491.6 662,492.2M545.2,494.7 568.6,494.8 609.4,494.8 662,494.8M545.2,486.4 568.6,487.7 609.4,488.9 662,490M545.2,492.1 568.6,492.5 609.4,492.9 662,493.3M545.2,490.9 568.6,491.5 609.4,492.2 662,492.7M545.2,484.1 568.6,485.7 609.4,487.2 662,488.5M545.2,491.2 568.6,491.8 609.4,492.3 662,492.8" stroke="#bbe2b5"/>
<path d="M545.2,474.6 552.2,475.8 563.9,477.1 582.6,478.6 609.4,480.3 636.3,481.6 662,482.7M545.2,418 552.2,422.2 563.9,426.5 582.6,431.8 609.4,437.7 636.3,442.6 662,446.5M545.2,490.5 568.6,491.2 609.4,491.9 662,492.5M545.2,449 552.2,451.9 563.9,454.8 582.6,458.3 609.4,462.3 636.3,465.5 662,468.1M545.2,463.2 552.2,464.9 563.9,466.6 582.6,468.8 609.4,471.2 636.3,473.2 662,474.8M545.2,449.2 552.2,452.3 563.9,455.3 582.6,459 609.4,463.1 636.3,466.3 662,469M545.2,443.5 552.2,446.6 563.9,449.8 582.6,453.6 609.4,457.8 636.3,461.3 662,464.1M545.2,421.3 552.2,426.3 563.9,431.3 582.6,437.3 609.4,444 636.3,449.3 662,453.5M545.2,451.7 552.2,454 563.9,456.3 582.6,459.2 609.4,462.5 636.3,465.1 662,467.3M545.2,400.9 552.2,406.8 563.9,412.8 582.6,420.1 609.4,428.2 636.3,434.7 662,439.9M545.2,427.6 552.2,432 563.9,436.4 582.6,441.7 609.4,447.6 636.3,452.4 662,456.2M545.2,395.9 552.2,402.4 563.9,408.9 582.6,416.8 609.4,425.6 636.3,432.6 662,438.2M545.2,433.2 552.2,436.6 563.9,440.1 582.6,444.4 609.4,449.2 636.3,453.1 662,456.3M545.2,474.2 552.2,475.3 563.9,476.5 582.6,478 609.4,479.6 636.3,481 662,482.1M545.2,481.6 552.2,482.3 563.9,483.1 582.6,484 609.4,485.1 636.3,485.9 662,486.6M545.2,422 552.2,426.8 563.9,431.6 582.6,437.4 609.4,443.9 636.3,449 662,453.2M545.2,455.3 552.2,457.4 563.9,459.6 582.6,462.2 609.4,465.2 636.3,467.7 662,469.7M545.2,437 552.2,440.6 563.9,444.4 582.6,448.8 609.4,453.8 636.3,457.9 662,461.1M545.2,450.5 552.2,453 563.9,455.6 582.6,458.7 609.4,462.3 636.3,465.2 662,467.5M545.2,469.5 552.2,471.1 563.9,472.7 582.6,474.6 609.4,476.8 636.3,478.6 662,480M545.2,410.5 552.2,415.6 563.9,420.8 582.6,427.1 609.4,434.2 636.3,439.9 662,444.5M545.2,413.9 552.2,419 563.9,424.1 582.6,430.3 609.4,437.2 636.3,442.8 662,447.3M545.2,442.5 552.2,445.7 563.9,448.9 582.6,452.9 609.4,457.2 636.3,460.8 662,463.7M545.2,461.6 552.2,463.9 563.9,466.1 582.6,468.8 609.4,471.8 636.3,474.2 662,476.1M545.2,477.1 552.2,478.2 563.9,479.3 582.6,480.6 609.4,482.1 636.3,483.3 662,484.3M545.2,482.2 552.2,483.1 563.9,483.9 582.6,484.9 609.4,486 636.3,486.9 662,487.7M545.2,476.7 552.2,477.7 563.9,478.8 582.6,480.2 609.4,481.6 636.3,482.8 662,483.8M545.2,476.1 552.2,477.2 563.9,478.3 582.6,479.6 609.4,481.1 636.3,482.4 662,483.4M545.2,464.1 552.2,466 563.9,467.9 582.6,470.3 609.4,472.9 636.3,475 662,476.7M545.2,466.6 552.2,468.5 563.9,470.4 582.6,472.6 609.4,475.2 636.3,477.2 662,478.8M545.2,457.7 552.2,459.8 563.9,461.9 582.6,464.5 609.4,467.4 636.3,469.8 662,471.7M545.2,469.2 552.2,470.8 563.9,472.5 582.6,474.5 609.4,476.7 636.3,478.5 662,479.9M545.2,486.5 568.6,487.7 609.4,488.8 662,489.8M545.2,483.3 568.6,484.8 609.4,486.3 662,487.7M545.2,489.6 568.6,490.5 609.4,491.2 662,491.9M545.2,490.7 568.6,491.3 609.4,491.9 662,492.4M545.2,490.8 568.6,491.3 609.4,491.8 662,492.3M545.2,493.1 568.6,493.3 609.4,493.6 662,493.8M545.2,487.6 568.6,488.8 609.4,489.8 662,490.8" stroke="#4fa84f"/>
<path d="M545.2,435.8 552.2,439.2 563.9,442.7 582.6,447 609.4,451.7 636.3,455.6 662,458.7M545.2,465.9 552.2,467.7 563.9,469.6 582.6,471.8 609.4,474.3 636.3,476.3 662,477.9M545.2,442.7 552.2,445.8 563.9,448.9 582.6,452.8 609.4,457 636.3,460.5 662,463.3M545.2,447 552.2,450 563.9,453.1 582.6,456.8 609.4,460.9 636.3,464.2 662,466.9M545.2,468.9 552.2,470.5 563.9,472.1 582.6,474.1 609.4,476.3 636.3,478.1 662,479.5M545.2,403.4 552.2,408.2 563.9,413.2 582.6,419.3 609.4,426.2 636.3,431.9 662,436.6M545.2,419 552.2,423.1 563.9,427.3 582.6,432.4 609.4,438.2 636.3,442.9 662,446.8M545.2,462.7 552.2,464.8 563.9,466.9 582.6,469.3 609.4,472.1 636.3,474.4 662,476.2M545.2,425.8 552.2,429.9 563.9,434 582.6,439 609.4,444.7 636.3,449.2 662,453M545.2,414.7 552.2,419.5 563.9,424.3 582.6,430.2 609.4,436.7 636.3,442.1 662,446.4M545.2,495 568.6,495 609.4,495 662,495M545.2,485.2 568.6,486.5 609.4,487.9 662,489.1M545.2,431.7 552.2,435.8 563.9,440 582.6,445 609.4,450.6 636.3,455 662,458.6M545.2,433.5 552.2,436.8 563.9,440.1 582.6,444.2 609.4,448.9 636.3,452.7 662,455.8M545.2,412.7 552.2,417.4 563.9,422.2 582.6,428.1 609.4,434.7 636.3,440.1 662,444.4M545.2,406.1 552.2,410.9 563.9,415.8 582.6,421.8 609.4,428.6 636.3,434.2 662,438.8M545.2,475.9 552.2,476.9 563.9,478 582.6,479.3 609.4,480.7 636.3,481.9 662,482.9M545.2,428.2 552.2,432.2 563.9,436.3 582.6,441.2 609.4,446.8 636.3,451.2 662,454.9M545.2,466.8 552.2,468.7 563.9,470.6 582.6,472.9 609.4,475.5 636.3,477.5 662,479.1M545.2,456.6 552.2,458.6 563.9,460.7 582.6,463.3 609.4,466.2 636.3,468.5 662,470.5M545.2,491 568.6,491.5 609.4,492.1 662,492.6M545.2,471.5 552.2,473 563.9,474.4 582.6,476.1 609.4,478.1 636.3,479.7 662,481M545.2,494.5 568.6,494.6 609.4,494.7 662,494.7M545.2,472 552.2,473.6 563.9,475.1 582.6,477 609.4,479 636.3,480.7 662,482M545.2,471.4 552.2,472.9 563.9,474.3 582.6,476.1 609.4,478.1 636.3,479.7 662,481M545.2,487.7 568.6,488.9 609.4,490 662,490.9M545.2,489 568.6,489.9 609.4,490.7 662,491.5M545.2,466.5 552.2,468.4 563.9,470.4 582.6,472.7 609.4,475.3 636.3,477.3 662,479M545.2,455 552.2,457.6 563.9,460.3 582.6,463.5 609.4,467 636.3,469.9 662,472.1M545.2,475.9 552.2,477.1 563.9,478.3 582.6,479.7 609.4,481.3 636.3,482.6 662,483.7M545.2,472.5 552.2,473.8 563.9,475.2 582.6,476.9 609.4,478.8 636.3,480.3 662,481.5M545.2,491.2 568.6,491.7 609.4,492.2 662,492.6M545.2,491.7 568.6,492.2 609.4,492.7 662,493.1M545.2,485.1 568.6,486.7 609.4,488.2 662,489.4M545.2,495 568.6,495 609.4,495 662,495M545.2,491.1 568.6,491.7 609.4,492.3 662,492.8M545.2,472.1 552.2,473.4 563.9,474.7 582.6,476.4 609.4,478.2 636.3,479.7 662,481M545.2,454.3 552.2,456.9 563.9,459.5 582.6,462.6 609.4,466 636.3,468.8 662,471.1M545.2,465.7 552.2,467.3 563.9,469 582.6,471 609.4,473.3 636.3,475.2 662,476.7M545.2,482.6 552.2,483.3 563.9,484 582.6,484.8 609.4,485.8 636.3,486.6 662,487.2M545.2,480.2 552.2,481.2 563.9,482.2 582.6,483.4 609.4,484.8 636.3,485.8 662,486.7M545.2,492.9 568.6,493.1 609.4,493.4 662,493.7M545.2,486.7 568.6,487.9 609.4,489 662,490M545.2,485.6 568.6,486.9 609.4,488.1 662,489.2M545.2,492.5 568.6,492.8 609.4,493.2 662,493.5M545.2,492.3 568.6,492.6 609.4,493 662,493.3M545.2,491.3 568.6,491.7 609.4,492.2 662,492.6M545.2,491 568.6,491.6 609.4,492.2 662,492.7M545.2,483.4 568.6,484.9 609.4,486.3 662,487.6M545.2,483.7 568.6,485.1 609.4,486.5 662,487.8M545.2,492.9 568.6,493.2 609.4,493.5 662,493.8M545.2,487.5 568.6,488.5 609.4,489.5 662,490.3M545.2,490.4 568.6,491 609.4,491.6 662,492.2" stroke="#85c582"/>
<path d="M545.2,461.4 552.2,463.5 563.9,465.6 582.6,468.2 609.4,471.1 636.3,473.4 662,475.3M545.2,439.4 552.2,442.7 563.9,446 582.6,450.1 609.4,454.7 636.3,458.4 662,461.4M545.2,402.9 552.2,408.3 563.9,413.9 582.6,420.7 609.4,428.3 636.3,434.4 662,439.4M545.2,410.2 552.2,414.8 563.9,419.5 582.6,425.2 609.4,431.7 636.3,437.1 662,441.4M545.2,406.3 552.2,411.7 563.9,417.2 582.6,423.8 609.4,431.2 636.3,437.2 662,442M545.2,476.3 552.2,477.4 563.9,478.6 582.6,480 609.4,481.6 636.3,482.8 662,483.9M545.2,470.3 552.2,471.7 563.9,473.2 582.6,474.9 609.4,476.9 636.3,478.5 662,479.8M545.2,482.3 552.2,483.1 563.9,483.8 582.6,484.8 609.4,485.8 636.3,486.6 662,487.3M545.2,488.4 568.6,489.4 609.4,490.3 662,491.1M545.2,489.8 568.6,490.6 609.4,491.4 662,492M545.2,484.1 568.6,485.6 609.4,487 662,488.3M545.2,494.3 568.6,494.4 609.4,494.5 662,494.6M545.2,485.1 568.6,486.5 609.4,487.7 662,488.9M545.2,483.6 568.6,485.1 609.4,486.5 662,487.8" stroke="#d6f0cf"/>
</g>
<line x1="545.2" y1="387.6" x2="545.2" y2="495" stroke="#d6f0cf" stroke-width="0.8"/>
<rect x="494" y="382.6" width="175.2" height="117.6" fill="none" stroke="#b9dcb9" stroke-width="1"/>
<line x1="491" y1="495" x2="494" y2="495" stroke="#b9dcb9" stroke-width="0.8"/>
<text transform="translate(490 498.4) scale(1.1 1)" font-size="9.5" fill="#3b9b3b" text-anchor="end" font-family='"Liberation Sans", sans-serif' font-weight="normal" font-style="normal" >0</text>
<line x1="491" y1="474.7" x2="494" y2="474.7" stroke="#b9dcb9" stroke-width="0.8"/>
<text transform="translate(490 478.1) scale(1.1 1)" font-size="9.5" fill="#3b9b3b" text-anchor="end" font-family='"Liberation Sans", sans-serif' font-weight="normal" font-style="normal" >5</text>
<line x1="491" y1="454.3" x2="494" y2="454.3" stroke="#b9dcb9" stroke-width="0.8"/>
<text transform="translate(490 457.7) scale(1.1 1)" font-size="9.5" fill="#3b9b3b" text-anchor="end" font-family='"Liberation Sans", sans-serif' font-weight="normal" font-style="normal" >10</text>
<line x1="491" y1="434" x2="494" y2="434" stroke="#b9dcb9" stroke-width="0.8"/>
<text transform="translate(490 437.4) scale(1.1 1)" font-size="9.5" fill="#3b9b3b" text-anchor="end" font-family='"Liberation Sans", sans-serif' font-weight="normal" font-style="normal" >15</text>
<line x1="491" y1="413.6" x2="494" y2="413.6" stroke="#b9dcb9" stroke-width="0.8"/>
<text transform="translate(490 417) scale(1.1 1)" font-size="9.5" fill="#3b9b3b" text-anchor="end" font-family='"Liberation Sans", sans-serif' font-weight="normal" font-style="normal" >20</text>
<line x1="491" y1="393.3" x2="494" y2="393.3" stroke="#b9dcb9" stroke-width="0.8"/>
<text transform="translate(490 396.7) scale(1.1 1)" font-size="9.5" fill="#3b9b3b" text-anchor="end" font-family='"Liberation Sans", sans-serif' font-weight="normal" font-style="normal" >25</text>
<line x1="537.3" y1="500.2" x2="537.3" y2="503.2" stroke="#b9dcb9" stroke-width="0.8"/>
<text transform="translate(537.3 510.5) scale(1.1 1)" font-size="9.5" fill="#3b9b3b" text-anchor="middle" font-family='"Liberation Sans", sans-serif'>10<tspan dy="-4" font-size="6.5">1</tspan></text>
<line x1="582.9" y1="500.2" x2="582.9" y2="503.2" stroke="#b9dcb9" stroke-width="0.8"/>
<text transform="translate(582.9 510.5) scale(1.1 1)" font-size="9.5" fill="#3b9b3b" text-anchor="middle" font-family='"Liberation Sans", sans-serif'>10<tspan dy="-4" font-size="6.5">3</tspan></text>
<line x1="628.4" y1="500.2" x2="628.4" y2="503.2" stroke="#b9dcb9" stroke-width="0.8"/>
<text transform="translate(628.4 510.5) scale(1.1 1)" font-size="9.5" fill="#3b9b3b" text-anchor="middle" font-family='"Liberation Sans", sans-serif'>10<tspan dy="-4" font-size="6.5">5</tspan></text>
<line x1="545.2" y1="380.1" x2="545.2" y2="382.6" stroke="#b9dcb9" stroke-width="0.8"/>
<text x="545.2" y="378.4" font-size="8.5" fill="#3b9b3b" text-anchor="middle" font-family='"Liberation Sans", sans-serif' font-style="italic">t<tspan dy="1.5" font-size="7" font-style="normal">0</tspan></text>
<line x1="559" y1="380.1" x2="559" y2="382.6" stroke="#b9dcb9" stroke-width="0.8"/>
<text x="559" y="378.4" font-size="8.5" fill="#3b9b3b" text-anchor="middle" font-family='"Liberation Sans", sans-serif'>1 <tspan font-style="italic">m</tspan></text>
<line x1="596.2" y1="380.1" x2="596.2" y2="382.6" stroke="#b9dcb9" stroke-width="0.8"/>
<text x="596.2" y="378.4" font-size="8.5" fill="#3b9b3b" text-anchor="middle" font-family='"Liberation Sans", sans-serif'>1 <tspan font-style="italic">hr</tspan></text>
<line x1="628" y1="380.1" x2="628" y2="382.6" stroke="#b9dcb9" stroke-width="0.8"/>
<text x="628" y="378.4" font-size="8.5" fill="#3b9b3b" text-anchor="middle" font-family='"Liberation Sans", sans-serif'>1 <tspan font-style="italic">day</tspan></text>
<line x1="661.3" y1="380.1" x2="661.3" y2="382.6" stroke="#b9dcb9" stroke-width="0.8"/>
<text x="661.3" y="378.4" font-size="8.5" fill="#3b9b3b" text-anchor="middle" font-family='"Liberation Sans", sans-serif'>1 <tspan font-style="italic">mo</tspan></text>
<text x="497.5" y="396.1" font-size="11.5" fill="#3b9b3b" text-anchor="start" font-family='"Liberation Sans", sans-serif' font-weight="normal" font-style="italic" >Program</text>
<text x="612.5" y="396.1" font-size="11.5" fill="#3b9b3b" text-anchor="middle" font-family='"Liberation Sans", sans-serif' font-weight="normal" font-style="italic" >Drift</text>
<text x="581.1" y="523.2" font-size="15" fill="#3b9b3b" text-anchor="middle" font-family='"Liberation Sans", sans-serif' font-style="italic">Time <tspan font-style="normal">[</tspan>s<tspan font-style="normal">]</tspan></text>
<text x="471" y="441.4" font-size="15.5" fill="#3b9b3b" text-anchor="middle" font-family='"Liberation Sans", sans-serif' transform="rotate(-90 471 441.4)" dy="4.5"><tspan font-style="italic">G</tspan><tspan dx="2.5" dy="-6" font-size="10">−</tspan><tspan dx="6" dy="6">[</tspan><tspan font-style="italic">μS</tspan>]</text>
<path d="M276.5,659.7 L276.5,659.7 L277,658.7 L277.6,657.6 L278.1,656.6 L278.7,655.5 L279.2,654.5 L279.8,653.4 L280.3,652.4 L280.9,651.3 L281.4,650.3 L282,649.2 L282.5,648.2 L283.1,647.1 L283.6,646.1 L284.1,645 L284.7,644 L285.2,642.9 L285.8,641.9 L286.3,640.8 L286.9,639.8 L287.4,638.7 L288,638.6 L288.5,638.5 L289.1,638.3 L289.6,638.2 L290.2,638.1 L290.7,638 L291.2,637.8 L291.8,637.7 L292.3,637.6 L292.9,637.5 L293.4,637.3 L294,637.2 L294.5,637.1 L295.1,637 L295.6,636.8 L296.2,636.7 L296.7,636.6 L297.3,636.5 L297.8,636.3 L298.4,636.2 L298.9,636.1 L299.4,636 L300,635.8 L300.5,635.7 L301.1,635.6 L301.6,635.5 L302.2,635.2 L302.7,634.7 L303.3,634 L303.8,633.2 L304.4,632.7 L304.9,632.9 L305.5,633.6 L306,631.1 L306.5,628.3 L307.1,625.9 L307.6,624.7 L308.2,625.5 L308.7,628.7 L309.3,628.1 L309.8,621.1 L310.4,614.8 L310.9,611 L311.5,611.4 L312,616.7 L312.6,626.4 L313.1,616.3 L313.6,603 L314.2,593.2 L314.7,590.1 L315.3,595.5 L315.8,609.5 L316.4,618.6 L316.9,595.2 L317.5,575.1 L318,563.8 L318.6,565.2 L319.1,580.6 L319.7,608 L320.2,597.2 L320.2,659.7 Z" fill="#f9c6c6"/>
<path d="M320.2,659.7 L320.2,623.7 L437,638.1 L437,659.7 Z" fill="#f9c6c6" fill-opacity="0.4"/>
<g fill="none" stroke-width="0.7" stroke-opacity="0.85">
<path d="M320.2,556.8 327.2,562.7 338.9,568.8 357.6,576.2 384.4,584.5 411.3,591.2 437,596.7M320.2,596.8 327.2,600.4 338.9,604 357.6,608.5 384.4,613.6 411.3,617.7 437,621M320.2,625.3 343.6,631 384.4,636.3 437,640.9M320.2,621 343.6,627.8 384.4,634.1 437,639.4M320.2,624.9 343.6,631 384.4,636.5 437,641.3M320.2,620.8 343.6,628.3 384.4,635.1 437,640.8" stroke="#cf5f5c"/>
<path d="M320.2,576.8 327.2,581.8 338.9,586.9 357.6,593.1 384.4,600 411.3,605.6 437,610.1M320.2,593.8 327.2,598.2 338.9,602.7 357.6,608.1 384.4,614 411.3,618.8 437,622.6M320.2,604.8 327.2,608.2 338.9,611.8 357.6,616.1 384.4,620.8 411.3,624.6 437,627.7M320.2,647.9 343.6,649.9 384.4,651.7 437,653.3M320.2,649.1 343.6,651 384.4,652.8 437,654.3M320.2,645.1 343.6,647.5 384.4,649.7 437,651.7M320.2,653.6 343.6,654.7 384.4,655.7 437,656.6M320.2,646.4 343.6,649 384.4,651.3 437,653.3M320.2,651.7 343.6,653.3 384.4,654.7 437,655.8M320.2,649.4 343.6,651.1 384.4,652.6 437,654M320.2,651.7 343.6,653.1 384.4,654.4 437,655.5M320.2,645.8 343.6,648.1 384.4,650.2 437,652M320.2,645.1 343.6,647.7 384.4,650.1 437,652.1M320.2,648.8 343.6,650.7 384.4,652.4 437,653.9M320.2,648.8 343.6,650.9 384.4,652.8 437,654.3M320.2,653.5 343.6,654.7 384.4,655.7 437,656.6M320.2,649.4 343.6,651.2 384.4,652.8 437,654.2M320.2,644.4 343.6,647.1 384.4,649.7 437,651.8M320.2,651.7 343.6,653 384.4,654.3 437,655.3M320.2,645.1 343.6,647.9 384.4,650.4 437,652.5M320.2,650.3 343.6,652 384.4,653.7 437,655M320.2,652.3 343.6,653.6 384.4,654.8 437,655.9M320.2,649.3 343.6,651.2 384.4,652.9 437,654.3M320.2,645.8 343.6,648.5 384.4,651 437,653M320.2,649.1 343.6,651 384.4,652.6 437,654.1M320.2,652.2 343.6,653.5 384.4,654.7 437,655.7M320.2,651.5 343.6,652.9 384.4,654.2 437,655.3M320.2,647.7 343.6,649.6 384.4,651.4 437,653M320.2,646.1 343.6,648.7 384.4,651 437,652.9M320.2,653.6 343.6,654.6 384.4,655.5 437,656.4M320.2,650.5 343.6,652.3 384.4,653.9 437,655.2M320.2,651.7 343.6,653.2 384.4,654.5 437,655.6M320.2,645.2 343.6,647.8 384.4,650.2 437,652.2M320.2,645.5 343.6,648 384.4,650.3 437,652.3M320.2,646.9 343.6,649 384.4,650.9 437,652.6M320.2,653.4 343.6,654.6 384.4,655.7 437,656.6M320.2,650.7 343.6,652.2 384.4,653.7 437,654.9M320.2,653.9 343.6,655 384.4,656 437,656.8M320.2,648 343.6,649.9 384.4,651.8 437,653.3M320.2,649 343.6,651.1 384.4,653 437,654.5M320.2,650 343.6,651.6 384.4,653.1 437,654.4M320.2,649.3 343.6,651 384.4,652.6 437,653.9M320.2,648.1 343.6,650 384.4,651.7 437,653.3M320.2,651.2 343.6,652.6 384.4,653.9 437,655M320.2,651.4 343.6,653 384.4,654.5 437,655.7M320.2,647.7 343.6,649.9 384.4,652 437,653.7M320.2,646.9 343.6,649.2 384.4,651.3 437,653.1" stroke="#e49593"/>
<path d="M320.2,583.8 327.2,588.2 338.9,592.7 357.6,598.2 384.4,604.4 411.3,609.4 437,613.4M320.2,613.7 327.2,616.5 338.9,619.4 357.6,622.8 384.4,626.7 411.3,629.8 437,632.3M320.2,629.7 343.6,635 384.4,639.8 437,643.9M320.2,628.3 343.6,633.9 384.4,639.1 437,643.5M320.2,624.8 343.6,631 384.4,636.7 437,641.5M320.2,630.8 343.6,636.1 384.4,641 437,645.1M320.2,622.1 343.6,628.2 384.4,634 437,639M320.2,623.7 343.6,629.8 384.4,635.4 437,640.2M320.2,621 343.6,628.5 384.4,635.3 437,640.9M320.2,622.7 343.6,629.9 384.4,636.4 437,641.8M320.2,627.5 343.6,633.5 384.4,639 437,643.5M320.2,633.5 343.6,638.6 384.4,643.2 437,647M320.2,624.5 343.6,631.3 384.4,637.4 437,642.4M320.2,623.4 343.6,629.5 384.4,635.3 437,640.2M320.2,626.1 343.6,632.4 384.4,638.1 437,642.9M320.2,623.5 343.6,629.3 384.4,634.8 437,639.5M320.2,633.3 343.6,638.2 384.4,642.6 437,646.4M320.2,627 343.6,633.4 384.4,639.2 437,643.9M320.2,625.5 343.6,631.1 384.4,636.3 437,640.8M320.2,623.5 343.6,630.4 384.4,636.6 437,641.8M320.2,627.9 343.6,634 384.4,639.5 437,644.1M320.2,621.6 343.6,628.3 384.4,634.4 437,639.7M320.2,628.2 343.6,633.2 384.4,638 437,642.1M320.2,628.6 343.6,634.5 384.4,639.9 437,644.3M320.2,622.5 343.6,629 384.4,635.1 437,640.2" stroke="#d6716e"/>
<path d="M320.2,624.9 343.6,631.5 384.4,637.5 437,642.5M320.2,633 343.6,637.5 384.4,641.7 437,645.4M320.2,642.2 343.6,645.6 384.4,648.7 437,651.3M320.2,628.4 343.6,633.8 384.4,638.8 437,643.1M320.2,632.6 343.6,637.9 384.4,642.6 437,646.6M320.2,638.2 343.6,642 384.4,645.6 437,648.6M320.2,637.9 343.6,641.9 384.4,645.5 437,648.6M320.2,636.6 343.6,641 384.4,644.9 437,648.2M320.2,632.4 343.6,637.6 384.4,642.4 437,646.3M320.2,636.4 343.6,641 384.4,645.1 437,648.5M320.2,630.9 343.6,635.9 384.4,640.4 437,644.4M320.2,632.9 343.6,637.5 384.4,641.8 437,645.4M320.2,638.8 343.6,642.7 384.4,646.2 437,649.2M320.2,641.1 343.6,644.5 384.4,647.5 437,650.1M320.2,635.3 343.6,639.3 384.4,643.2 437,646.4M320.2,636.8 343.6,640.5 384.4,644 437,647M320.2,639.5 343.6,642.9 384.4,646.2 437,648.9M320.2,632 343.6,636.7 384.4,641.2 437,645M320.2,637.4 343.6,641.1 384.4,644.5 437,647.5M320.2,636.8 343.6,641.1 384.4,645 437,648.2M320.2,630.8 343.6,636.2 384.4,641.2 437,645.3M320.2,637.3 343.6,640.9 384.4,644.4 437,647.4M320.2,627.3 343.6,632.7 384.4,637.7 437,642M320.2,634.6 343.6,639.4 384.4,643.8 437,647.4M320.2,640 343.6,643.7 384.4,647.1 437,649.9M320.2,640.7 343.6,644.2 384.4,647.3 437,650M320.2,637.7 343.6,641.3 384.4,644.7 437,647.6" stroke="#dd8381"/>
<path d="M320.2,659.5 343.6,659.5 384.4,659.6 437,659.6M320.2,656.6 343.6,657.1 384.4,657.6 437,658M320.2,654.5 343.6,655.5 384.4,656.3 437,657.1M320.2,657.3 343.6,657.8 384.4,658.2 437,658.6M320.2,655.5 343.6,656.3 384.4,656.9 437,657.5M320.2,658.3 343.6,658.6 384.4,658.8 437,658.9M320.2,658.9 343.6,659.1 384.4,659.2 437,659.3M320.2,654.2 343.6,655.2 384.4,656.2 437,657M320.2,656.5 343.6,657 384.4,657.5 437,657.9M320.2,655.3 343.6,656 384.4,656.7 437,657.3M320.2,659.5 343.6,659.6 384.4,659.6 437,659.6M320.2,654.1 343.6,655.2 384.4,656.2 437,657M320.2,659.6 343.6,659.6 384.4,659.6 437,659.6M320.2,659.3 343.6,659.4 384.4,659.5 437,659.5M320.2,657.8 343.6,658.1 384.4,658.4 437,658.6M320.2,656.1 343.6,656.8 384.4,657.5 437,658M320.2,655.5 343.6,656.2 384.4,656.9 437,657.4M320.2,659.6 343.6,659.6 384.4,659.6 437,659.6M320.2,657.7 343.6,658 384.4,658.4 437,658.7M320.2,652.3 343.6,653.5 384.4,654.7 437,655.7M320.2,657.4 343.6,657.8 384.4,658.2 437,658.6M320.2,654.3 343.6,655.3 384.4,656.2 437,657M320.2,655.6 343.6,656.4 384.4,657.1 437,657.6M320.2,655.6 343.6,656.3 384.4,656.9 437,657.5M320.2,659.1 343.6,659.2 384.4,659.3 437,659.4M320.2,659 343.6,659.1 384.4,659.2 437,659.3M320.2,659 343.6,659.1 384.4,659.2 437,659.3M320.2,659.1 343.6,659.2 384.4,659.3 437,659.4M320.2,656.7 343.6,657.3 384.4,657.8 437,658.2M320.2,655.5 343.6,656.2 384.4,656.8 437,657.4M320.2,656.3 343.6,656.8 384.4,657.4 437,657.8M320.2,657.2 343.6,657.6 384.4,658 437,658.3" stroke="#eba7a6"/>
</g>
<g fill="none" stroke-width="0.6" stroke-opacity="0.35">
<path d="M276.5,659.7 L277,659 L277.6,657.6 L278.1,657.7 L278.7,655.6 L279.2,655.7 L279.8,653.5 L280.3,653.8 L280.9,651.4 L281.4,653.4 L282,649.4 L282.5,650.8 L283.1,647.3 L283.6,648.9 L284.1,645.2 L284.7,649.4 L285.2,643.2 L285.8,646.4 L286.3,641.1 L286.9,646.4 L287.4,639 L288,643.2 L288.5,638.8 L289.1,642.9 L289.6,638.5 L290.2,646.5 L290.7,638.3 L291.2,646.5 L291.8,638 L292.3,646.3 L292.9,637.8 L293.4,645 L294,637.6 L294.5,642.2 L295.1,637.3 L295.6,645.6 L296.2,637.1 L296.7,645.6 L297.3,636.8 L297.8,641.3 L298.4,636.6 L298.9,643.4 L299.4,636.3 L300,640.2 L300.5,636.1 L301.1,640.4 L301.6,635.9 L302.2,641.8 L302.7,635.1 L303.3,642.8 L303.8,633.6 L304.4,640.6 L304.9,633.3 L305.5,639.5 L306,631.6 L306.5,641 L307.1,626.4 L307.6,632.3 L308.2,626.1 L308.7,636.4 L309.3,628.6 L309.8,631.1 L310.4,615.5 L310.9,621.8 L311.5,612.1 L312,627.9 L312.6,626.9 L313.1,629.3 L313.6,603.8 L314.2,617.3 L314.7,591.1 L315.3,611.8 L315.8,610.2 L316.4,625.5 L316.9,596.1 L317.5,595.2 L318,565.2 L318.6,598.1 L319.1,581.8 L319.7,623.2 L320.2,598.2" stroke="#cf5f5c"/>
<path d="M276.5,659.7 L277,659 L277.6,657.7 L278.1,657.2 L278.7,655.7 L279.2,656.1 L279.8,653.7 L280.3,654.3 L280.9,651.7 L281.4,653.5 L282,649.7 L282.5,652.8 L283.1,647.7 L283.6,650.8 L284.1,645.7 L284.7,649.6 L285.2,643.7 L285.8,645.7 L286.3,641.7 L286.9,644.6 L287.4,639.7 L288,642.8 L288.5,639.5 L289.1,645.6 L289.6,639.3 L290.2,644.6 L290.7,639 L291.2,643.2 L291.8,638.8 L292.3,644.8 L292.9,638.5 L293.4,643.6 L294,638.3 L294.5,644.8 L295.1,638.1 L295.6,642.9 L296.2,637.8 L296.7,644.9 L297.3,637.6 L297.8,641.2 L298.4,637.4 L298.9,640.9 L299.4,637.1 L300,643.7 L300.5,636.9 L301.1,643.7 L301.6,636.7 L302.2,644.9 L302.7,635.9 L303.3,643.2 L303.8,634.5 L304.4,639.2 L304.9,634.2 L305.5,642.3 L306,632.5 L306.5,639.9 L307.1,627.5 L307.6,638.8 L308.2,627.2 L308.7,640.8 L309.3,629.7 L309.8,631 L310.4,617 L310.9,620.9 L311.5,613.7 L312,630.1 L312.6,628 L313.1,632.1 L313.6,605.7 L314.2,617.3 L314.7,593.4 L315.3,619.1 L315.8,611.9 L316.4,634.3 L316.9,598.3 L317.5,603.4 L318,568.4 L318.6,591.6 L319.1,584.4 L319.7,621 L320.2,600.2" stroke="#cf5f5c"/>
<path d="M276.5,659.7 L277,659 L277.6,657.8 L278.1,657.9 L278.7,656 L279.2,656.2 L279.8,654.1 L280.3,654.6 L280.9,652.2 L281.4,652.8 L282,650.4 L282.5,653.1 L283.1,648.5 L283.6,651.7 L284.1,646.7 L284.7,650.7 L285.2,644.8 L285.8,649.8 L286.3,642.9 L286.9,645 L287.4,641.1 L288,647.3 L288.5,640.8 L289.1,647.6 L289.6,640.6 L290.2,643.4 L290.7,640.4 L291.2,646.4 L291.8,640.2 L292.3,647.8 L292.9,640 L293.4,646.9 L294,639.7 L294.5,645.8 L295.1,639.5 L295.6,642.8 L296.2,639.3 L296.7,642.9 L297.3,639.1 L297.8,643.2 L298.4,638.8 L298.9,645.3 L299.4,638.6 L300,643.2 L300.5,638.4 L301.1,644.8 L301.6,638.2 L302.2,644 L302.7,637.5 L303.3,642.3 L303.8,636.2 L304.4,641.7 L304.9,635.9 L305.5,643 L306,634.3 L306.5,637.8 L307.1,629.7 L307.6,635.6 L308.2,629.4 L308.7,637.2 L309.3,631.7 L309.8,638.3 L310.4,619.8 L310.9,623.6 L311.5,616.8 L312,629.1 L312.6,630.1 L313.1,630.7 L313.6,609.3 L314.2,615.3 L314.7,597.9 L315.3,613.8 L315.8,615.1 L316.4,634.9 L316.9,602.4 L317.5,601.5 L318,574.5 L318.6,588.7 L319.1,589.4 L319.7,625.9 L320.2,604.2" stroke="#cf5f5c"/>
</g>
<line x1="320.2" y1="553.3" x2="320.2" y2="659.7" stroke="#f2b9b8" stroke-width="0.8"/>
<rect x="269" y="548.3" width="175.2" height="117.4" fill="none" stroke="#e9b4b2" stroke-width="1"/>
<line x1="266" y1="659.7" x2="269" y2="659.7" stroke="#e9b4b2" stroke-width="0.8"/>
<text transform="translate(265 663.1) scale(1.1 1)" font-size="9.5" fill="#c5504c" text-anchor="end" font-family='"Liberation Sans", sans-serif' font-weight="normal" font-style="normal" >0</text>
<line x1="266" y1="639.7" x2="269" y2="639.7" stroke="#e9b4b2" stroke-width="0.8"/>
<text transform="translate(265 643.1) scale(1.1 1)" font-size="9.5" fill="#c5504c" text-anchor="end" font-family='"Liberation Sans", sans-serif' font-weight="normal" font-style="normal" >2</text>
<line x1="266" y1="619.7" x2="269" y2="619.7" stroke="#e9b4b2" stroke-width="0.8"/>
<text transform="translate(265 623.1) scale(1.1 1)" font-size="9.5" fill="#c5504c" text-anchor="end" font-family='"Liberation Sans", sans-serif' font-weight="normal" font-style="normal" >4</text>
<line x1="266" y1="599.8" x2="269" y2="599.8" stroke="#e9b4b2" stroke-width="0.8"/>
<text transform="translate(265 603.2) scale(1.1 1)" font-size="9.5" fill="#c5504c" text-anchor="end" font-family='"Liberation Sans", sans-serif' font-weight="normal" font-style="normal" >6</text>
<line x1="266" y1="579.8" x2="269" y2="579.8" stroke="#e9b4b2" stroke-width="0.8"/>
<text transform="translate(265 583.2) scale(1.1 1)" font-size="9.5" fill="#c5504c" text-anchor="end" font-family='"Liberation Sans", sans-serif' font-weight="normal" font-style="normal" >8</text>
<line x1="266" y1="559.8" x2="269" y2="559.8" stroke="#e9b4b2" stroke-width="0.8"/>
<text transform="translate(265 563.2) scale(1.1 1)" font-size="9.5" fill="#c5504c" text-anchor="end" font-family='"Liberation Sans", sans-serif' font-weight="normal" font-style="normal" >10</text>
<line x1="312.3" y1="665.7" x2="312.3" y2="668.7" stroke="#e9b4b2" stroke-width="0.8"/>
<text transform="translate(312.3 676) scale(1.1 1)" font-size="9.5" fill="#c5504c" text-anchor="middle" font-family='"Liberation Sans", sans-serif'>10<tspan dy="-4" font-size="6.5">1</tspan></text>
<line x1="357.9" y1="665.7" x2="357.9" y2="668.7" stroke="#e9b4b2" stroke-width="0.8"/>
<text transform="translate(357.9 676) scale(1.1 1)" font-size="9.5" fill="#c5504c" text-anchor="middle" font-family='"Liberation Sans", sans-serif'>10<tspan dy="-4" font-size="6.5">3</tspan></text>
<line x1="403.4" y1="665.7" x2="403.4" y2="668.7" stroke="#e9b4b2" stroke-width="0.8"/>
<text transform="translate(403.4 676) scale(1.1 1)" font-size="9.5" fill="#c5504c" text-anchor="middle" font-family='"Liberation Sans", sans-serif'>10<tspan dy="-4" font-size="6.5">5</tspan></text>
<line x1="320.2" y1="545.8" x2="320.2" y2="548.3" stroke="#e9b4b2" stroke-width="0.8"/>
<text x="320.2" y="544.1" font-size="8.5" fill="#c5504c" text-anchor="middle" font-family='"Liberation Sans", sans-serif' font-style="italic">t<tspan dy="1.5" font-size="7" font-style="normal">0</tspan></text>
<line x1="334" y1="545.8" x2="334" y2="548.3" stroke="#e9b4b2" stroke-width="0.8"/>
<text x="334" y="544.1" font-size="8.5" fill="#c5504c" text-anchor="middle" font-family='"Liberation Sans", sans-serif'>1 <tspan font-style="italic">m</tspan></text>
<line x1="371.2" y1="545.8" x2="371.2" y2="548.3" stroke="#e9b4b2" stroke-width="0.8"/>
<text x="371.2" y="544.1" font-size="8.5" fill="#c5504c" text-anchor="middle" font-family='"Liberation Sans", sans-serif'>1 <tspan font-style="italic">hr</tspan></text>
<line x1="403" y1="545.8" x2="403" y2="548.3" stroke="#e9b4b2" stroke-width="0.8"/>
<text x="403" y="544.1" font-size="8.5" fill="#c5504c" text-anchor="middle" font-family='"Liberation Sans", sans-serif'>1 <tspan font-style="italic">day</tspan></text>
<line x1="436.3" y1="545.8" x2="436.3" y2="548.3" stroke="#e9b4b2" stroke-width="0.8"/>
<text x="436.3" y="544.1" font-size="8.5" fill="#c5504c" text-anchor="middle" font-family='"Liberation Sans", sans-serif'>1 <tspan font-style="italic">mo</tspan></text>
<text x="272.5" y="561.8" font-size="11.5" fill="#c5504c" text-anchor="start" font-family='"Liberation Sans", sans-serif' font-weight="normal" font-style="italic" >Program</text>
<text x="387.5" y="561.8" font-size="11.5" fill="#c5504c" text-anchor="middle" font-family='"Liberation Sans", sans-serif' font-weight="normal" font-style="italic" >Drift</text>
<text x="356.1" y="688.7" font-size="15" fill="#c5504c" text-anchor="middle" font-family='"Liberation Sans", sans-serif' font-style="italic">Time <tspan font-style="normal">[</tspan>s<tspan font-style="normal">]</tspan></text>
<text x="246" y="607" font-size="15.5" fill="#c5504c" text-anchor="middle" font-family='"Liberation Sans", sans-serif' transform="rotate(-90 246 607)" dy="4.5"><tspan font-style="italic">g</tspan><tspan dx="2.5" dy="-6" font-size="10">+</tspan><tspan dx="6" dy="6">[</tspan><tspan font-style="italic">μS</tspan>]</text>
<path d="M501.5,660.4 L501.5,660.4 L502,659.7 L502.6,659.1 L503.1,658.4 L503.7,657.7 L504.2,657.1 L504.8,656.4 L505.3,655.7 L505.9,655 L506.4,654.4 L507,653.7 L507.5,653 L508.1,652.4 L508.6,651.7 L509.1,651 L509.7,650.4 L510.2,649.7 L510.8,649 L511.3,648.4 L511.9,647.7 L512.4,647 L513,646.9 L513.5,646.9 L514.1,646.8 L514.6,646.7 L515.2,646.6 L515.7,646.5 L516.2,646.5 L516.8,646.4 L517.3,646.3 L517.9,646.2 L518.4,646.1 L519,646.1 L519.5,646 L520.1,645.9 L520.6,645.8 L521.2,645.7 L521.7,645.7 L522.3,645.6 L522.8,645.5 L523.4,645.4 L523.9,645.3 L524.4,645.3 L525,645.2 L525.5,645.1 L526.1,645 L526.6,644.9 L527.2,644.6 L527.7,644.1 L528.3,643.5 L528.8,643.1 L529.4,643.2 L529.9,643.6 L530.5,641.7 L531,639.5 L531.5,637.6 L532.1,636.6 L532.6,637.3 L533.2,640 L533.7,639 L534.3,633.2 L534.8,627.9 L535.4,624.7 L535.9,625.2 L536.5,629.9 L537,638.5 L537.6,628.6 L538.1,617 L538.6,608.7 L539.2,606.2 L539.7,611.4 L540.3,624.1 L540.8,630.4 L541.4,609.5 L541.9,591.8 L542.5,582.2 L543,584 L543.6,598.5 L544.1,623.8 L544.7,610.8 L545.2,579.7 L545.2,660.4 Z" fill="#eadcf7"/>
<path d="M545.2,660.4 L545.2,637.5 L662,646.6 L662,660.4 Z" fill="#eadcf7" fill-opacity="0.4"/>
<g fill="none" stroke-width="0.7" stroke-opacity="0.85">
<path d="M545.2,564.8 552.2,570.3 563.9,575.9 582.6,582.7 609.4,590.4 636.3,596.6 662,601.7M545.2,580.7 552.2,585.7 563.9,590.7 582.6,596.7 609.4,603.4 636.3,608.9 662,613.3M545.2,605 552.2,608.4 563.9,612 582.6,616.2 609.4,621 636.3,624.8 662,627.9M545.2,616.4 552.2,619.3 563.9,622.3 582.6,625.8 609.4,629.7 636.3,632.8 662,635.3M545.2,655.4 568.6,656.3 609.4,657.1 662,657.8M545.2,653.4 568.6,654.5 609.4,655.6 662,656.5M545.2,649.5 568.6,651.6 609.4,653.6 662,655.1M545.2,654.9 568.6,655.9 609.4,656.9 662,657.7M545.2,652.5 568.6,653.9 609.4,655.3 662,656.4M545.2,655.7 568.6,656.6 609.4,657.4 662,658M545.2,649.4 568.6,651.4 609.4,653.2 662,654.7M545.2,655.3 568.6,656.3 609.4,657.1 662,657.9M545.2,650.8 568.6,652.7 609.4,654.3 662,655.7M545.2,655.4 568.6,656.4 609.4,657.2 662,658M545.2,652.5 568.6,654 609.4,655.4 662,656.5M545.2,655.4 568.6,656.4 609.4,657.3 662,658M545.2,654.1 568.6,655.3 609.4,656.3 662,657.2M545.2,650.9 568.6,652.6 609.4,654.2 662,655.6M545.2,651.9 568.6,653.3 609.4,654.6 662,655.8M545.2,647.8 568.6,649.9 609.4,651.8 662,653.4M545.2,655.6 568.6,656.4 609.4,657.1 662,657.8M545.2,652.8 568.6,654.1 609.4,655.3 662,656.4M545.2,656.3 568.6,656.9 609.4,657.6 662,658.1M545.2,649.1 568.6,651.3 609.4,653.3 662,654.9M545.2,656.6 568.6,657.3 609.4,657.9 662,658.4M545.2,651.7 568.6,653.1 609.4,654.4 662,655.5M545.2,649.5 568.6,651.3 609.4,653 662,654.4M545.2,652.1 568.6,653.7 609.4,655.1 662,656.3M545.2,656.4 568.6,657.2 609.4,657.9 662,658.4M545.2,654.6 568.6,655.6 609.4,656.6 662,657.4M545.2,652.6 568.6,653.9 609.4,655.1 662,656.1M545.2,654.5 568.6,655.6 609.4,656.7 662,657.5M545.2,655.6 568.6,656.4 609.4,657.3 662,657.9M545.2,654.5 568.6,655.6 609.4,656.6 662,657.5M545.2,651.8 568.6,653.3 609.4,654.8 662,656M545.2,652.2 568.6,653.6 609.4,655 662,656.1M545.2,654.9 568.6,655.8 609.4,656.6 662,657.3M545.2,652.4 568.6,653.9 609.4,655.2 662,656.3M545.2,656 568.6,656.8 609.4,657.5 662,658.1M545.2,652.1 568.6,653.5 609.4,654.8 662,655.9M545.2,655.2 568.6,656.1 609.4,656.9 662,657.6M545.2,651.1 568.6,652.6 609.4,654 662,655.2M545.2,651 568.6,652.9 609.4,654.5 662,655.9M545.2,655.5 568.6,656.3 609.4,657 662,657.7M545.2,652.4 568.6,653.8 609.4,655.1 662,656.3M545.2,655.6 568.6,656.5 609.4,657.3 662,658M545.2,654.8 568.6,655.7 609.4,656.6 662,657.3M545.2,655.6 568.6,656.4 609.4,657.2 662,657.8M545.2,654.9 568.6,655.8 609.4,656.7 662,657.4M545.2,651.9 568.6,653.3 609.4,654.7 662,655.8M545.2,655.8 568.6,656.7 609.4,657.4 662,658.1M545.2,653.4 568.6,654.5 609.4,655.6 662,656.6M545.2,652.5 568.6,653.8 609.4,655.1 662,656.2" stroke="#c49fe4"/>
<path d="M545.2,633 568.6,638.2 609.4,642.9 662,646.8M545.2,639.3 568.6,643.1 609.4,646.6 662,649.5M545.2,640.2 568.6,643.5 609.4,646.6 662,649.3M545.2,638.2 568.6,642.3 609.4,646.1 662,649.2M545.2,636.9 568.6,641.2 609.4,645.2 662,648.5M545.2,639.8 568.6,643.7 609.4,647.3 662,650.2M545.2,643.6 568.6,646.3 609.4,648.8 662,651M545.2,639 568.6,643.2 609.4,647 662,650.1M545.2,638.4 568.6,641.9 609.4,645.3 662,648.2M545.2,642.2 568.6,645.1 609.4,647.8 662,650.2M545.2,636.1 568.6,640.4 609.4,644.3 662,647.7M545.2,640.7 568.6,644.5 609.4,648 662,650.8M545.2,640.1 568.6,644 609.4,647.5 662,650.4M545.2,635.9 568.6,640.3 609.4,644.3 662,647.7M545.2,637 568.6,641.4 609.4,645.3 662,648.7M545.2,640.9 568.6,644.7 609.4,648.2 662,651M545.2,642.9 568.6,645.9 609.4,648.8 662,651.2M545.2,640.9 568.6,644.4 609.4,647.6 662,650.3M545.2,640.3 568.6,643.7 609.4,646.9 662,649.6M545.2,636.7 568.6,640.6 609.4,644.2 662,647.4M545.2,640.7 568.6,644.2 609.4,647.3 662,650M545.2,642.3 568.6,645.5 609.4,648.5 662,651" stroke="#a872d7"/>
<path d="M545.2,645.7 568.6,648.4 609.4,650.9 662,653M545.2,646.4 568.6,648.7 609.4,650.9 662,652.7M545.2,639.5 568.6,643.3 609.4,646.7 662,649.6M545.2,644.8 568.6,647.3 609.4,649.6 662,651.7M545.2,640.3 568.6,644 609.4,647.4 662,650.2M545.2,641.3 568.6,644.6 609.4,647.6 662,650.2M545.2,645.4 568.6,647.9 609.4,650.1 662,652.1M545.2,646.4 568.6,648.7 609.4,650.9 662,652.7M545.2,650.7 568.6,652.5 609.4,654.2 662,655.6M545.2,645.6 568.6,648 609.4,650.2 662,652.1M545.2,645.7 568.6,648.1 609.4,650.4 662,652.3M545.2,643.5 568.6,646.5 609.4,649.2 662,651.6M545.2,641.4 568.6,644.5 609.4,647.5 662,650M545.2,644.7 568.6,647.5 609.4,650 662,652.2M545.2,648.4 568.6,650.5 609.4,652.4 662,654.1M545.2,649.4 568.6,651.6 609.4,653.5 662,655M545.2,650 568.6,651.8 609.4,653.4 662,654.8M545.2,641.2 568.6,644.4 609.4,647.4 662,649.9M545.2,639.1 568.6,643.1 609.4,646.8 662,649.9M545.2,639.8 568.6,643.7 609.4,647.2 662,650.2M545.2,649.1 568.6,651.2 609.4,653.2 662,654.8M545.2,643.3 568.6,646.4 609.4,649.3 662,651.7M545.2,648 568.6,650.2 609.4,652.2 662,653.9M545.2,645.4 568.6,648.1 609.4,650.5 662,652.6" stroke="#b689de"/>
<path d="M545.2,659 568.6,659.3 609.4,659.5 662,659.7M545.2,658.3 568.6,658.6 609.4,658.9 662,659.2M545.2,658 568.6,658.4 609.4,658.8 662,659.1M545.2,657.6 568.6,658.1 609.4,658.5 662,658.9M545.2,657.5 568.6,658 609.4,658.5 662,658.9M545.2,659 568.6,659.3 609.4,659.5 662,659.6M545.2,656.6 568.6,657.3 609.4,658 662,658.5M545.2,656.9 568.6,657.5 609.4,658.1 662,658.6M545.2,657.6 568.6,658.1 609.4,658.6 662,658.9M545.2,659.1 568.6,659.4 609.4,659.6 662,659.8M545.2,659 568.6,659.2 609.4,659.5 662,659.6M545.2,657.6 568.6,658 609.4,658.5 662,658.9M545.2,658.2 568.6,658.6 609.4,658.9 662,659.3M545.2,656.3 568.6,657 609.4,657.6 662,658.2M545.2,658.8 568.6,659.1 609.4,659.4 662,659.6M545.2,658.4 568.6,658.8 609.4,659.1 662,659.4M545.2,658.8 568.6,659.1 609.4,659.4 662,659.6M545.2,658.1 568.6,658.5 609.4,658.9 662,659.2M545.2,658.2 568.6,658.6 609.4,658.9 662,659.2M545.2,657.5 568.6,658.1 609.4,658.6 662,659M545.2,657.1 568.6,657.8 609.4,658.3 662,658.8M545.2,659 568.6,659.2 609.4,659.5 662,659.7M545.2,660.1 568.6,660.1 609.4,660.2 662,660.2M545.2,659.8 568.6,659.9 609.4,660 662,660.1M545.2,656.4 568.6,657.1 609.4,657.7 662,658.3M545.2,659.2 568.6,659.4 609.4,659.6 662,659.8M545.2,658.8 568.6,659.1 609.4,659.3 662,659.5M545.2,658 568.6,658.4 609.4,658.8 662,659.1M545.2,659.2 568.6,659.4 609.4,659.6 662,659.8M545.2,658 568.6,658.4 609.4,658.7 662,659.1M545.2,656.7 568.6,657.3 609.4,657.9 662,658.4M545.2,658.6 568.6,659 609.4,659.2 662,659.5M545.2,659.2 568.6,659.4 609.4,659.6 662,659.7" stroke="#d2b6eb"/>
<path d="M545.2,638.8 568.6,642.3 609.4,645.6 662,648.5M545.2,635.5 568.6,640.4 609.4,644.8 662,648.4M545.2,635.9 568.6,640.2 609.4,644.2 662,647.6" stroke="#9a5bd0"/>
</g>
<g fill="none" stroke-width="0.6" stroke-opacity="0.35">
<path d="M501.5,660.4 L502,660 L502.6,659.1 L503.1,659.1 L503.7,657.7 L504.2,657.7 L504.8,656.4 L505.3,657.4 L505.9,655 L506.4,655.6 L507,653.7 L507.5,654.9 L508.1,652.4 L508.6,654.4 L509.1,651 L509.7,653.9 L510.2,649.7 L510.8,653 L511.3,648.4 L511.9,652.7 L512.4,647 L513,650.6 L513.5,646.9 L514.1,649.7 L514.6,646.7 L515.2,651.1 L515.7,646.5 L516.2,651.7 L516.8,646.4 L517.3,650 L517.9,646.2 L518.4,650.3 L519,646.1 L519.5,648.2 L520.1,645.9 L520.6,648.4 L521.2,645.7 L521.7,648.9 L522.3,645.6 L522.8,650 L523.4,645.4 L523.9,649.6 L524.4,645.3 L525,649.5 L525.5,645.1 L526.1,648.2 L526.6,644.9 L527.2,648.4 L527.7,644.1 L528.3,649.1 L528.8,643.1 L529.4,648.8 L529.9,643.6 L530.5,648.7 L531,639.5 L531.5,646.5 L532.1,636.6 L532.6,645.7 L533.2,640 L533.7,646 L534.3,633.2 L534.8,640.6 L535.4,624.7 L535.9,632.1 L536.5,629.9 L537,646.4 L537.6,628.6 L538.1,630.1 L538.6,608.7 L539.2,624.6 L539.7,611.4 L540.3,635.3 L540.8,630.4 L541.4,621.2 L541.9,591.8 L542.5,611 L543,584 L543.6,608.2 L544.1,623.8 L544.7,629.6 L545.2,579.7" stroke="#9a5bd0"/>
<path d="M501.5,660.4 L502,660.1 L502.6,659.6 L503.1,659.5 L503.7,658.7 L504.2,659 L504.8,657.9 L505.3,657.9 L505.9,657 L506.4,657.7 L507,656.2 L507.5,656.8 L508.1,655.3 L508.6,655.8 L509.1,654.5 L509.7,656 L510.2,653.6 L510.8,654.6 L511.3,652.8 L511.9,654.7 L512.4,652 L513,655.1 L513.5,651.9 L514.1,654.3 L514.6,651.8 L515.2,655.2 L515.7,651.7 L516.2,655 L516.8,651.6 L517.3,653 L517.9,651.5 L518.4,652.9 L519,651.4 L519.5,653.7 L520.1,651.3 L520.6,652.8 L521.2,651.2 L521.7,653.8 L522.3,651.1 L522.8,653.3 L523.4,651 L523.9,652.6 L524.4,650.9 L525,654.4 L525.5,650.8 L526.1,653.2 L526.6,650.6 L527.2,651.9 L527.7,650.1 L528.3,652.7 L528.8,649.5 L529.4,651.4 L529.9,649.8 L530.5,650.6 L531,647.2 L531.5,648.6 L532.1,645.4 L532.6,649.5 L533.2,647.5 L533.7,651.4 L534.3,643.2 L534.8,643.4 L535.4,637.9 L535.9,642.9 L536.5,641.2 L537,650.8 L537.6,640.3 L538.1,642.7 L538.6,627.8 L539.2,637 L539.7,629.5 L540.3,645.2 L540.8,641.5 L541.4,637.1 L541.9,617.2 L542.5,619.7 L543,612.3 L543.6,628.4 L544.1,637.3 L544.7,634.4 L545.2,609.5" stroke="#9a5bd0"/>
<path d="M501.5,660.4 L502,660 L502.6,659.1 L503.1,659 L503.7,657.9 L504.2,658.2 L504.8,656.6 L505.3,657.4 L505.9,655.3 L506.4,656.1 L507,654.1 L507.5,655.5 L508.1,652.8 L508.6,653.8 L509.1,651.5 L509.7,652.4 L510.2,650.3 L510.8,652.3 L511.3,649 L511.9,650.3 L512.4,647.8 L513,651.3 L513.5,647.6 L514.1,651.9 L514.6,647.5 L515.2,650.7 L515.7,647.3 L516.2,649.6 L516.8,647.2 L517.3,649.4 L517.9,647 L518.4,650.9 L519,646.9 L519.5,649.1 L520.1,646.7 L520.6,651.3 L521.2,646.5 L521.7,652 L522.3,646.4 L522.8,650.6 L523.4,646.2 L523.9,649.4 L524.4,646.1 L525,649 L525.5,645.9 L526.1,649.2 L526.6,645.7 L527.2,649.3 L527.7,645 L528.3,648.2 L528.8,644.1 L529.4,647.4 L529.9,644.5 L530.5,646.9 L531,640.7 L531.5,644.3 L532.1,637.9 L532.6,646 L533.2,641.1 L533.7,645.6 L534.3,634.7 L534.8,635.8 L535.4,626.7 L535.9,635.4 L536.5,631.6 L537,644 L537.6,630.3 L538.1,630.7 L538.6,611.5 L539.2,622.3 L539.7,614.1 L540.3,637.5 L540.8,632 L541.4,621.7 L541.9,595.6 L542.5,600.8 L543,588.2 L543.6,617.5 L544.1,625.8 L544.7,631.6 L545.2,584.2" stroke="#9a5bd0"/>
</g>
<line x1="545.2" y1="553.3" x2="545.2" y2="660.4" stroke="#e0cdf2" stroke-width="0.8"/>
<rect x="494" y="548.3" width="175.2" height="117.4" fill="none" stroke="#d2bfea" stroke-width="1"/>
<line x1="491" y1="660.4" x2="494" y2="660.4" stroke="#d2bfea" stroke-width="0.8"/>
<text transform="translate(490 663.8) scale(1.1 1)" font-size="9.5" fill="#8e43c6" text-anchor="end" font-family='"Liberation Sans", sans-serif' font-weight="normal" font-style="normal" >0</text>
<line x1="491" y1="628.5" x2="494" y2="628.5" stroke="#d2bfea" stroke-width="0.8"/>
<text transform="translate(490 631.9) scale(1.1 1)" font-size="9.5" fill="#8e43c6" text-anchor="end" font-family='"Liberation Sans", sans-serif' font-weight="normal" font-style="normal" >5</text>
<line x1="491" y1="596.7" x2="494" y2="596.7" stroke="#d2bfea" stroke-width="0.8"/>
<text transform="translate(490 600.1) scale(1.1 1)" font-size="9.5" fill="#8e43c6" text-anchor="end" font-family='"Liberation Sans", sans-serif' font-weight="normal" font-style="normal" >10</text>
<line x1="491" y1="564.8" x2="494" y2="564.8" stroke="#d2bfea" stroke-width="0.8"/>
<text transform="translate(490 568.2) scale(1.1 1)" font-size="9.5" fill="#8e43c6" text-anchor="end" font-family='"Liberation Sans", sans-serif' font-weight="normal" font-style="normal" >15</text>
<line x1="537.3" y1="665.7" x2="537.3" y2="668.7" stroke="#d2bfea" stroke-width="0.8"/>
<text transform="translate(537.3 676) scale(1.1 1)" font-size="9.5" fill="#8e43c6" text-anchor="middle" font-family='"Liberation Sans", sans-serif'>10<tspan dy="-4" font-size="6.5">1</tspan></text>
<line x1="582.9" y1="665.7" x2="582.9" y2="668.7" stroke="#d2bfea" stroke-width="0.8"/>
<text transform="translate(582.9 676) scale(1.1 1)" font-size="9.5" fill="#8e43c6" text-anchor="middle" font-family='"Liberation Sans", sans-serif'>10<tspan dy="-4" font-size="6.5">3</tspan></text>
<line x1="628.4" y1="665.7" x2="628.4" y2="668.7" stroke="#d2bfea" stroke-width="0.8"/>
<text transform="translate(628.4 676) scale(1.1 1)" font-size="9.5" fill="#8e43c6" text-anchor="middle" font-family='"Liberation Sans", sans-serif'>10<tspan dy="-4" font-size="6.5">5</tspan></text>
<line x1="545.2" y1="545.8" x2="545.2" y2="548.3" stroke="#d2bfea" stroke-width="0.8"/>
<text x="545.2" y="544.1" font-size="8.5" fill="#8e43c6" text-anchor="middle" font-family='"Liberation Sans", sans-serif' font-style="italic">t<tspan dy="1.5" font-size="7" font-style="normal">0</tspan></text>
<line x1="559" y1="545.8" x2="559" y2="548.3" stroke="#d2bfea" stroke-width="0.8"/>
<text x="559" y="544.1" font-size="8.5" fill="#8e43c6" text-anchor="middle" font-family='"Liberation Sans", sans-serif'>1 <tspan font-style="italic">m</tspan></text>
<line x1="596.2" y1="545.8" x2="596.2" y2="548.3" stroke="#d2bfea" stroke-width="0.8"/>
<text x="596.2" y="544.1" font-size="8.5" fill="#8e43c6" text-anchor="middle" font-family='"Liberation Sans", sans-serif'>1 <tspan font-style="italic">hr</tspan></text>
<line x1="628" y1="545.8" x2="628" y2="548.3" stroke="#d2bfea" stroke-width="0.8"/>
<text x="628" y="544.1" font-size="8.5" fill="#8e43c6" text-anchor="middle" font-family='"Liberation Sans", sans-serif'>1 <tspan font-style="italic">day</tspan></text>
<line x1="661.3" y1="545.8" x2="661.3" y2="548.3" stroke="#d2bfea" stroke-width="0.8"/>
<text x="661.3" y="544.1" font-size="8.5" fill="#8e43c6" text-anchor="middle" font-family='"Liberation Sans", sans-serif'>1 <tspan font-style="italic">mo</tspan></text>
<text x="497.5" y="561.8" font-size="11.5" fill="#8e43c6" text-anchor="start" font-family='"Liberation Sans", sans-serif' font-weight="normal" font-style="italic" >Program</text>
<text x="612.5" y="561.8" font-size="11.5" fill="#8e43c6" text-anchor="middle" font-family='"Liberation Sans", sans-serif' font-weight="normal" font-style="italic" >Drift</text>
<text x="581.1" y="688.7" font-size="15" fill="#8e43c6" text-anchor="middle" font-family='"Liberation Sans", sans-serif' font-style="italic">Time <tspan font-style="normal">[</tspan>s<tspan font-style="normal">]</tspan></text>
<text x="471" y="607" font-size="15.5" fill="#8e43c6" text-anchor="middle" font-family='"Liberation Sans", sans-serif' transform="rotate(-90 471 607)" dy="4.5"><tspan font-style="italic">g</tspan><tspan dx="2.5" dy="-6" font-size="10">−</tspan><tspan dx="6" dy="6">[</tspan><tspan font-style="italic">μS</tspan>]</text>
<line x1="42.2" y1="398.3" x2="179" y2="398.3" stroke="#7f7f7f" stroke-width="1.4"/>
<line x1="94.3" y1="385.3" x2="94.3" y2="459.6" stroke="#7f7f7f" stroke-width="1.4"/>
<line x1="166.7" y1="385.3" x2="166.7" y2="459.6" stroke="#7f7f7f" stroke-width="1.4"/>
<line x1="43.8" y1="566.5" x2="180" y2="566.5" stroke="#7f7f7f" stroke-width="1.4"/>
<line x1="95.9" y1="553.3" x2="95.9" y2="628.2" stroke="#7f7f7f" stroke-width="1.4"/>
<line x1="167.9" y1="553.3" x2="167.9" y2="628.2" stroke="#7f7f7f" stroke-width="1.4"/>
<path d="M65.9,398.3 V408.1 H57.5 V418.5 H66.8 V428.3" fill="none" stroke="#595959" stroke-width="1.7"/>
<line x1="52.7" y1="407.8" x2="52.7" y2="419.1" stroke="#595959" stroke-width="1.7"/>
<line x1="46.9" y1="413.6" x2="52.7" y2="413.6" stroke="#595959" stroke-width="1.5"/>
<path d="M43.4,413.6 L48.9,410.6 L48.9,416.6 Z" fill="#595959"/>
<circle cx="65.9" cy="398.3" r="2.4" fill="#555"/>
<path d="M66.8,428.3 L73.8,428.3 L76.3,423.3 L79.3,433.3 L82.3,423.3 L84.8,433.3 L86.8,428.3 L94.3,428.3" fill="none" stroke="#f07a1a" stroke-width="1.6" stroke-linejoin="miter"/>
<circle cx="94.3" cy="427.3" r="2.6" fill="#f07a1a"/>
<path d="M138.6,398.3 V408.1 H130.2 V418.5 H139.5 V428.3" fill="none" stroke="#595959" stroke-width="1.7"/>
<line x1="125.4" y1="407.8" x2="125.4" y2="419.1" stroke="#595959" stroke-width="1.7"/>
<line x1="119.6" y1="413.6" x2="125.4" y2="413.6" stroke="#595959" stroke-width="1.5"/>
<path d="M116.1,413.6 L121.6,410.6 L121.6,416.6 Z" fill="#595959"/>
<circle cx="138.6" cy="398.3" r="2.4" fill="#555"/>
<path d="M139.5,428.3 L146.5,428.3 L149,423.3 L152,433.3 L155,423.3 L157.5,433.3 L159.5,428.3 L166.7,428.3" fill="none" stroke="#22a22a" stroke-width="1.6" stroke-linejoin="miter"/>
<circle cx="166.7" cy="427.3" r="2.6" fill="#22a22a"/>
<path d="M67.4,566.5 V576.3 H59 V586.7 H68.3 V596.5" fill="none" stroke="#595959" stroke-width="1.7"/>
<line x1="54.2" y1="576" x2="54.2" y2="587.3" stroke="#595959" stroke-width="1.7"/>
<line x1="48.4" y1="581.8" x2="54.2" y2="581.8" stroke="#595959" stroke-width="1.5"/>
<path d="M44.9,581.8 L50.4,578.8 L50.4,584.8 Z" fill="#595959"/>
<circle cx="67.4" cy="566.5" r="2.4" fill="#555"/>
<path d="M68.3,596.5 L75.3,596.5 L77.8,591.5 L80.8,601.5 L83.8,591.5 L86.3,601.5 L88.3,596.5 L95.9,596.5" fill="none" stroke="#e3202a" stroke-width="1.6" stroke-linejoin="miter"/>
<circle cx="95.9" cy="595.5" r="2.6" fill="#e3202a"/>
<path d="M140.5,566.5 V576.3 H132.1 V586.7 H141.4 V596.5" fill="none" stroke="#595959" stroke-width="1.7"/>
<line x1="127.3" y1="576" x2="127.3" y2="587.3" stroke="#595959" stroke-width="1.7"/>
<line x1="121.5" y1="581.8" x2="127.3" y2="581.8" stroke="#595959" stroke-width="1.5"/>
<path d="M118,581.8 L123.5,578.8 L123.5,584.8 Z" fill="#595959"/>
<circle cx="140.5" cy="566.5" r="2.4" fill="#555"/>
<path d="M141.4,596.5 L148.4,596.5 L150.9,591.5 L153.9,601.5 L156.9,591.5 L159.4,601.5 L161.4,596.5 L167.9,596.5" fill="none" stroke="#9b6fd2" stroke-width="1.6" stroke-linejoin="miter"/>
<circle cx="167.9" cy="595.5" r="2.6" fill="#9b6fd2"/>
<text x="57.5" y="452" font-size="18.5" fill="#f07a1a" font-family='"Liberation Serif", serif' font-weight="bold" font-style="italic">G<tspan dx="0.5" dy="-8" font-size="14.8" font-weight="normal" font-style="normal">+</tspan></text>
<text x="130.3" y="452" font-size="18.5" fill="#22a22a" font-family='"Liberation Serif", serif' font-weight="bold" font-style="italic">G<tspan dx="0.5" dy="-8" font-size="14.8" font-weight="normal" font-style="normal">−</tspan></text>
<text x="58" y="619.5" font-size="21" fill="#e3202a" font-family='"Liberation Serif", serif' font-weight="bold" font-style="italic">g<tspan dx="0.5" dy="-8" font-size="16.8" font-weight="normal" font-style="normal">+</tspan></text>
<text x="131.3" y="619.5" font-size="21" fill="#9b6fd2" font-family='"Liberation Serif", serif' font-weight="bold" font-style="italic">g<tspan dx="0.5" dy="-8" font-size="16.8" font-weight="normal" font-style="normal">−</tspan></text>
<text x="114.5" y="478" font-size="12" fill="#595959" text-anchor="middle" font-family='"Liberation Sans", sans-serif' font-weight="normal" font-style="normal" textLength="108" lengthAdjust="spacingAndGlyphs">Most Significant Pair</text>
<text x="114.5" y="494.5" font-size="11" fill="#595959" text-anchor="middle" font-family='"Liberation Sans", sans-serif' font-weight="normal" font-style="normal" >(MSP)</text>
<text x="116.8" y="645" font-size="12" fill="#595959" text-anchor="middle" font-family='"Liberation Sans", sans-serif' font-weight="normal" font-style="normal" textLength="108.8" lengthAdjust="spacingAndGlyphs">Least Significant Pair</text>
<text x="117.1" y="661.5" font-size="11" fill="#595959" text-anchor="middle" font-family='"Liberation Sans", sans-serif' font-weight="normal" font-style="normal" >(LSP)</text>
<text transform="translate(11.5 527) scale(1.0 1)" font-size="18" fill="#2e75b6" font-family='"Liberation Serif", serif' font-weight="bold" font-style="italic">W</text>
<text transform="translate(31 527) scale(1.25 1)" font-size="17" fill="#262626" font-family='"Liberation Serif", serif' font-weight="normal" font-style="normal">=</text>
<text transform="translate(47.5 527) scale(1.0 1)" font-size="17" fill="#262626" font-family='"Liberation Serif", serif' font-weight="normal" font-style="italic">F</text>
<text transform="translate(59.5 527) scale(1.0 1)" font-size="17" fill="#262626" font-family='"Liberation Serif", serif' font-weight="normal" font-style="normal">(</text>
<text transform="translate(66 527) scale(0.9 1)" font-size="17" fill="#f07a1a" font-family='"Liberation Serif", serif' font-weight="bold" font-style="italic">G</text>
<text x="77.5" y="520" font-size="14.5" fill="#f07a1a" font-family='"Liberation Serif", serif'>+</text>
<text transform="translate(89 527) scale(1.2 1)" font-size="17" fill="#262626" font-family='"Liberation Serif", serif' font-weight="normal" font-style="normal">−</text>
<text transform="translate(106 527) scale(0.9 1)" font-size="17" fill="#22a22a" font-family='"Liberation Serif", serif' font-weight="bold" font-style="italic">G</text>
<text x="117.5" y="520" font-size="14.5" fill="#22a22a" font-family='"Liberation Serif", serif'>−</text>
<text transform="translate(125.5 527) scale(1.0 1)" font-size="17" fill="#262626" font-family='"Liberation Serif", serif' font-weight="normal" font-style="normal">)</text>
<text transform="translate(135.5 527) scale(1.1 1)" font-size="17" fill="#262626" font-family='"Liberation Serif", serif' font-weight="normal" font-style="normal">+</text>
<text transform="translate(151.5 527) scale(1.0 1)" font-size="19" fill="#e3202a" font-family='"Liberation Serif", serif' font-weight="bold" font-style="italic">g</text>
<text x="162.5" y="520" font-size="14.5" fill="#e3202a" font-family='"Liberation Serif", serif'>+</text>
<text transform="translate(174.5 527) scale(1.2 1)" font-size="17" fill="#262626" font-family='"Liberation Serif", serif' font-weight="normal" font-style="normal">−</text>
<text transform="translate(192 527) scale(1.0 1)" font-size="19" fill="#9b6fd2" font-family='"Liberation Serif", serif' font-weight="bold" font-style="italic">g</text>
<text x="203" y="520" font-size="14.5" fill="#9b6fd2" font-family='"Liberation Serif", serif'>−</text>
<text x="8.5" y="23" font-size="18.5" fill="#404040" text-anchor="start" font-family='"Liberation Sans", sans-serif' font-weight="bold" font-style="normal" >a</text>
<text x="10.8" y="212" font-size="18" fill="#333" text-anchor="start" font-family='"Liberation Sans", sans-serif' font-weight="bold" font-style="normal" >b</text>
<text x="12.3" y="386" font-size="18" fill="#333" text-anchor="start" font-family='"Liberation Sans", sans-serif' font-weight="bold" font-style="normal" >c</text>
<text x="235.6" y="386" font-size="18" fill="#000" text-anchor="start" font-family='"Liberation Sans", sans-serif' font-weight="bold" font-style="normal" >d</text>
<text x="12.3" y="719.6" font-size="18" fill="#333" text-anchor="start" font-family='"Liberation Sans", sans-serif' font-weight="bold" font-style="normal" >e</text>
</svg></body></html>
